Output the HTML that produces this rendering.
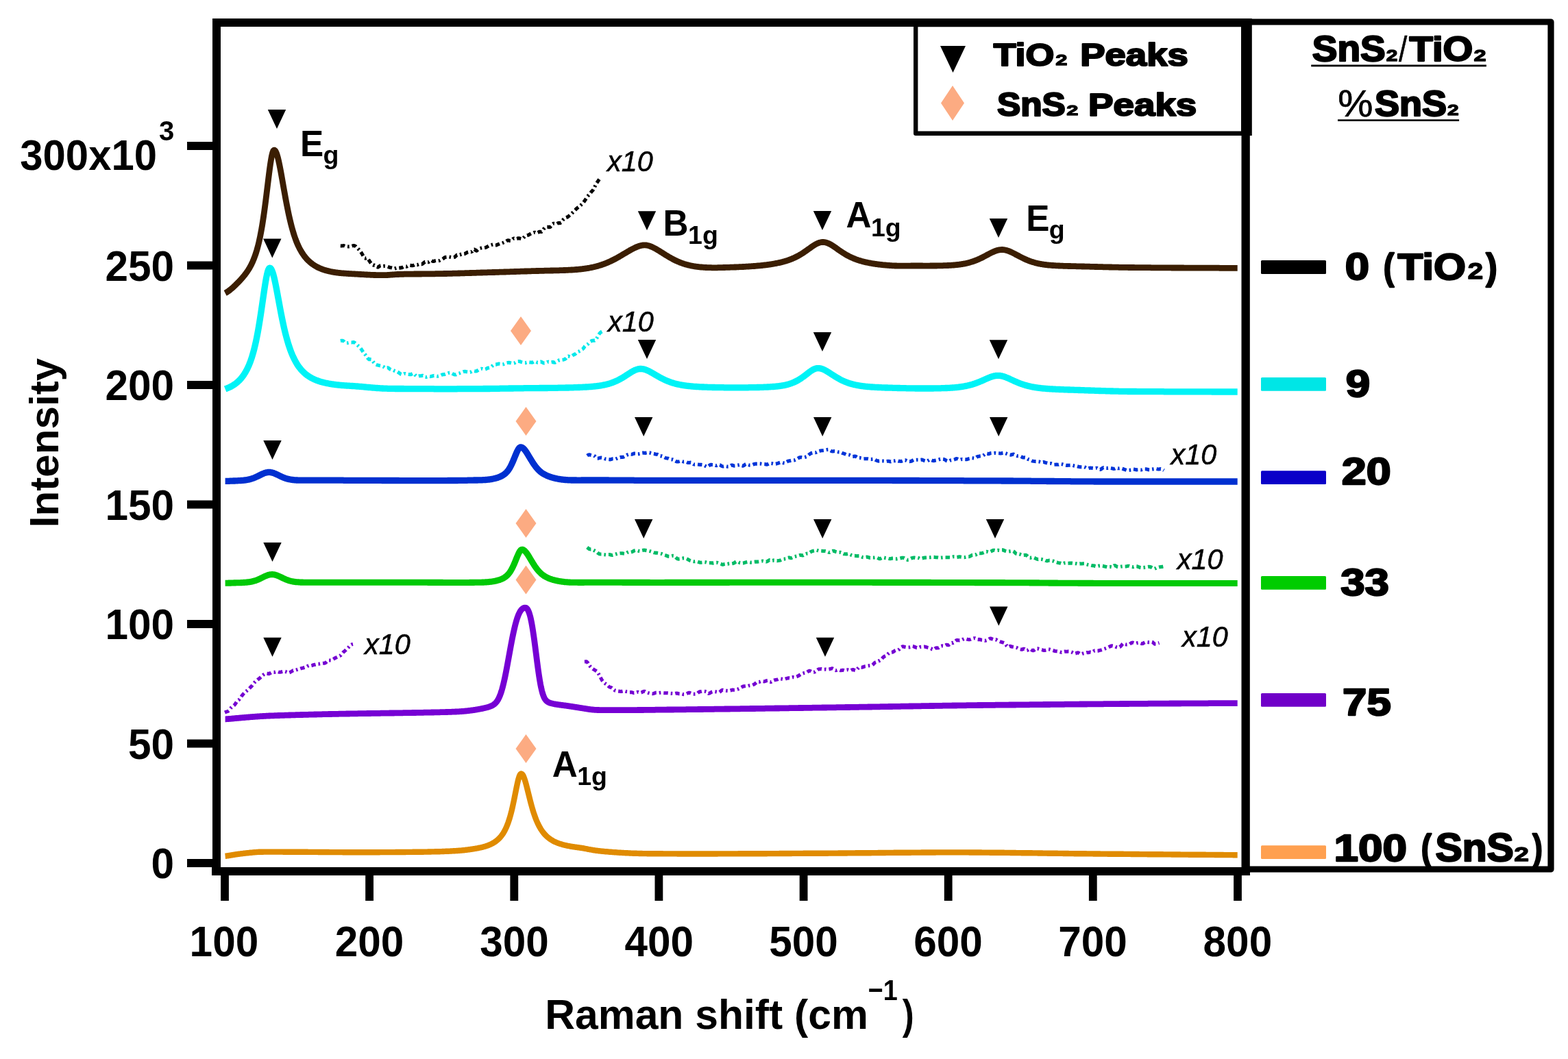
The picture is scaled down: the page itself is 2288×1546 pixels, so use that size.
<!DOCTYPE html>
<html lang="en"><head><meta charset="utf-8"><title>Raman spectra of SnS2/TiO2</title>
<style>
html,body{margin:0;padding:0;background:#fff;}
svg{display:block;}
.ab{font-family:"Liberation Sans",sans-serif;font-weight:700;fill:#000;}
.ar{font-family:"Liberation Sans",sans-serif;font-weight:400;fill:#000;stroke:#000;stroke-width:0.6px;}
.ai{font-family:"Liberation Sans",sans-serif;font-weight:400;font-style:italic;fill:#000;stroke:#000;stroke-width:0.5px;}
.blk{font-family:"Liberation Sans",sans-serif;font-weight:700;fill:#000;stroke:#000;stroke-width:2.4px;stroke-linejoin:round;paint-order:stroke fill;}
.s2{font-family:"Liberation Sans",sans-serif;font-weight:700;fill:#000;stroke:#000;stroke-width:1.4px;stroke-linejoin:round;paint-order:stroke fill;}
body{width:2288px;height:1546px;overflow:hidden;}
.c{fill:none;stroke-linejoin:round;stroke-linecap:butt;}
.d{fill:none;stroke-width:5.1;stroke-dasharray:6.5 4 2.6 4;stroke-linejoin:round;}
</style></head><body>
<svg xmlns="http://www.w3.org/2000/svg" width="2288" height="1546" viewBox="0 0 2288 1546">
<rect width="2288" height="1546" fill="#fff"/>
<g fill="#fcab82">
<path d="M760.0,462.0 l15.0,21.0 l-15.0,21.0 l-15.0,-21.0 z"/>
<path d="M767.5,594.0 l15.0,21.0 l-15.0,21.0 l-15.0,-21.0 z"/>
<path d="M767.5,743.0 l15.0,21.0 l-15.0,21.0 l-15.0,-21.0 z"/>
<path d="M767.5,825.6 l15.0,21.0 l-15.0,21.0 l-15.0,-21.0 z"/>
<path d="M767.5,1072.0 l15.0,21.0 l-15.0,21.0 l-15.0,-21.0 z"/>
</g>
<path class="d" stroke="#000000" d="M496.8,358.9 L498.4,359.0 L500.0,358.7 L501.6,358.6 L503.2,359.3 L504.8,359.7 L506.4,359.7 L508.0,359.9 L509.6,360.0 L511.2,359.7 L512.8,359.4 L514.4,358.9 L516.0,358.5 L517.6,358.7 L519.2,359.9 L520.8,361.6 L522.4,363.1 L524.0,364.5 L525.6,366.3 L527.2,368.8 L528.8,371.5 L530.4,374.4 L532.0,376.7 L533.6,377.2 L535.3,376.6 L536.9,377.6 L538.5,380.1 L540.1,382.6 L541.7,384.7 L543.3,386.5 L544.9,387.2 L546.5,387.1 L548.1,388.0 L549.7,389.6 L551.3,390.1 L552.9,389.3 L554.5,388.0 L556.1,387.6 L557.7,388.3 L559.3,388.6 L560.9,388.4 L562.5,388.5 L564.1,388.9 L565.7,389.3 L567.3,389.9 L568.9,390.5 L570.5,390.7 L572.1,391.1 L573.7,391.9 L575.3,392.2 L576.9,391.7 L578.5,391.2 L580.1,391.2 L581.7,391.3 L583.3,391.1 L584.9,390.9 L586.5,390.7 L588.1,389.9 L589.7,389.0 L591.3,388.9 L592.9,389.2 L594.5,388.7 L596.1,387.6 L597.7,387.2 L599.3,387.4 L600.9,387.7 L602.5,387.7 L604.1,387.1 L605.7,386.3 L607.3,386.6 L608.9,386.7 L610.5,386.0 L612.2,385.4 L613.8,385.6 L615.4,385.7 L617.0,385.0 L618.6,383.4 L620.2,382.3 L621.8,382.2 L623.4,382.7 L625.0,382.8 L626.6,381.7 L628.2,380.3 L629.8,380.4 L631.4,381.4 L633.0,381.5 L634.6,380.8 L636.2,380.5 L637.8,380.8 L639.4,380.9 L641.0,380.6 L642.6,379.7 L644.2,378.8 L645.8,378.1 L647.4,377.1 L649.0,375.8 L650.6,375.4 L652.2,375.2 L653.8,374.9 L655.4,375.0 L657.0,375.3 L658.6,375.6 L660.2,375.7 L661.8,375.8 L663.4,375.4 L665.0,373.9 L666.6,372.2 L668.2,371.9 L669.8,372.4 L671.4,372.0 L673.0,371.0 L674.6,370.7 L676.2,370.8 L677.8,370.6 L679.4,369.9 L681.0,368.9 L682.6,368.1 L684.2,367.7 L685.8,367.6 L687.5,367.8 L689.1,366.9 L690.7,364.7 L692.3,364.0 L693.9,365.5 L695.5,366.2 L697.1,364.6 L698.7,363.1 L700.3,362.6 L701.9,362.1 L703.5,361.7 L705.1,361.8 L706.7,361.8 L708.3,361.5 L709.9,360.8 L711.5,359.9 L713.1,358.9 L714.7,358.2 L716.3,357.8 L717.9,357.3 L719.5,356.9 L721.1,357.2 L722.7,358.0 L724.3,357.9 L725.9,357.2 L727.5,356.5 L729.1,355.8 L730.7,355.4 L732.3,355.2 L733.9,354.5 L735.5,353.7 L737.1,353.1 L738.7,352.1 L740.3,351.0 L741.9,350.8 L743.5,351.4 L745.1,351.5 L746.7,350.3 L748.3,348.8 L749.9,348.0 L751.5,348.5 L753.1,348.9 L754.7,348.4 L756.3,347.7 L757.9,347.9 L759.5,348.4 L761.1,348.8 L762.8,348.3 L764.4,346.6 L766.0,344.8 L767.6,343.9 L769.2,343.5 L770.8,343.2 L772.4,342.4 L774.0,341.4 L775.6,340.5 L777.2,340.1 L778.8,339.5 L780.4,339.2 L782.0,339.9 L783.6,340.3 L785.2,339.5 L786.8,338.3 L788.4,338.2 L790.0,338.5 L791.6,337.1 L793.2,334.5 L794.8,332.8 L796.4,331.9 L798.0,331.3 L799.6,331.3 L801.2,331.7 L802.8,331.5 L804.4,329.7 L806.0,327.3 L807.6,326.2 L809.2,326.4 L810.8,327.0 L812.4,326.8 L814.0,325.8 L815.6,325.4 L817.2,325.7 L818.8,324.8 L820.4,322.4 L822.0,320.4 L823.6,319.0 L825.2,317.9 L826.8,317.3 L828.4,316.8 L830.0,315.4 L831.6,314.0 L833.2,312.8 L834.8,311.2 L836.4,309.6 L838.0,308.0 L839.7,306.3 L841.3,304.5 L842.9,303.2 L844.5,302.0 L846.1,300.7 L847.7,299.3 L849.3,297.9 L850.9,296.3 L852.5,294.1 L854.1,291.6 L855.7,289.1 L857.3,286.8 L858.9,284.9 L860.5,283.1 L862.1,281.0 L863.7,279.1 L865.3,277.5 L866.9,274.9 L868.5,271.3 L870.1,268.1 L871.7,265.8 L873.3,263.4 L874.9,261.1 L876.5,260.1"/>
<path class="d" stroke="#00e8ea" d="M496.8,497.6 L498.4,497.3 L500.0,497.2 L501.6,498.1 L503.2,499.9 L504.8,500.8 L506.4,500.7 L508.0,500.5 L509.6,500.2 L511.3,500.0 L512.9,500.0 L514.5,499.7 L516.1,499.6 L517.7,500.3 L519.3,501.7 L520.9,503.2 L522.5,504.7 L524.1,506.1 L525.7,507.8 L527.3,509.9 L528.9,512.4 L530.5,514.8 L532.1,516.8 L533.7,518.7 L535.3,520.8 L536.9,523.3 L538.6,524.7 L540.2,524.5 L541.8,524.7 L543.4,526.3 L545.0,528.7 L546.6,530.7 L548.2,532.0 L549.8,532.7 L551.4,533.1 L553.0,533.4 L554.6,533.9 L556.2,534.2 L557.8,534.4 L559.4,535.2 L561.0,536.5 L562.6,537.3 L564.2,536.9 L565.9,536.7 L567.5,537.7 L569.1,539.0 L570.7,539.8 L572.3,540.1 L573.9,540.4 L575.5,541.3 L577.1,541.9 L578.7,542.0 L580.3,542.9 L581.9,544.1 L583.5,545.2 L585.1,546.3 L586.7,546.9 L588.3,546.3 L589.9,545.5 L591.5,545.5 L593.2,546.0 L594.8,546.3 L596.4,546.5 L598.0,546.8 L599.6,546.6 L601.2,545.8 L602.8,545.1 L604.4,545.9 L606.0,547.7 L607.6,549.1 L609.2,549.5 L610.8,549.1 L612.4,548.7 L614.0,548.7 L615.6,548.4 L617.2,548.2 L618.8,549.0 L620.5,550.2 L622.1,550.5 L623.7,550.0 L625.3,549.5 L626.9,549.4 L628.5,549.6 L630.1,549.3 L631.7,548.7 L633.3,548.4 L634.9,548.5 L636.5,549.0 L638.1,549.3 L639.7,549.1 L641.3,548.7 L642.9,548.1 L644.5,547.3 L646.1,546.8 L647.8,546.6 L649.4,546.4 L651.0,545.8 L652.6,545.2 L654.2,544.6 L655.8,544.1 L657.4,544.0 L659.0,544.7 L660.6,545.7 L662.2,546.5 L663.8,547.0 L665.4,546.9 L667.0,546.1 L668.6,545.3 L670.2,544.9 L671.8,544.4 L673.4,543.8 L675.1,543.1 L676.7,542.5 L678.3,542.3 L679.9,542.6 L681.5,542.8 L683.1,543.0 L684.7,543.6 L686.3,543.4 L687.9,542.5 L689.5,541.6 L691.1,541.5 L692.7,541.8 L694.3,542.0 L695.9,541.5 L697.5,540.5 L699.1,539.5 L700.7,538.8 L702.4,538.3 L704.0,538.5 L705.6,539.0 L707.2,539.4 L708.8,538.9 L710.4,537.9 L712.0,537.1 L713.6,537.0 L715.2,536.7 L716.8,535.7 L718.4,534.2 L720.0,532.8 L721.6,532.2 L723.2,532.1 L724.8,531.9 L726.4,531.4 L728.0,531.0 L729.7,531.2 L731.3,531.6 L732.9,532.0 L734.5,531.8 L736.1,531.1 L737.7,530.3 L739.3,529.8 L740.9,529.5 L742.5,529.4 L744.1,529.6 L745.7,529.9 L747.3,530.3 L748.9,530.5 L750.5,530.1 L752.1,529.0 L753.7,528.0 L755.3,527.6 L757.0,527.5 L758.6,527.7 L760.2,528.4 L761.8,528.9 L763.4,529.3 L765.0,529.8 L766.6,529.8 L768.2,529.1 L769.8,528.7 L771.4,528.7 L773.0,528.9 L774.6,529.0 L776.2,529.2 L777.8,528.7 L779.4,527.8 L781.0,527.8 L782.6,528.5 L784.3,529.3 L785.9,529.2 L787.5,528.3 L789.1,528.0 L790.7,528.6 L792.3,529.6 L793.9,530.2 L795.5,530.1 L797.1,529.3 L798.7,528.5 L800.3,528.1 L801.9,528.5 L803.5,529.0 L805.1,528.7 L806.7,528.5 L808.3,529.1 L809.9,529.3 L811.6,528.3 L813.2,527.2 L814.8,526.4 L816.4,525.7 L818.0,525.4 L819.6,525.4 L821.2,525.2 L822.8,524.9 L824.4,524.4 L826.0,522.9 L827.6,520.9 L829.2,520.0 L830.8,520.4 L832.4,520.8 L834.0,520.1 L835.6,518.9 L837.2,517.9 L838.9,517.1 L840.5,516.0 L842.1,514.5 L843.7,513.4 L845.3,512.8 L846.9,511.9 L848.5,510.7 L850.1,509.8 L851.7,508.1 L853.3,505.5 L854.9,503.8 L856.5,503.1 L858.1,502.1 L859.7,500.2 L861.3,498.7 L862.9,497.9 L864.5,497.2 L866.2,497.0 L867.8,497.1 L869.4,496.0 L871.0,493.4 L872.6,490.4 L874.2,487.8 L875.8,485.7 L877.4,484.5 L879.0,483.6"/>
<path class="d" stroke="#0034d8" d="M856.8,665.2 L858.4,664.0 L860.0,663.8 L861.6,664.3 L863.2,664.7 L864.8,664.8 L866.4,665.1 L868.0,666.1 L869.6,667.8 L871.2,669.2 L872.8,669.2 L874.4,668.6 L876.0,668.2 L877.6,668.1 L879.2,668.3 L880.8,668.9 L882.4,669.6 L884.0,670.1 L885.6,670.3 L887.2,670.4 L888.8,670.6 L890.4,670.9 L892.0,670.5 L893.6,669.8 L895.2,669.7 L896.8,670.1 L898.4,670.1 L900.0,669.4 L901.6,668.7 L903.2,668.1 L904.8,667.6 L906.4,667.4 L908.0,667.4 L909.6,667.2 L911.2,666.4 L912.8,665.2 L914.4,664.2 L916.0,663.8 L917.6,663.3 L919.2,663.0 L920.8,663.2 L922.4,663.2 L924.0,662.5 L925.6,662.0 L927.2,662.0 L928.8,662.5 L930.4,662.8 L932.0,662.7 L933.6,662.4 L935.2,661.9 L936.8,661.2 L938.4,661.0 L940.0,661.3 L941.6,661.4 L943.2,661.1 L944.8,660.8 L946.4,660.6 L948.0,660.8 L949.6,661.6 L951.2,662.1 L952.8,662.1 L954.4,662.4 L956.0,663.0 L957.6,663.2 L959.2,663.4 L960.8,664.2 L962.4,665.5 L964.0,665.9 L965.6,665.7 L967.2,666.2 L968.8,667.3 L970.4,668.2 L972.0,668.8 L973.6,669.0 L975.2,669.3 L976.8,670.0 L978.4,670.7 L980.0,670.9 L981.6,670.8 L983.2,671.3 L984.8,672.6 L986.4,673.5 L988.0,674.0 L989.6,674.0 L991.2,673.6 L992.8,673.1 L994.4,673.0 L996.0,673.6 L997.6,674.1 L999.2,674.0 L1000.8,674.2 L1002.4,674.9 L1004.0,675.5 L1005.6,675.5 L1007.2,675.1 L1008.8,675.3 L1010.4,676.5 L1012.0,677.7 L1013.6,678.1 L1015.2,678.0 L1016.8,677.8 L1018.4,678.0 L1020.0,678.2 L1021.6,678.4 L1023.2,678.3 L1024.8,678.5 L1026.4,678.9 L1028.0,679.6 L1029.6,680.5 L1031.2,681.3 L1032.8,681.2 L1034.4,680.0 L1036.0,678.7 L1037.6,678.3 L1039.2,678.5 L1040.8,678.6 L1042.4,678.8 L1044.0,679.5 L1045.6,679.6 L1047.2,678.8 L1048.8,678.4 L1050.4,678.7 L1052.0,679.7 L1053.6,680.6 L1055.2,681.0 L1056.8,680.7 L1058.4,680.6 L1060.0,680.8 L1061.6,681.2 L1063.2,681.1 L1064.8,680.4 L1066.4,679.4 L1068.0,679.0 L1069.6,679.5 L1071.2,680.1 L1072.8,680.0 L1074.4,679.5 L1076.0,679.1 L1077.6,678.9 L1079.2,678.6 L1080.8,678.9 L1082.4,679.8 L1084.0,680.2 L1085.6,679.4 L1087.2,678.2 L1088.8,677.5 L1090.4,677.7 L1092.0,678.6 L1093.6,679.1 L1095.2,679.0 L1096.8,678.7 L1098.4,678.4 L1100.0,677.7 L1101.6,677.2 L1103.2,677.1 L1104.8,677.2 L1106.4,677.1 L1108.0,676.8 L1109.6,676.9 L1111.2,677.2 L1112.8,677.5 L1114.4,677.5 L1116.0,677.6 L1117.6,677.9 L1119.2,678.1 L1120.8,677.5 L1122.4,676.7 L1124.0,676.4 L1125.6,676.5 L1127.2,676.8 L1128.8,677.2 L1130.4,677.4 L1132.0,677.2 L1133.6,676.8 L1135.2,676.4 L1136.8,675.7 L1138.4,675.2 L1140.0,675.2 L1141.6,675.4 L1143.2,675.9 L1144.8,676.1 L1146.4,675.4 L1148.0,674.2 L1149.6,673.3 L1151.2,672.9 L1152.8,672.7 L1154.4,672.3 L1156.0,672.1 L1157.6,672.1 L1159.2,671.9 L1160.8,671.3 L1162.4,670.5 L1164.0,669.4 L1165.6,668.4 L1167.2,667.7 L1168.8,667.5 L1170.4,667.8 L1172.0,667.9 L1173.6,667.6 L1175.2,667.2 L1176.8,666.7 L1178.4,665.6 L1180.0,664.2 L1181.6,662.8 L1183.2,661.8 L1184.8,661.3 L1186.4,660.9 L1188.0,660.8 L1189.6,660.8 L1191.2,660.4 L1192.8,659.6 L1194.4,658.7 L1196.0,658.3 L1197.6,658.0 L1199.2,657.8 L1200.8,657.7 L1202.4,657.5 L1204.0,657.2 L1205.6,656.8 L1207.2,656.4 L1208.8,656.3 L1210.4,656.8 L1212.0,657.8 L1213.6,658.8 L1215.2,659.0 L1216.8,658.6 L1218.4,658.7 L1220.0,659.1 L1221.6,659.5 L1223.2,659.9 L1224.8,660.0 L1226.4,660.1 L1228.0,660.8 L1229.6,661.6 L1231.2,662.1 L1232.8,662.7 L1234.4,663.5 L1236.0,663.8 L1237.6,663.7 L1239.2,664.0 L1240.8,664.7 L1242.4,665.7 L1244.0,666.5 L1245.6,666.4 L1247.2,666.0 L1248.8,666.3 L1250.4,667.4 L1252.0,668.4 L1253.6,668.4 L1255.2,668.4 L1256.8,668.7 L1258.4,669.3 L1260.0,669.8 L1261.6,669.7 L1263.2,669.7 L1264.8,669.8 L1266.4,669.8 L1268.0,670.1 L1269.6,670.5 L1271.2,670.6 L1272.8,670.2 L1274.4,670.0 L1276.0,670.5 L1277.6,671.5 L1279.2,672.4 L1280.8,672.9 L1282.4,673.1 L1284.0,673.0 L1285.6,672.9 L1287.2,673.0 L1288.8,673.0 L1290.4,673.1 L1292.0,673.4 L1293.6,673.6 L1295.2,673.3 L1296.8,673.3 L1298.4,673.7 L1300.0,673.9 L1301.6,673.4 L1303.2,672.9 L1304.8,672.8 L1306.4,672.7 L1308.0,672.4 L1309.6,672.7 L1311.2,673.2 L1312.8,673.3 L1314.4,673.5 L1316.0,673.2 L1317.6,672.6 L1319.2,672.0 L1320.8,671.8 L1322.4,672.3 L1324.0,673.1 L1325.6,673.4 L1327.2,673.6 L1328.8,673.5 L1330.4,673.0 L1332.0,672.0 L1333.6,671.2 L1335.2,671.2 L1336.8,671.4 L1338.4,671.2 L1340.0,671.2 L1341.6,671.4 L1343.2,671.2 L1344.8,671.0 L1346.4,671.5 L1348.0,672.2 L1349.6,672.8 L1351.2,673.3 L1352.8,673.2 L1354.4,672.3 L1356.0,671.3 L1357.6,671.1 L1359.2,671.8 L1360.8,672.5 L1362.4,672.6 L1364.0,672.4 L1365.6,672.0 L1367.2,671.7 L1368.8,671.3 L1370.4,670.8 L1372.0,670.2 L1373.6,670.0 L1375.2,670.1 L1376.8,670.3 L1378.4,670.9 L1380.0,671.8 L1381.6,672.9 L1383.2,673.5 L1384.8,673.0 L1386.4,672.2 L1388.0,671.8 L1389.6,671.6 L1391.2,671.4 L1392.8,670.9 L1394.4,670.0 L1396.0,669.5 L1397.6,670.2 L1399.2,671.0 L1400.8,671.2 L1402.4,670.7 L1404.0,670.4 L1405.6,670.5 L1407.2,670.5 L1408.8,670.6 L1410.4,670.7 L1412.0,670.3 L1413.6,669.7 L1415.2,669.4 L1416.8,669.0 L1418.4,668.7 L1420.0,668.8 L1421.6,669.0 L1423.2,668.7 L1424.8,667.5 L1426.4,666.5 L1428.0,666.2 L1429.6,665.9 L1431.2,665.7 L1432.8,665.6 L1434.4,665.1 L1436.0,664.0 L1437.6,662.7 L1439.2,661.9 L1440.8,662.2 L1442.4,662.7 L1444.0,662.3 L1445.6,661.5 L1447.2,661.3 L1448.8,661.5 L1450.4,661.5 L1452.0,661.3 L1453.6,661.5 L1455.2,661.7 L1456.8,661.7 L1458.4,661.8 L1460.0,662.0 L1461.6,661.8 L1463.2,661.3 L1464.8,661.1 L1466.4,661.4 L1468.0,662.0 L1469.6,662.6 L1471.2,663.2 L1472.8,663.8 L1474.4,664.1 L1476.0,663.9 L1477.6,663.3 L1479.2,663.1 L1480.8,664.0 L1482.4,665.1 L1484.0,665.6 L1485.6,665.8 L1487.2,665.8 L1488.8,666.0 L1490.4,666.8 L1492.0,667.7 L1493.6,668.0 L1495.2,667.8 L1496.8,668.0 L1498.4,669.2 L1500.0,670.3 L1501.6,670.8 L1503.2,671.2 L1504.8,672.2 L1506.4,673.0 L1508.0,673.3 L1509.6,673.5 L1511.2,673.6 L1512.8,673.6 L1514.4,673.6 L1516.0,673.8 L1517.6,674.4 L1519.2,674.9 L1520.8,674.7 L1522.4,674.4 L1524.0,674.8 L1525.6,675.4 L1527.2,675.7 L1528.8,676.1 L1530.4,676.5 L1532.0,676.5 L1533.6,676.5 L1535.2,677.0 L1536.8,677.8 L1538.4,678.3 L1540.0,678.2 L1541.6,678.1 L1543.2,678.3 L1544.8,678.2 L1546.4,677.7 L1548.0,677.4 L1549.6,677.7 L1551.2,678.0 L1552.8,678.5 L1554.4,679.1 L1556.0,679.4 L1557.6,679.4 L1559.2,679.3 L1560.8,679.2 L1562.4,679.1 L1564.0,679.1 L1565.6,679.4 L1567.2,680.0 L1568.8,680.3 L1570.4,680.3 L1572.0,680.7 L1573.6,681.2 L1575.2,681.6 L1576.8,681.8 L1578.4,681.9 L1580.0,681.6 L1581.6,681.5 L1583.2,682.1 L1584.8,683.1 L1586.4,683.7 L1588.0,683.7 L1589.6,683.2 L1591.2,683.1 L1592.8,683.2 L1594.4,683.4 L1596.0,683.6 L1597.6,683.5 L1599.2,683.2 L1600.8,683.3 L1602.4,684.2 L1604.0,685.3 L1605.6,685.5 L1607.2,684.5 L1608.8,683.2 L1610.4,682.6 L1612.0,682.9 L1613.6,683.3 L1615.2,683.4 L1616.8,683.4 L1618.4,683.2 L1620.0,683.3 L1621.6,683.6 L1623.2,683.9 L1624.8,684.4 L1626.4,684.3 L1628.0,683.5 L1629.6,683.3 L1631.2,683.8 L1632.8,683.8 L1634.4,683.6 L1636.0,683.7 L1637.6,684.2 L1639.2,684.7 L1640.8,685.3 L1642.4,685.9 L1644.0,686.5 L1645.6,686.6 L1647.2,686.4 L1648.8,686.3 L1650.4,686.1 L1652.0,685.4 L1653.6,684.9 L1655.2,685.1 L1656.8,685.6 L1658.4,685.9 L1660.0,685.8 L1661.6,685.7 L1663.2,685.9 L1664.8,686.0 L1666.4,685.6 L1668.0,685.1 L1669.6,684.8 L1671.2,684.8 L1672.8,684.9 L1674.4,685.3 L1676.0,685.8 L1677.6,685.9 L1679.2,685.5 L1680.8,685.1 L1682.4,684.9 L1684.0,684.7 L1685.6,684.3 L1687.2,684.3 L1688.8,684.7 L1690.4,685.0 L1692.0,684.9 L1693.6,684.5 L1695.2,684.8 L1696.8,685.7 L1698.4,686.7"/>
<path class="d" stroke="#00bb66" d="M856.8,799.1 L858.4,800.4 L860.0,801.6 L861.6,801.9 L863.2,801.9 L864.8,802.5 L866.4,803.4 L868.0,804.1 L869.6,804.9 L871.2,806.1 L872.8,807.6 L874.4,808.7 L876.0,809.0 L877.6,809.0 L879.2,809.2 L880.8,809.7 L882.4,809.8 L884.0,810.0 L885.6,809.8 L887.2,809.5 L888.8,809.5 L890.4,809.8 L892.0,810.3 L893.6,810.5 L895.2,810.1 L896.8,809.4 L898.4,808.9 L900.0,808.8 L901.6,808.4 L903.2,807.9 L904.8,807.7 L906.4,807.7 L908.0,807.7 L909.6,808.0 L911.2,808.2 L912.8,808.1 L914.4,807.3 L916.0,806.2 L917.6,805.6 L919.2,805.7 L920.8,806.0 L922.4,805.6 L924.0,804.7 L925.6,803.9 L927.2,803.5 L928.8,803.5 L930.4,803.8 L932.0,804.4 L933.6,804.6 L935.2,804.1 L936.8,803.6 L938.4,803.3 L940.0,803.1 L941.7,803.2 L943.3,803.7 L944.9,804.0 L946.5,804.2 L948.1,804.6 L949.7,805.0 L951.3,805.5 L952.9,806.2 L954.5,806.8 L956.1,807.1 L957.7,807.1 L959.3,807.2 L960.9,807.4 L962.5,807.8 L964.1,808.2 L965.7,808.5 L967.3,809.2 L968.9,810.2 L970.5,810.6 L972.1,811.0 L973.7,811.8 L975.3,812.3 L976.9,812.4 L978.5,812.1 L980.1,811.7 L981.7,811.3 L983.3,811.5 L984.9,812.6 L986.5,814.2 L988.1,815.6 L989.7,816.2 L991.3,815.9 L992.9,815.7 L994.5,815.4 L996.1,815.1 L997.7,814.8 L999.3,814.8 L1000.9,815.3 L1002.5,816.0 L1004.1,816.8 L1005.7,817.7 L1007.3,818.5 L1008.9,819.0 L1010.5,819.4 L1012.1,819.7 L1013.7,819.8 L1015.3,819.6 L1016.9,819.7 L1018.5,820.2 L1020.1,820.8 L1021.7,821.2 L1023.3,821.2 L1024.9,821.0 L1026.5,820.7 L1028.1,820.6 L1029.7,820.8 L1031.3,821.3 L1032.9,821.6 L1034.5,821.7 L1036.1,821.7 L1037.7,821.7 L1039.3,821.9 L1040.9,822.1 L1042.5,821.8 L1044.1,821.4 L1045.7,821.3 L1047.3,821.6 L1048.9,822.2 L1050.5,822.6 L1052.1,823.2 L1053.7,824.1 L1055.3,824.2 L1056.9,823.6 L1058.5,823.3 L1060.1,823.5 L1061.7,823.4 L1063.3,822.9 L1064.9,822.7 L1066.5,822.8 L1068.1,822.8 L1069.7,822.5 L1071.3,821.8 L1072.9,820.7 L1074.5,819.8 L1076.1,819.8 L1077.7,820.6 L1079.3,821.5 L1080.9,821.8 L1082.5,822.1 L1084.1,822.1 L1085.7,821.7 L1087.3,821.1 L1088.9,820.7 L1090.5,820.4 L1092.1,820.5 L1093.7,820.8 L1095.3,821.1 L1096.9,821.0 L1098.5,820.7 L1100.1,820.3 L1101.7,820.1 L1103.3,820.0 L1104.9,820.1 L1106.5,820.0 L1108.1,819.8 L1109.8,819.5 L1111.4,819.2 L1113.0,819.0 L1114.6,819.4 L1116.2,819.8 L1117.8,820.1 L1119.4,819.8 L1121.0,818.6 L1122.6,817.6 L1124.2,817.9 L1125.8,818.7 L1127.4,818.5 L1129.0,817.9 L1130.6,818.0 L1132.2,818.5 L1133.8,818.7 L1135.4,818.5 L1137.0,818.3 L1138.6,818.0 L1140.2,817.2 L1141.8,816.4 L1143.4,816.2 L1145.0,816.0 L1146.6,815.8 L1148.2,815.2 L1149.8,814.3 L1151.4,813.9 L1153.0,814.4 L1154.6,814.7 L1156.2,814.0 L1157.8,813.2 L1159.4,812.6 L1161.0,812.2 L1162.6,811.9 L1164.2,811.6 L1165.8,810.9 L1167.4,810.4 L1169.0,810.5 L1170.6,810.9 L1172.2,810.8 L1173.8,809.9 L1175.4,808.8 L1177.0,808.2 L1178.6,808.1 L1180.2,807.6 L1181.8,806.5 L1183.4,805.5 L1185.0,804.7 L1186.6,804.3 L1188.2,804.0 L1189.8,803.3 L1191.4,803.1 L1193.0,803.6 L1194.6,804.1 L1196.2,804.2 L1197.8,804.2 L1199.4,804.3 L1201.0,804.5 L1202.6,804.5 L1204.2,804.5 L1205.8,804.8 L1207.4,805.5 L1209.0,806.3 L1210.6,806.5 L1212.2,805.7 L1213.8,804.7 L1215.4,804.2 L1217.0,804.4 L1218.6,805.1 L1220.2,805.7 L1221.8,806.1 L1223.4,806.4 L1225.0,806.4 L1226.6,806.3 L1228.2,806.9 L1229.8,808.0 L1231.4,808.7 L1233.0,808.8 L1234.6,808.9 L1236.2,808.7 L1237.8,808.4 L1239.4,808.7 L1241.0,809.6 L1242.6,810.6 L1244.2,811.2 L1245.8,811.4 L1247.4,811.4 L1249.0,811.5 L1250.6,811.7 L1252.2,811.6 L1253.8,811.6 L1255.4,812.1 L1257.0,812.8 L1258.6,813.5 L1260.2,813.7 L1261.8,813.5 L1263.4,813.3 L1265.0,813.1 L1266.6,813.4 L1268.2,814.0 L1269.8,814.4 L1271.4,814.3 L1273.0,814.0 L1274.6,814.0 L1276.2,814.0 L1277.9,813.8 L1279.5,813.9 L1281.1,814.7 L1282.7,815.6 L1284.3,815.6 L1285.9,814.9 L1287.5,814.1 L1289.1,813.8 L1290.7,814.2 L1292.3,814.8 L1293.9,815.0 L1295.5,815.1 L1297.1,815.5 L1298.7,815.7 L1300.3,815.4 L1301.9,815.1 L1303.5,815.0 L1305.1,815.4 L1306.7,815.9 L1308.3,815.9 L1309.9,815.6 L1311.5,815.4 L1313.1,815.1 L1314.7,814.7 L1316.3,814.3 L1317.9,814.3 L1319.5,814.7 L1321.1,815.6 L1322.7,816.7 L1324.3,817.4 L1325.9,817.2 L1327.5,816.4 L1329.1,815.4 L1330.7,814.6 L1332.3,814.2 L1333.9,814.1 L1335.5,814.4 L1337.1,814.3 L1338.7,814.1 L1340.3,814.5 L1341.9,815.3 L1343.5,815.5 L1345.1,815.1 L1346.7,814.7 L1348.3,814.3 L1349.9,814.1 L1351.5,814.0 L1353.1,813.9 L1354.7,813.8 L1356.3,813.8 L1357.9,813.6 L1359.5,813.4 L1361.1,813.2 L1362.7,813.2 L1364.3,813.5 L1365.9,813.7 L1367.5,813.7 L1369.1,814.0 L1370.7,814.4 L1372.3,814.2 L1373.9,814.0 L1375.5,814.0 L1377.1,813.8 L1378.7,813.7 L1380.3,813.7 L1381.9,813.8 L1383.5,813.7 L1385.1,813.7 L1386.7,813.8 L1388.3,813.6 L1389.9,813.0 L1391.5,812.6 L1393.1,812.6 L1394.7,813.0 L1396.3,813.4 L1397.9,813.2 L1399.5,812.8 L1401.1,812.9 L1402.7,813.3 L1404.3,813.5 L1405.9,813.6 L1407.5,813.6 L1409.1,813.2 L1410.7,812.8 L1412.3,812.7 L1413.9,812.7 L1415.5,812.1 L1417.1,811.1 L1418.7,810.4 L1420.3,810.2 L1421.9,810.2 L1423.5,810.0 L1425.1,809.0 L1426.7,808.0 L1428.3,807.6 L1429.9,807.7 L1431.5,807.7 L1433.1,807.4 L1434.7,807.0 L1436.3,806.3 L1437.9,805.6 L1439.5,805.3 L1441.1,805.6 L1442.7,806.1 L1444.3,805.8 L1446.0,805.0 L1447.6,804.1 L1449.2,803.3 L1450.8,803.3 L1452.4,803.7 L1454.0,803.7 L1455.6,803.4 L1457.2,803.3 L1458.8,803.5 L1460.4,803.5 L1462.0,802.9 L1463.6,802.9 L1465.2,803.6 L1466.8,804.3 L1468.4,804.7 L1470.0,805.1 L1471.6,805.1 L1473.2,804.9 L1474.8,804.7 L1476.4,804.4 L1478.0,804.4 L1479.6,805.3 L1481.2,807.0 L1482.8,808.4 L1484.4,808.8 L1486.0,808.6 L1487.6,808.8 L1489.2,809.5 L1490.8,810.2 L1492.4,810.7 L1494.0,810.6 L1495.6,810.2 L1497.2,810.2 L1498.8,811.5 L1500.4,813.3 L1502.0,814.3 L1503.6,814.4 L1505.2,813.9 L1506.8,813.7 L1508.4,814.0 L1510.0,814.7 L1511.6,815.5 L1513.2,816.2 L1514.8,816.6 L1516.4,816.4 L1518.0,816.2 L1519.6,816.4 L1521.2,816.8 L1522.8,817.2 L1524.4,817.6 L1526.0,818.4 L1527.6,818.9 L1529.2,818.6 L1530.8,818.1 L1532.4,818.1 L1534.0,818.4 L1535.6,818.8 L1537.2,819.2 L1538.8,819.9 L1540.4,820.4 L1542.0,820.8 L1543.6,821.5 L1545.2,821.8 L1546.8,822.0 L1548.4,822.6 L1550.0,823.0 L1551.6,822.6 L1553.2,822.0 L1554.8,821.8 L1556.4,822.1 L1558.0,822.4 L1559.6,822.3 L1561.2,822.1 L1562.8,822.0 L1564.4,822.1 L1566.0,822.3 L1567.6,822.5 L1569.2,822.7 L1570.8,822.8 L1572.4,823.1 L1574.0,823.1 L1575.6,822.9 L1577.2,823.0 L1578.8,823.0 L1580.4,822.8 L1582.0,822.8 L1583.6,823.2 L1585.2,823.7 L1586.8,824.2 L1588.4,824.5 L1590.0,824.9 L1591.6,825.2 L1593.2,825.6 L1594.8,825.7 L1596.4,825.9 L1598.0,826.5 L1599.6,826.9 L1601.2,826.5 L1602.8,826.1 L1604.4,826.0 L1606.0,825.9 L1607.6,825.8 L1609.2,826.1 L1610.8,826.7 L1612.4,827.1 L1614.1,827.4 L1615.7,827.8 L1617.3,827.8 L1618.9,827.5 L1620.5,827.4 L1622.1,827.7 L1623.7,827.0 L1625.3,825.8 L1626.9,825.5 L1628.5,826.4 L1630.1,827.4 L1631.7,827.7 L1633.3,827.5 L1634.9,827.3 L1636.5,827.0 L1638.1,826.8 L1639.7,826.9 L1641.3,827.1 L1642.9,827.0 L1644.5,826.6 L1646.1,826.2 L1647.7,826.3 L1649.3,826.8 L1650.9,827.3 L1652.5,827.6 L1654.1,827.6 L1655.7,827.1 L1657.3,826.7 L1658.9,826.8 L1660.5,827.3 L1662.1,827.9 L1663.7,828.5 L1665.3,828.8 L1666.9,828.8 L1668.5,828.6 L1670.1,828.4 L1671.7,828.2 L1673.3,827.9 L1674.9,827.6 L1676.5,827.3 L1678.1,827.5 L1679.7,828.0 L1681.3,828.9 L1682.9,830.0 L1684.5,830.3 L1686.1,829.7 L1687.7,828.9 L1689.3,828.5 L1690.9,828.1 L1692.5,827.7 L1694.1,827.5 L1695.7,827.4 L1697.3,827.1"/>
<path class="d" stroke="#7400d2" d="M328.0,1040.1 L329.6,1039.4 L331.2,1038.9 L332.8,1038.3 L334.4,1037.0 L336.1,1034.8 L337.7,1032.6 L339.3,1031.1 L340.9,1030.3 L342.5,1028.9 L344.1,1026.5 L345.7,1023.9 L347.3,1022.4 L349.0,1021.3 L350.6,1019.2 L352.2,1016.7 L353.8,1014.6 L355.4,1012.8 L357.0,1011.2 L358.6,1009.7 L360.2,1008.4 L361.9,1007.0 L363.5,1005.4 L365.1,1003.7 L366.7,1002.2 L368.3,1000.4 L369.9,998.1 L371.5,996.2 L373.1,994.7 L374.8,993.3 L376.4,991.9 L378.0,990.8 L379.6,989.5 L381.2,987.9 L382.8,986.3 L384.4,985.0 L386.0,983.9 L387.6,983.3 L389.3,983.2 L390.9,983.4 L392.5,983.6 L394.1,982.9 L395.7,981.9 L397.3,981.5 L398.9,981.4 L400.5,981.4 L402.2,980.9 L403.8,980.5 L405.4,980.6 L407.0,981.2 L408.6,981.3 L410.2,981.0 L411.8,980.5 L413.4,980.1 L415.1,979.9 L416.7,980.4 L418.3,981.3 L419.9,982.0 L421.5,982.1 L423.1,981.5 L424.7,980.6 L426.3,979.6 L427.9,978.7 L429.6,978.5 L431.2,978.3 L432.8,977.8 L434.4,977.2 L436.0,976.8 L437.6,976.4 L439.2,975.8 L440.8,975.4 L442.5,975.0 L444.1,974.5 L445.7,974.0 L447.3,973.3 L448.9,972.3 L450.5,971.6 L452.1,971.7 L453.7,972.0 L455.4,971.6 L457.0,970.8 L458.6,970.4 L460.2,970.2 L461.8,969.8 L463.4,969.4 L465.0,969.3 L466.6,969.0 L468.2,968.7 L469.9,968.5 L471.5,968.3 L473.1,968.3 L474.7,967.8 L476.3,966.4 L477.9,964.8 L479.5,964.0 L481.1,964.0 L482.8,964.0 L484.4,963.5 L486.0,962.6 L487.6,961.5 L489.2,960.5 L490.8,959.8 L492.4,959.0 L494.0,958.2 L495.7,957.5 L497.3,956.5 L498.9,954.5 L500.5,952.6 L502.1,951.3 L503.7,949.7 L505.3,948.0 L506.9,946.6 L508.6,945.0 L510.2,943.2 L511.8,941.7 L513.4,940.8 L515.0,940.5"/>
<path class="d" stroke="#7400d2" d="M852.9,966.0 L854.5,965.9 L856.1,965.9 L857.7,967.6 L859.3,970.3 L860.9,972.6 L862.5,974.3 L864.1,975.7 L865.7,976.9 L867.3,977.9 L868.9,978.8 L870.5,979.9 L872.1,981.7 L873.7,984.2 L875.3,987.1 L876.9,990.2 L878.5,993.1 L880.1,995.2 L881.7,996.7 L883.3,998.0 L884.9,999.0 L886.5,1000.4 L888.1,1002.0 L889.7,1003.1 L891.3,1003.5 L892.9,1004.3 L894.5,1005.7 L896.1,1007.1 L897.7,1008.2 L899.3,1008.7 L900.9,1008.9 L902.5,1009.1 L904.1,1009.3 L905.7,1009.5 L907.3,1009.4 L908.9,1009.0 L910.5,1008.8 L912.1,1009.0 L913.7,1009.5 L915.3,1009.7 L916.9,1010.1 L918.5,1010.6 L920.1,1010.6 L921.7,1010.6 L923.3,1011.1 L924.9,1011.6 L926.5,1011.4 L928.1,1010.9 L929.7,1010.4 L931.3,1010.3 L932.9,1011.0 L934.5,1011.4 L936.1,1010.9 L937.7,1010.0 L939.3,1009.3 L940.9,1009.3 L942.5,1010.2 L944.1,1011.0 L945.7,1011.5 L947.3,1011.9 L948.9,1012.3 L950.5,1012.5 L952.1,1012.7 L953.7,1012.4 L955.3,1011.8 L956.9,1011.2 L958.5,1011.1 L960.1,1011.4 L961.7,1011.6 L963.3,1011.3 L964.9,1011.2 L966.5,1011.4 L968.1,1011.7 L969.7,1011.8 L971.3,1011.8 L972.9,1011.8 L974.5,1011.7 L976.1,1011.9 L977.7,1012.3 L979.3,1012.4 L980.9,1012.2 L982.5,1012.3 L984.1,1012.6 L985.7,1012.2 L987.3,1012.0 L988.9,1012.3 L990.5,1012.8 L992.1,1012.9 L993.7,1012.8 L995.3,1013.1 L996.9,1013.6 L998.5,1013.6 L1000.1,1013.2 L1001.7,1012.8 L1003.3,1012.0 L1004.9,1011.3 L1006.5,1011.4 L1008.1,1012.1 L1009.7,1012.7 L1011.3,1013.1 L1012.9,1013.2 L1014.5,1013.1 L1016.1,1012.9 L1017.7,1012.2 L1019.3,1010.7 L1020.9,1009.8 L1022.5,1009.6 L1024.1,1009.2 L1025.7,1008.9 L1027.3,1009.1 L1028.9,1009.3 L1030.5,1009.9 L1032.1,1011.3 L1033.7,1012.4 L1035.3,1012.1 L1036.9,1011.1 L1038.5,1010.2 L1040.1,1009.7 L1041.7,1009.6 L1043.3,1009.7 L1044.9,1009.9 L1046.5,1010.2 L1048.1,1010.6 L1049.7,1010.5 L1051.3,1009.4 L1052.9,1007.8 L1054.5,1007.2 L1056.1,1007.6 L1057.7,1008.1 L1059.3,1008.3 L1060.9,1008.4 L1062.5,1008.5 L1064.2,1008.5 L1065.8,1008.1 L1067.4,1007.4 L1069.0,1007.1 L1070.6,1007.3 L1072.2,1007.2 L1073.8,1006.9 L1075.4,1006.5 L1077.0,1006.0 L1078.6,1005.2 L1080.2,1004.3 L1081.8,1003.4 L1083.4,1002.5 L1085.0,1001.9 L1086.6,1001.7 L1088.2,1001.5 L1089.8,1001.6 L1091.4,1001.6 L1093.0,1001.0 L1094.6,1000.8 L1096.2,1000.8 L1097.8,1000.2 L1099.4,999.5 L1101.0,998.7 L1102.6,997.3 L1104.2,995.9 L1105.8,995.4 L1107.4,995.5 L1109.0,995.2 L1110.6,994.6 L1112.2,994.5 L1113.8,994.8 L1115.4,994.9 L1117.0,994.4 L1118.6,993.7 L1120.2,993.5 L1121.8,994.3 L1123.4,995.4 L1125.0,995.7 L1126.6,994.6 L1128.2,993.5 L1129.8,992.9 L1131.4,992.6 L1133.0,992.3 L1134.6,991.9 L1136.2,991.2 L1137.8,990.7 L1139.4,990.9 L1141.0,991.2 L1142.6,991.5 L1144.2,991.5 L1145.8,991.2 L1147.4,990.6 L1149.0,990.1 L1150.6,989.7 L1152.2,989.9 L1153.8,989.7 L1155.4,988.9 L1157.0,988.5 L1158.6,988.7 L1160.2,988.6 L1161.8,988.0 L1163.4,987.4 L1165.0,986.7 L1166.6,985.6 L1168.2,984.5 L1169.8,983.8 L1171.4,983.2 L1173.0,982.6 L1174.6,982.3 L1176.2,982.0 L1177.8,981.2 L1179.4,980.0 L1181.0,979.2 L1182.6,979.6 L1184.2,980.6 L1185.8,981.4 L1187.4,981.4 L1189.0,980.9 L1190.6,979.8 L1192.2,978.4 L1193.8,977.2 L1195.4,976.8 L1197.0,976.7 L1198.6,976.6 L1200.2,976.9 L1201.8,977.4 L1203.4,977.3 L1205.0,977.0 L1206.6,977.2 L1208.2,977.2 L1209.8,976.9 L1211.4,976.6 L1213.0,976.1 L1214.6,975.8 L1216.2,976.6 L1217.8,978.0 L1219.4,978.7 L1221.0,978.5 L1222.6,978.0 L1224.2,978.1 L1225.8,978.7 L1227.4,978.8 L1229.0,978.4 L1230.6,978.4 L1232.2,978.9 L1233.8,978.8 L1235.4,978.1 L1237.0,977.8 L1238.6,978.3 L1240.2,978.9 L1241.8,978.6 L1243.4,977.7 L1245.0,977.5 L1246.6,978.3 L1248.2,978.8 L1249.8,978.1 L1251.4,976.3 L1253.0,974.5 L1254.6,973.9 L1256.2,974.2 L1257.8,974.3 L1259.4,973.8 L1261.0,973.1 L1262.6,972.7 L1264.2,972.5 L1265.8,972.2 L1267.4,971.9 L1269.0,971.8 L1270.6,971.7 L1272.2,971.5 L1273.8,970.2 L1275.4,968.4 L1277.0,967.1 L1278.6,966.5 L1280.2,965.8 L1281.8,965.0 L1283.4,964.5 L1285.0,963.6 L1286.6,962.1 L1288.2,960.2 L1289.8,958.7 L1291.4,957.8 L1293.0,957.2 L1294.6,956.0 L1296.2,954.3 L1297.8,953.0 L1299.4,952.5 L1301.0,952.3 L1302.6,952.0 L1304.2,951.0 L1305.8,949.9 L1307.4,949.3 L1309.0,949.3 L1310.6,948.9 L1312.2,947.9 L1313.8,946.2 L1315.4,944.5 L1317.0,943.7 L1318.6,944.0 L1320.2,944.6 L1321.8,944.9 L1323.4,945.0 L1325.0,945.1 L1326.6,945.0 L1328.2,944.7 L1329.8,943.9 L1331.4,943.2 L1333.0,943.6 L1334.6,944.5 L1336.2,945.0 L1337.8,945.7 L1339.4,945.8 L1341.0,945.2 L1342.6,944.5 L1344.2,944.4 L1345.8,944.5 L1347.4,944.3 L1349.0,944.1 L1350.6,944.4 L1352.2,944.9 L1353.8,945.4 L1355.4,945.8 L1357.0,946.1 L1358.6,946.7 L1360.2,947.9 L1361.8,948.3 L1363.4,947.4 L1365.0,946.2 L1366.6,945.8 L1368.2,946.0 L1369.8,945.7 L1371.4,944.6 L1373.0,943.4 L1374.6,942.9 L1376.2,943.1 L1377.8,943.1 L1379.4,942.2 L1381.0,941.3 L1382.6,941.6 L1384.2,941.8 L1385.8,940.5 L1387.4,938.9 L1389.0,938.4 L1390.6,938.6 L1392.2,937.8 L1393.8,936.2 L1395.4,934.8 L1397.0,934.4 L1398.6,934.7 L1400.2,934.9 L1401.8,934.7 L1403.4,934.2 L1405.0,933.4 L1406.6,932.7 L1408.2,932.4 L1409.8,932.8 L1411.4,933.3 L1413.0,933.6 L1414.6,933.8 L1416.2,933.4 L1417.8,932.7 L1419.4,932.2 L1421.0,931.8 L1422.6,931.7 L1424.2,932.4 L1425.8,933.4 L1427.4,933.6 L1429.0,933.4 L1430.6,933.8 L1432.2,934.2 L1433.8,934.3 L1435.4,934.8 L1437.0,935.3 L1438.6,935.1 L1440.2,934.6 L1441.8,933.9 L1443.4,932.8 L1445.0,932.0 L1446.6,932.3 L1448.2,933.2 L1449.8,933.8 L1451.4,933.6 L1453.0,933.6 L1454.6,934.4 L1456.2,935.4 L1457.8,936.2 L1459.4,936.8 L1461.0,937.2 L1462.6,937.7 L1464.2,938.1 L1465.8,938.7 L1467.4,940.3 L1469.0,942.9 L1470.6,944.5 L1472.2,944.1 L1473.8,943.3 L1475.4,943.7 L1477.0,944.2 L1478.6,944.3 L1480.2,944.5 L1481.8,945.0 L1483.5,945.5 L1485.1,946.3 L1486.7,947.2 L1488.3,947.7 L1489.9,948.1 L1491.5,948.1 L1493.1,947.4 L1494.7,947.3 L1496.3,948.5 L1497.9,949.5 L1499.5,949.2 L1501.1,948.2 L1502.7,947.5 L1504.3,948.1 L1505.9,949.3 L1507.5,949.8 L1509.1,949.1 L1510.7,947.8 L1512.3,946.9 L1513.9,946.8 L1515.5,947.3 L1517.1,947.8 L1518.7,948.1 L1520.3,948.5 L1521.9,949.2 L1523.5,949.5 L1525.1,949.4 L1526.7,949.0 L1528.3,948.3 L1529.9,947.8 L1531.5,948.0 L1533.1,948.5 L1534.7,949.0 L1536.3,949.5 L1537.9,950.0 L1539.5,950.5 L1541.1,950.7 L1542.7,950.8 L1544.3,951.1 L1545.9,951.5 L1547.5,952.0 L1549.1,952.4 L1550.7,952.1 L1552.3,951.4 L1553.9,951.1 L1555.5,951.2 L1557.1,951.2 L1558.7,950.9 L1560.3,950.9 L1561.9,951.3 L1563.5,951.9 L1565.1,952.7 L1566.7,953.7 L1568.3,954.2 L1569.9,953.8 L1571.5,953.0 L1573.1,952.8 L1574.7,953.6 L1576.3,954.7 L1577.9,954.7 L1579.5,954.1 L1581.1,954.0 L1582.7,953.7 L1584.3,952.9 L1585.9,952.5 L1587.5,952.7 L1589.1,952.4 L1590.7,952.0 L1592.3,952.2 L1593.9,952.0 L1595.5,950.9 L1597.1,949.9 L1598.7,949.8 L1600.3,950.3 L1601.9,950.2 L1603.5,949.7 L1605.1,949.3 L1606.7,949.0 L1608.3,948.5 L1609.9,948.0 L1611.5,947.3 L1613.1,946.7 L1614.7,946.1 L1616.3,945.3 L1617.9,944.5 L1619.5,943.9 L1621.1,943.1 L1622.7,942.8 L1624.3,943.1 L1625.9,943.5 L1627.5,944.0 L1629.1,944.8 L1630.7,945.2 L1632.3,945.1 L1633.9,944.6 L1635.5,943.3 L1637.1,941.2 L1638.7,939.7 L1640.3,939.7 L1641.9,940.6 L1643.5,941.0 L1645.1,940.8 L1646.7,940.8 L1648.3,940.4 L1649.9,939.2 L1651.5,938.2 L1653.1,938.1 L1654.7,938.7 L1656.3,939.2 L1657.9,939.1 L1659.5,938.6 L1661.1,938.4 L1662.7,938.6 L1664.3,939.1 L1665.9,939.7 L1667.5,939.5 L1669.1,938.5 L1670.7,937.7 L1672.3,937.4 L1673.9,937.4 L1675.5,937.6 L1677.1,937.6 L1678.7,937.3 L1680.3,937.0 L1681.9,937.5 L1683.5,939.0 L1685.1,940.2 L1686.7,940.2 L1688.3,939.6 L1689.9,939.0 L1691.5,938.5"/>
<path class="c" stroke="#3b1e02" stroke-width="8.8" d="M328.6,427.9 L329.6,427.4 L330.6,426.8 L331.6,426.1 L332.6,425.5 L333.6,424.8 L334.6,424.0 L335.6,423.2 L336.6,422.4 L337.6,421.6 L338.6,420.8 L339.6,419.9 L340.6,419.0 L341.6,418.1 L342.6,417.1 L343.6,416.2 L344.6,415.2 L345.6,414.2 L346.6,413.2 L347.6,412.2 L348.6,411.1 L349.6,410.1 L350.6,409.0 L351.6,407.9 L352.6,406.7 L353.6,405.6 L354.6,404.4 L355.6,403.2 L356.6,402.0 L357.6,400.7 L358.6,399.4 L359.6,398.0 L360.6,396.6 L361.6,395.1 L362.6,393.6 L363.6,391.9 L364.6,390.2 L365.6,388.4 L366.6,386.5 L367.6,384.4 L368.6,382.3 L369.6,379.9 L370.6,377.5 L371.6,374.8 L372.6,372.0 L373.6,369.0 L374.6,365.8 L375.6,362.3 L376.6,358.5 L377.6,354.5 L378.6,350.1 L379.6,345.3 L380.6,340.2 L381.6,334.8 L382.6,328.9 L383.6,322.6 L384.6,316.0 L385.6,309.0 L386.6,301.6 L387.6,294.0 L388.6,286.0 L389.6,277.9 L390.6,269.7 L391.6,261.6 L392.6,253.6 L393.6,245.9 L394.6,238.9 L395.6,232.6 L396.6,227.3 L397.6,223.2 L398.6,220.4 L399.6,219.2 L400.6,219.2 L401.6,220.1 L402.6,221.8 L403.6,224.1 L404.6,227.2 L405.6,230.8 L406.6,235.0 L407.6,239.6 L408.6,244.6 L409.6,249.9 L410.6,255.4 L411.6,261.0 L412.6,266.7 L413.6,272.4 L414.6,278.0 L415.6,283.6 L416.6,289.1 L417.6,294.5 L418.6,299.7 L419.6,304.7 L420.6,309.6 L421.6,314.3 L422.6,318.8 L423.6,323.0 L424.6,327.1 L425.6,331.0 L426.6,334.7 L427.6,338.1 L428.6,341.4 L429.6,344.5 L430.6,347.4 L431.6,350.2 L432.6,352.8 L433.6,355.2 L434.6,357.5 L435.6,359.6 L436.6,361.7 L437.6,363.6 L438.6,365.4 L439.6,367.2 L440.6,368.8 L441.6,370.3 L442.6,371.8 L443.6,373.2 L444.6,374.5 L445.6,375.8 L446.6,376.9 L447.6,378.1 L448.6,379.1 L449.6,380.2 L450.6,381.1 L451.6,382.0 L452.6,382.9 L453.6,383.7 L454.6,384.5 L455.6,385.3 L456.6,386.0 L457.6,386.7 L458.6,387.3 L459.6,388.0 L460.6,388.6 L461.6,389.1 L462.6,389.7 L463.6,390.2 L464.6,390.7 L465.6,391.1 L466.6,391.6 L467.6,392.0 L468.6,392.4 L469.6,392.8 L470.6,393.2 L471.6,393.5 L472.6,393.9 L473.6,394.2 L474.6,394.5 L475.6,394.8 L476.6,395.1 L477.6,395.3 L478.6,395.6 L479.6,395.8 L480.6,396.1 L481.6,396.3 L482.6,396.5 L483.6,396.7 L484.6,396.9 L485.6,397.1 L486.6,397.3 L487.6,397.4 L488.6,397.6 L489.6,397.7 L490.6,397.9 L491.6,398.0 L492.6,398.1 L493.6,398.3 L494.6,398.4 L495.6,398.5 L496.6,398.6 L497.6,398.7 L498.6,398.8 L499.6,398.9 L500.6,398.9 L501.6,399.0 L502.6,399.1 L503.6,399.2 L504.6,399.2 L505.6,399.3 L506.6,399.4 L507.6,399.4 L508.6,399.5 L509.6,399.6 L510.6,399.6 L511.6,399.7 L512.6,399.7 L513.6,399.8 L514.6,399.8 L515.6,399.9 L516.6,399.9 L517.6,400.0 L518.6,400.1 L519.6,400.1 L520.6,400.2 L521.6,400.2 L522.6,400.3 L523.6,400.3 L524.6,400.4 L525.6,400.5 L526.6,400.5 L527.6,400.6 L528.6,400.6 L529.6,400.7 L530.6,400.7 L531.6,400.8 L532.6,400.8 L533.6,400.9 L534.6,401.0 L535.6,401.0 L536.6,401.1 L537.6,401.1 L538.6,401.2 L539.6,401.2 L540.6,401.3 L541.6,401.3 L542.6,401.3 L543.6,401.4 L544.6,401.4 L545.6,401.5 L546.6,401.5 L547.6,401.5 L548.6,401.6 L549.6,401.6 L550.6,401.6 L551.6,401.7 L552.6,401.7 L553.6,401.7 L554.6,401.7 L555.6,401.7 L556.6,401.7 L557.6,401.7 L558.6,401.7 L559.6,401.7 L560.6,401.7 L561.6,401.7 L562.6,401.6 L563.6,401.6 L564.6,401.6 L565.6,401.5 L566.6,401.4 L567.6,401.4 L568.6,401.3 L569.6,401.2 L570.6,401.1 L571.6,401.1 L572.6,401.0 L573.6,400.9 L574.6,400.8 L575.6,400.8 L576.6,400.7 L577.6,400.6 L578.6,400.6 L579.6,400.5 L580.6,400.5 L581.6,400.5 L582.6,400.4 L583.6,400.4 L584.6,400.4 L585.6,400.3 L586.6,400.3 L587.6,400.3 L588.6,400.3 L589.6,400.2 L590.6,400.2 L591.6,400.2 L592.6,400.2 L593.6,400.2 L594.6,400.2 L595.6,400.2 L596.6,400.1 L597.6,400.1 L598.6,400.1 L599.6,400.1 L600.6,400.1 L601.6,400.1 L602.6,400.1 L603.6,400.1 L604.6,400.0 L605.6,400.0 L606.6,400.0 L607.6,400.0 L608.6,400.0 L609.6,400.0 L610.6,400.0 L611.6,400.0 L612.6,400.0 L613.6,400.0 L614.6,400.0 L615.6,399.9 L616.6,399.9 L617.6,399.9 L618.6,399.9 L619.6,399.9 L620.6,399.9 L621.6,399.9 L622.6,399.9 L623.6,399.9 L624.6,399.9 L625.6,399.9 L626.6,399.8 L627.6,399.8 L628.6,399.8 L629.6,399.8 L630.6,399.8 L631.6,399.8 L632.6,399.8 L633.6,399.8 L634.6,399.8 L635.6,399.7 L636.6,399.7 L637.6,399.7 L638.6,399.7 L639.6,399.7 L640.6,399.7 L641.6,399.7 L642.6,399.6 L643.6,399.6 L644.6,399.6 L645.6,399.6 L646.6,399.6 L647.6,399.5 L648.6,399.5 L649.6,399.5 L650.6,399.5 L651.6,399.5 L652.6,399.4 L653.6,399.4 L654.6,399.4 L655.6,399.4 L656.6,399.3 L657.6,399.3 L658.6,399.3 L659.6,399.3 L660.6,399.2 L661.6,399.2 L662.6,399.2 L663.6,399.2 L664.6,399.1 L665.6,399.1 L666.6,399.1 L667.6,399.1 L668.6,399.0 L669.6,399.0 L670.6,399.0 L671.6,398.9 L672.6,398.9 L673.6,398.9 L674.6,398.9 L675.6,398.8 L676.6,398.8 L677.6,398.8 L678.6,398.7 L679.6,398.7 L680.6,398.7 L681.6,398.6 L682.6,398.6 L683.6,398.6 L684.6,398.6 L685.6,398.5 L686.6,398.5 L687.6,398.5 L688.6,398.4 L689.6,398.4 L690.6,398.4 L691.6,398.3 L692.6,398.3 L693.6,398.3 L694.6,398.3 L695.6,398.2 L696.6,398.2 L697.6,398.2 L698.6,398.1 L699.6,398.1 L700.6,398.1 L701.6,398.0 L702.6,398.0 L703.6,398.0 L704.6,397.9 L705.6,397.9 L706.6,397.9 L707.6,397.9 L708.6,397.8 L709.6,397.8 L710.6,397.8 L711.6,397.7 L712.6,397.7 L713.6,397.7 L714.6,397.7 L715.6,397.6 L716.6,397.6 L717.6,397.6 L718.6,397.5 L719.6,397.5 L720.6,397.5 L721.6,397.5 L722.6,397.4 L723.6,397.4 L724.6,397.4 L725.6,397.3 L726.6,397.3 L727.6,397.3 L728.6,397.2 L729.6,397.2 L730.6,397.2 L731.6,397.2 L732.6,397.1 L733.6,397.1 L734.6,397.1 L735.6,397.0 L736.6,397.0 L737.6,397.0 L738.6,396.9 L739.6,396.9 L740.6,396.9 L741.6,396.8 L742.6,396.8 L743.6,396.8 L744.6,396.7 L745.6,396.7 L746.6,396.7 L747.6,396.6 L748.6,396.6 L749.6,396.6 L750.6,396.5 L751.6,396.5 L752.6,396.5 L753.6,396.4 L754.6,396.4 L755.6,396.4 L756.6,396.3 L757.6,396.3 L758.6,396.3 L759.6,396.2 L760.6,396.2 L761.6,396.2 L762.6,396.1 L763.6,396.1 L764.6,396.1 L765.6,396.0 L766.6,396.0 L767.6,396.0 L768.6,396.0 L769.6,395.9 L770.6,395.9 L771.6,395.9 L772.6,395.8 L773.6,395.8 L774.6,395.8 L775.6,395.7 L776.6,395.7 L777.6,395.7 L778.6,395.7 L779.6,395.6 L780.6,395.6 L781.6,395.6 L782.6,395.5 L783.6,395.5 L784.6,395.5 L785.6,395.5 L786.6,395.4 L787.6,395.4 L788.6,395.4 L789.6,395.4 L790.6,395.3 L791.6,395.3 L792.6,395.3 L793.6,395.3 L794.6,395.2 L795.6,395.2 L796.6,395.2 L797.6,395.2 L798.6,395.1 L799.6,395.1 L800.6,395.1 L801.6,395.1 L802.6,395.1 L803.6,395.0 L804.6,395.0 L805.6,395.0 L806.6,395.0 L807.6,394.9 L808.6,394.9 L809.6,394.9 L810.6,394.9 L811.6,394.9 L812.6,394.8 L813.6,394.8 L814.6,394.8 L815.6,394.8 L816.6,394.7 L817.6,394.7 L818.6,394.7 L819.6,394.6 L820.6,394.6 L821.6,394.6 L822.6,394.5 L823.6,394.5 L824.6,394.5 L825.6,394.4 L826.6,394.4 L827.6,394.3 L828.6,394.3 L829.6,394.2 L830.6,394.2 L831.6,394.1 L832.6,394.1 L833.6,394.0 L834.6,394.0 L835.6,393.9 L836.6,393.8 L837.6,393.8 L838.6,393.7 L839.6,393.6 L840.6,393.5 L841.6,393.5 L842.6,393.4 L843.6,393.3 L844.6,393.2 L845.6,393.1 L846.6,393.0 L847.6,392.9 L848.6,392.8 L849.6,392.7 L850.6,392.5 L851.6,392.4 L852.6,392.3 L853.6,392.1 L854.6,392.0 L855.6,391.8 L856.6,391.7 L857.6,391.5 L858.6,391.4 L859.6,391.2 L860.6,391.0 L861.6,390.8 L862.6,390.6 L863.6,390.4 L864.6,390.2 L865.6,390.0 L866.6,389.8 L867.6,389.5 L868.6,389.3 L869.6,389.0 L870.6,388.8 L871.6,388.5 L872.6,388.2 L873.6,387.9 L874.6,387.6 L875.6,387.3 L876.6,387.0 L877.6,386.7 L878.6,386.3 L879.6,386.0 L880.6,385.6 L881.6,385.3 L882.6,384.9 L883.6,384.5 L884.6,384.1 L885.6,383.7 L886.6,383.3 L887.6,382.8 L888.6,382.4 L889.6,381.9 L890.6,381.5 L891.6,381.0 L892.6,380.5 L893.6,380.0 L894.6,379.5 L895.6,379.0 L896.6,378.5 L897.6,378.0 L898.6,377.5 L899.6,376.9 L900.6,376.4 L901.6,375.8 L902.6,375.2 L903.6,374.7 L904.6,374.1 L905.6,373.5 L906.6,372.9 L907.6,372.3 L908.6,371.7 L909.6,371.1 L910.6,370.5 L911.6,369.9 L912.6,369.4 L913.6,368.8 L914.6,368.2 L915.6,367.6 L916.6,367.0 L917.6,366.4 L918.6,365.8 L919.6,365.3 L920.6,364.7 L921.6,364.1 L922.6,363.6 L923.6,363.1 L924.6,362.6 L925.6,362.1 L926.6,361.6 L927.6,361.2 L928.6,360.7 L929.6,360.3 L930.6,359.9 L931.6,359.6 L932.6,359.2 L933.6,358.9 L934.6,358.7 L935.6,358.4 L936.6,358.2 L937.6,358.1 L938.6,357.9 L939.6,357.9 L940.6,357.8 L941.6,357.9 L942.6,357.9 L943.6,358.1 L944.6,358.3 L945.6,358.5 L946.6,358.7 L947.6,359.0 L948.6,359.4 L949.6,359.8 L950.6,360.2 L951.6,360.6 L952.6,361.1 L953.6,361.6 L954.6,362.1 L955.6,362.6 L956.6,363.1 L957.6,363.7 L958.6,364.3 L959.6,364.9 L960.6,365.5 L961.6,366.1 L962.6,366.7 L963.6,367.4 L964.6,368.0 L965.6,368.6 L966.6,369.2 L967.6,369.9 L968.6,370.5 L969.6,371.1 L970.6,371.8 L971.6,372.4 L972.6,373.0 L973.6,373.6 L974.6,374.2 L975.6,374.8 L976.6,375.4 L977.6,376.0 L978.6,376.5 L979.6,377.1 L980.6,377.6 L981.6,378.2 L982.6,378.7 L983.6,379.2 L984.6,379.7 L985.6,380.2 L986.6,380.7 L987.6,381.1 L988.6,381.6 L989.6,382.0 L990.6,382.4 L991.6,382.9 L992.6,383.3 L993.6,383.6 L994.6,384.0 L995.6,384.4 L996.6,384.7 L997.6,385.1 L998.6,385.4 L999.6,385.7 L1000.6,386.0 L1001.6,386.3 L1002.6,386.5 L1003.6,386.8 L1004.6,387.1 L1005.6,387.3 L1006.6,387.5 L1007.6,387.7 L1008.6,388.0 L1009.6,388.2 L1010.6,388.3 L1011.6,388.5 L1012.6,388.7 L1013.6,388.9 L1014.6,389.0 L1015.6,389.2 L1016.6,389.3 L1017.6,389.4 L1018.6,389.5 L1019.6,389.7 L1020.6,389.8 L1021.6,389.9 L1022.6,390.0 L1023.6,390.0 L1024.6,390.1 L1025.6,390.2 L1026.6,390.3 L1027.6,390.3 L1028.6,390.4 L1029.6,390.5 L1030.6,390.5 L1031.6,390.6 L1032.6,390.6 L1033.6,390.6 L1034.6,390.7 L1035.6,390.7 L1036.6,390.7 L1037.6,390.7 L1038.6,390.8 L1039.6,390.8 L1040.6,390.8 L1041.6,390.8 L1042.6,390.8 L1043.6,390.8 L1044.6,390.8 L1045.6,390.8 L1046.6,390.8 L1047.6,390.7 L1048.6,390.7 L1049.6,390.7 L1050.6,390.7 L1051.6,390.7 L1052.6,390.6 L1053.6,390.6 L1054.6,390.6 L1055.6,390.5 L1056.6,390.5 L1057.6,390.5 L1058.6,390.4 L1059.6,390.4 L1060.6,390.4 L1061.6,390.3 L1062.6,390.3 L1063.6,390.3 L1064.6,390.3 L1065.6,390.2 L1066.6,390.2 L1067.7,390.2 L1068.7,390.1 L1069.7,390.1 L1070.7,390.1 L1071.7,390.0 L1072.7,390.0 L1073.7,390.0 L1074.7,389.9 L1075.7,389.9 L1076.7,389.8 L1077.7,389.8 L1078.7,389.7 L1079.7,389.7 L1080.7,389.7 L1081.7,389.6 L1082.7,389.6 L1083.7,389.5 L1084.7,389.5 L1085.7,389.4 L1086.7,389.4 L1087.7,389.3 L1088.7,389.2 L1089.7,389.2 L1090.7,389.1 L1091.7,389.1 L1092.7,389.0 L1093.7,388.9 L1094.7,388.9 L1095.7,388.8 L1096.7,388.7 L1097.7,388.7 L1098.7,388.6 L1099.7,388.5 L1100.7,388.5 L1101.7,388.4 L1102.7,388.3 L1103.7,388.2 L1104.7,388.1 L1105.7,388.0 L1106.7,387.9 L1107.7,387.9 L1108.7,387.8 L1109.7,387.7 L1110.7,387.6 L1111.7,387.5 L1112.7,387.4 L1113.7,387.2 L1114.7,387.1 L1115.7,387.0 L1116.7,386.9 L1117.7,386.8 L1118.7,386.7 L1119.7,386.5 L1120.7,386.4 L1121.7,386.3 L1122.7,386.1 L1123.7,386.0 L1124.7,385.8 L1125.7,385.7 L1126.7,385.5 L1127.7,385.3 L1128.7,385.2 L1129.7,385.0 L1130.7,384.8 L1131.7,384.6 L1132.7,384.4 L1133.7,384.2 L1134.7,384.0 L1135.7,383.8 L1136.7,383.6 L1137.7,383.4 L1138.7,383.2 L1139.7,382.9 L1140.7,382.7 L1141.7,382.4 L1142.7,382.1 L1143.7,381.9 L1144.7,381.6 L1145.7,381.3 L1146.7,381.0 L1147.7,380.7 L1148.7,380.4 L1149.7,380.0 L1150.7,379.7 L1151.7,379.3 L1152.7,379.0 L1153.7,378.6 L1154.7,378.2 L1155.7,377.8 L1156.7,377.3 L1157.7,376.9 L1158.7,376.5 L1159.7,376.0 L1160.7,375.5 L1161.7,375.0 L1162.7,374.5 L1163.7,374.0 L1164.7,373.5 L1165.7,372.9 L1166.7,372.3 L1167.7,371.8 L1168.7,371.2 L1169.7,370.5 L1170.7,369.9 L1171.7,369.3 L1172.7,368.6 L1173.7,367.9 L1174.7,367.2 L1175.7,366.6 L1176.7,365.9 L1177.7,365.1 L1178.7,364.4 L1179.7,363.7 L1180.7,363.0 L1181.7,362.3 L1182.7,361.6 L1183.7,360.8 L1184.7,360.1 L1185.7,359.5 L1186.7,358.8 L1187.7,358.2 L1188.7,357.5 L1189.7,356.9 L1190.7,356.4 L1191.7,355.9 L1192.7,355.4 L1193.7,355.0 L1194.7,354.6 L1195.7,354.2 L1196.7,354.0 L1197.7,353.8 L1198.7,353.6 L1199.7,353.5 L1200.7,353.5 L1201.7,353.5 L1202.7,353.6 L1203.7,353.7 L1204.7,353.9 L1205.7,354.2 L1206.7,354.5 L1207.7,354.9 L1208.7,355.3 L1209.7,355.7 L1210.7,356.2 L1211.7,356.8 L1212.7,357.3 L1213.7,357.9 L1214.7,358.6 L1215.7,359.2 L1216.7,359.9 L1217.7,360.6 L1218.7,361.2 L1219.7,361.9 L1220.7,362.6 L1221.7,363.4 L1222.7,364.1 L1223.7,364.8 L1224.7,365.5 L1225.7,366.2 L1226.7,366.8 L1227.7,367.5 L1228.7,368.2 L1229.7,368.8 L1230.7,369.5 L1231.7,370.1 L1232.7,370.7 L1233.7,371.3 L1234.7,371.9 L1235.7,372.5 L1236.7,373.0 L1237.7,373.5 L1238.7,374.1 L1239.7,374.6 L1240.7,375.1 L1241.7,375.5 L1242.7,376.0 L1243.7,376.4 L1244.7,376.9 L1245.7,377.3 L1246.7,377.7 L1247.7,378.1 L1248.7,378.5 L1249.7,378.9 L1250.7,379.2 L1251.7,379.6 L1252.7,379.9 L1253.7,380.2 L1254.7,380.5 L1255.7,380.8 L1256.7,381.1 L1257.7,381.4 L1258.7,381.7 L1259.7,381.9 L1260.7,382.2 L1261.7,382.4 L1262.7,382.7 L1263.7,382.9 L1264.7,383.1 L1265.7,383.3 L1266.7,383.5 L1267.7,383.7 L1268.7,383.9 L1269.7,384.1 L1270.7,384.3 L1271.7,384.5 L1272.7,384.7 L1273.7,384.8 L1274.7,385.0 L1275.7,385.1 L1276.7,385.3 L1277.7,385.4 L1278.7,385.6 L1279.7,385.7 L1280.7,385.8 L1281.7,386.0 L1282.7,386.1 L1283.7,386.2 L1284.7,386.3 L1285.7,386.4 L1286.7,386.5 L1287.7,386.7 L1288.7,386.8 L1289.7,386.9 L1290.7,386.9 L1291.7,387.0 L1292.7,387.1 L1293.7,387.2 L1294.7,387.3 L1295.7,387.4 L1296.7,387.4 L1297.7,387.5 L1298.7,387.6 L1299.7,387.7 L1300.7,387.7 L1301.7,387.8 L1302.7,387.8 L1303.7,387.9 L1304.7,387.9 L1305.7,388.0 L1306.7,388.0 L1307.7,388.0 L1308.7,388.1 L1309.7,388.1 L1310.7,388.1 L1311.7,388.1 L1312.7,388.1 L1313.7,388.1 L1314.7,388.1 L1315.7,388.1 L1316.7,388.1 L1317.7,388.1 L1318.7,388.1 L1319.7,388.1 L1320.7,388.1 L1321.7,388.1 L1322.7,388.1 L1323.7,388.1 L1324.7,388.1 L1325.7,388.1 L1326.7,388.1 L1327.7,388.1 L1328.7,388.1 L1329.7,388.0 L1330.7,388.0 L1331.7,388.0 L1332.7,388.0 L1333.7,388.0 L1334.7,388.0 L1335.7,388.0 L1336.7,388.0 L1337.7,388.0 L1338.7,388.0 L1339.7,388.0 L1340.7,388.0 L1341.7,388.0 L1342.7,388.0 L1343.7,388.0 L1344.7,388.0 L1345.7,388.0 L1346.7,388.1 L1347.7,388.1 L1348.7,388.1 L1349.7,388.1 L1350.7,388.1 L1351.7,388.1 L1352.7,388.1 L1353.7,388.1 L1354.7,388.1 L1355.7,388.1 L1356.7,388.1 L1357.7,388.0 L1358.7,388.0 L1359.7,388.0 L1360.7,388.0 L1361.7,388.0 L1362.7,388.0 L1363.7,388.0 L1364.7,388.0 L1365.7,388.0 L1366.7,388.0 L1367.7,387.9 L1368.7,387.9 L1369.7,387.9 L1370.7,387.9 L1371.7,387.9 L1372.7,387.8 L1373.7,387.8 L1374.7,387.8 L1375.7,387.8 L1376.7,387.7 L1377.7,387.7 L1378.7,387.7 L1379.7,387.6 L1380.7,387.6 L1381.7,387.6 L1382.7,387.5 L1383.7,387.5 L1384.7,387.4 L1385.7,387.4 L1386.7,387.3 L1387.7,387.3 L1388.7,387.2 L1389.7,387.1 L1390.7,387.1 L1391.7,387.0 L1392.7,386.9 L1393.7,386.8 L1394.7,386.7 L1395.7,386.6 L1396.7,386.5 L1397.7,386.4 L1398.7,386.3 L1399.7,386.2 L1400.7,386.0 L1401.7,385.9 L1402.7,385.7 L1403.7,385.6 L1404.7,385.4 L1405.7,385.2 L1406.7,385.1 L1407.7,384.9 L1408.7,384.7 L1409.7,384.5 L1410.7,384.2 L1411.7,384.0 L1412.7,383.7 L1413.7,383.5 L1414.7,383.2 L1415.7,382.9 L1416.7,382.6 L1417.7,382.3 L1418.7,382.0 L1419.7,381.7 L1420.7,381.3 L1421.7,381.0 L1422.7,380.6 L1423.7,380.2 L1424.7,379.8 L1425.7,379.4 L1426.7,379.0 L1427.7,378.5 L1428.7,378.1 L1429.7,377.6 L1430.7,377.1 L1431.7,376.7 L1432.7,376.2 L1433.7,375.7 L1434.7,375.2 L1435.7,374.6 L1436.7,374.1 L1437.7,373.6 L1438.7,373.1 L1439.7,372.5 L1440.7,372.0 L1441.7,371.5 L1442.7,370.9 L1443.7,370.4 L1444.7,369.9 L1445.7,369.4 L1446.7,368.9 L1447.7,368.4 L1448.7,368.0 L1449.7,367.5 L1450.7,367.1 L1451.7,366.7 L1452.7,366.3 L1453.7,366.0 L1454.7,365.6 L1455.7,365.4 L1456.7,365.1 L1457.7,364.9 L1458.7,364.8 L1459.7,364.6 L1460.7,364.6 L1461.7,364.5 L1462.7,364.5 L1463.7,364.6 L1464.7,364.7 L1465.7,364.8 L1466.7,365.0 L1467.7,365.2 L1468.7,365.5 L1469.7,365.8 L1470.7,366.1 L1471.7,366.5 L1472.7,366.8 L1473.7,367.3 L1474.7,367.7 L1475.7,368.1 L1476.7,368.6 L1477.7,369.1 L1478.7,369.6 L1479.7,370.1 L1480.7,370.6 L1481.7,371.2 L1482.7,371.7 L1483.7,372.2 L1484.7,372.8 L1485.7,373.3 L1486.7,373.8 L1487.7,374.4 L1488.7,374.9 L1489.7,375.4 L1490.7,375.9 L1491.7,376.4 L1492.7,376.9 L1493.7,377.4 L1494.7,377.8 L1495.7,378.3 L1496.7,378.7 L1497.7,379.2 L1498.7,379.6 L1499.7,380.0 L1500.7,380.4 L1501.7,380.8 L1502.7,381.2 L1503.7,381.5 L1504.7,381.9 L1505.7,382.2 L1506.7,382.5 L1507.7,382.8 L1508.7,383.1 L1509.7,383.4 L1510.7,383.7 L1511.7,384.0 L1512.7,384.2 L1513.7,384.4 L1514.7,384.7 L1515.7,384.9 L1516.7,385.1 L1517.7,385.3 L1518.7,385.5 L1519.7,385.6 L1520.7,385.8 L1521.7,386.0 L1522.7,386.1 L1523.7,386.3 L1524.7,386.4 L1525.7,386.5 L1526.7,386.6 L1527.7,386.8 L1528.7,386.9 L1529.7,387.0 L1530.7,387.1 L1531.7,387.2 L1532.7,387.2 L1533.7,387.3 L1534.7,387.4 L1535.7,387.5 L1536.7,387.5 L1537.7,387.6 L1538.7,387.7 L1539.7,387.7 L1540.7,387.8 L1541.7,387.8 L1542.7,387.9 L1543.7,387.9 L1544.7,388.0 L1545.7,388.0 L1546.7,388.1 L1547.7,388.1 L1548.7,388.2 L1549.7,388.2 L1550.7,388.2 L1551.7,388.3 L1552.7,388.3 L1553.7,388.3 L1554.7,388.4 L1555.7,388.4 L1556.7,388.4 L1557.7,388.4 L1558.7,388.5 L1559.7,388.5 L1560.7,388.5 L1561.7,388.5 L1562.7,388.6 L1563.7,388.6 L1564.7,388.6 L1565.7,388.6 L1566.7,388.7 L1567.7,388.7 L1568.7,388.7 L1569.7,388.7 L1570.7,388.8 L1571.7,388.8 L1572.7,388.8 L1573.7,388.8 L1574.7,388.9 L1575.7,388.9 L1576.7,388.9 L1577.7,388.9 L1578.7,389.0 L1579.7,389.0 L1580.7,389.0 L1581.7,389.0 L1582.7,389.1 L1583.7,389.1 L1584.7,389.1 L1585.7,389.1 L1586.7,389.2 L1587.7,389.2 L1588.7,389.2 L1589.7,389.2 L1590.7,389.3 L1591.7,389.3 L1592.7,389.3 L1593.7,389.4 L1594.7,389.4 L1595.7,389.4 L1596.7,389.4 L1597.7,389.5 L1598.7,389.5 L1599.7,389.5 L1600.7,389.5 L1601.7,389.6 L1602.7,389.6 L1603.7,389.6 L1604.7,389.6 L1605.7,389.7 L1606.7,389.7 L1607.7,389.7 L1608.7,389.7 L1609.7,389.8 L1610.7,389.8 L1611.7,389.8 L1612.7,389.8 L1613.7,389.8 L1614.7,389.9 L1615.7,389.9 L1616.7,389.9 L1617.7,389.9 L1618.7,390.0 L1619.7,390.0 L1620.7,390.0 L1621.7,390.0 L1622.7,390.1 L1623.7,390.1 L1624.7,390.1 L1625.7,390.1 L1626.7,390.1 L1627.7,390.2 L1628.7,390.2 L1629.7,390.2 L1630.7,390.2 L1631.7,390.2 L1632.7,390.3 L1633.7,390.3 L1634.7,390.3 L1635.7,390.3 L1636.7,390.3 L1637.7,390.3 L1638.7,390.4 L1639.7,390.4 L1640.7,390.4 L1641.7,390.4 L1642.7,390.4 L1643.7,390.4 L1644.7,390.4 L1645.7,390.4 L1646.7,390.5 L1647.7,390.5 L1648.7,390.5 L1649.7,390.5 L1650.7,390.5 L1651.7,390.5 L1652.7,390.5 L1653.7,390.5 L1654.7,390.5 L1655.7,390.6 L1656.7,390.6 L1657.7,390.6 L1658.7,390.6 L1659.7,390.6 L1660.7,390.6 L1661.7,390.6 L1662.7,390.6 L1663.7,390.6 L1664.7,390.6 L1665.7,390.6 L1666.7,390.6 L1667.7,390.7 L1668.7,390.7 L1669.7,390.7 L1670.7,390.7 L1671.7,390.7 L1672.7,390.7 L1673.7,390.7 L1674.7,390.7 L1675.7,390.7 L1676.7,390.7 L1677.7,390.7 L1678.7,390.7 L1679.7,390.8 L1680.7,390.8 L1681.7,390.8 L1682.7,390.8 L1683.7,390.8 L1684.7,390.8 L1685.7,390.8 L1686.7,390.8 L1687.7,390.8 L1688.7,390.8 L1689.7,390.8 L1690.7,390.8 L1691.7,390.8 L1692.7,390.8 L1693.7,390.9 L1694.7,390.9 L1695.7,390.9 L1696.7,390.9 L1697.7,390.9 L1698.7,390.9 L1699.7,390.9 L1700.7,390.9 L1701.7,390.9 L1702.7,390.9 L1703.7,390.9 L1704.7,390.9 L1705.7,390.9 L1706.7,390.9 L1707.7,390.9 L1708.7,390.9 L1709.7,391.0 L1710.7,391.0 L1711.7,391.0 L1712.7,391.0 L1713.7,391.0 L1714.7,391.0 L1715.7,391.0 L1716.7,391.0 L1717.7,391.0 L1718.7,391.0 L1719.7,391.0 L1720.7,391.0 L1721.7,391.0 L1722.7,391.0 L1723.7,391.0 L1724.7,391.0 L1725.7,391.0 L1726.7,391.0 L1727.7,391.1 L1728.7,391.1 L1729.7,391.1 L1730.7,391.1 L1731.7,391.1 L1732.7,391.1 L1733.7,391.1 L1734.7,391.1 L1735.7,391.1 L1736.7,391.1 L1737.7,391.1 L1738.7,391.1 L1739.7,391.1 L1740.7,391.1 L1741.7,391.1 L1742.7,391.1 L1743.7,391.1 L1744.7,391.1 L1745.7,391.1 L1746.7,391.1 L1747.7,391.1 L1748.7,391.1 L1749.7,391.2 L1750.7,391.2 L1751.7,391.2 L1752.7,391.2 L1753.7,391.2 L1754.7,391.2 L1755.7,391.2 L1756.7,391.2 L1757.7,391.2 L1758.7,391.2 L1759.7,391.2 L1760.7,391.2 L1761.7,391.2 L1762.7,391.2 L1763.7,391.2 L1764.7,391.2 L1765.7,391.2 L1766.7,391.2 L1767.7,391.2 L1768.7,391.2 L1769.7,391.2 L1770.7,391.2 L1771.7,391.2 L1772.7,391.2 L1773.7,391.2 L1774.7,391.2 L1775.7,391.2 L1776.7,391.2 L1777.7,391.2 L1778.7,391.2 L1779.7,391.3 L1780.7,391.3 L1781.7,391.3 L1782.7,391.3 L1783.7,391.3 L1784.7,391.3 L1785.7,391.3 L1786.7,391.3 L1787.7,391.3 L1788.7,391.3 L1789.7,391.3 L1790.7,391.3 L1791.7,391.3 L1792.7,391.3 L1793.7,391.3 L1794.7,391.3 L1795.7,391.3 L1796.7,391.3 L1797.7,391.3 L1798.7,391.3 L1799.7,391.3 L1800.7,391.3 L1801.7,391.3 L1802.7,391.3 L1803.7,391.3 L1804.7,391.3 L1805.7,391.3"/>
<path class="c" stroke="#00f3f6" stroke-width="9.3" d="M328.6,567.9 L329.6,567.5 L330.6,567.2 L331.6,566.8 L332.6,566.4 L333.6,565.9 L334.6,565.5 L335.6,565.0 L336.6,564.5 L337.6,564.0 L338.6,563.4 L339.6,562.8 L340.6,562.2 L341.6,561.6 L342.6,560.9 L343.6,560.2 L344.6,559.4 L345.6,558.6 L346.6,557.7 L347.6,556.8 L348.6,555.9 L349.6,554.9 L350.6,553.8 L351.6,552.7 L352.6,551.5 L353.6,550.2 L354.6,548.9 L355.6,547.5 L356.6,545.9 L357.6,544.3 L358.6,542.6 L359.6,540.8 L360.6,538.9 L361.6,536.8 L362.6,534.6 L363.6,532.3 L364.6,529.8 L365.6,527.1 L366.6,524.2 L367.6,521.2 L368.6,517.9 L369.6,514.4 L370.6,510.7 L371.6,506.7 L372.6,502.4 L373.6,497.9 L374.6,493.1 L375.6,488.0 L376.6,482.6 L377.6,476.9 L378.6,470.8 L379.6,464.6 L380.6,458.0 L381.6,451.3 L382.6,444.4 L383.6,437.4 L384.6,430.5 L385.6,423.7 L386.6,417.1 L387.6,411.0 L388.6,405.4 L389.6,400.6 L390.6,396.6 L391.6,393.7 L392.6,391.8 L393.6,391.2 L394.6,391.5 L395.6,392.6 L396.6,394.4 L397.6,396.9 L398.6,400.0 L399.6,403.7 L400.6,407.9 L401.6,412.5 L402.6,417.4 L403.6,422.5 L404.6,427.9 L405.6,433.3 L406.6,438.7 L407.6,444.2 L408.6,449.5 L409.6,454.8 L410.6,460.0 L411.6,465.0 L412.6,469.8 L413.6,474.4 L414.6,478.9 L415.6,483.2 L416.6,487.3 L417.6,491.1 L418.6,494.8 L419.6,498.3 L420.6,501.7 L421.6,504.8 L422.6,507.8 L423.6,510.6 L424.6,513.3 L425.6,515.9 L426.6,518.3 L427.6,520.5 L428.6,522.7 L429.6,524.7 L430.6,526.6 L431.6,528.4 L432.6,530.1 L433.6,531.8 L434.6,533.3 L435.6,534.8 L436.6,536.1 L437.6,537.4 L438.6,538.7 L439.6,539.9 L440.6,541.0 L441.6,542.0 L442.6,543.0 L443.6,544.0 L444.6,544.9 L445.6,545.8 L446.6,546.6 L447.6,547.4 L448.6,548.1 L449.6,548.8 L450.6,549.5 L451.6,550.1 L452.6,550.7 L453.6,551.3 L454.6,551.9 L455.6,552.4 L456.6,552.9 L457.6,553.4 L458.6,553.8 L459.6,554.3 L460.6,554.7 L461.6,555.1 L462.6,555.5 L463.6,555.8 L464.6,556.2 L465.6,556.5 L466.6,556.9 L467.6,557.2 L468.6,557.5 L469.6,557.7 L470.6,558.0 L471.6,558.3 L472.6,558.5 L473.6,558.8 L474.6,559.0 L475.6,559.2 L476.6,559.4 L477.6,559.6 L478.6,559.8 L479.6,560.0 L480.6,560.2 L481.6,560.4 L482.6,560.5 L483.6,560.7 L484.6,560.9 L485.6,561.0 L486.6,561.1 L487.6,561.3 L488.6,561.4 L489.6,561.6 L490.6,561.7 L491.6,561.8 L492.6,561.9 L493.6,562.0 L494.6,562.1 L495.6,562.2 L496.6,562.3 L497.6,562.4 L498.6,562.5 L499.6,562.6 L500.6,562.6 L501.6,562.7 L502.6,562.8 L503.6,562.9 L504.6,562.9 L505.6,563.0 L506.6,563.1 L507.6,563.1 L508.6,563.2 L509.6,563.2 L510.6,563.3 L511.6,563.4 L512.6,563.4 L513.6,563.5 L514.6,563.5 L515.6,563.6 L516.6,563.7 L517.6,563.7 L518.6,563.8 L519.6,563.9 L520.6,564.0 L521.6,564.0 L522.6,564.1 L523.6,564.2 L524.6,564.3 L525.6,564.4 L526.6,564.4 L527.6,564.5 L528.6,564.6 L529.6,564.7 L530.6,564.8 L531.6,564.9 L532.6,565.0 L533.6,565.1 L534.6,565.2 L535.6,565.3 L536.6,565.4 L537.6,565.5 L538.6,565.5 L539.6,565.6 L540.6,565.7 L541.6,565.8 L542.6,565.9 L543.6,566.0 L544.6,566.1 L545.6,566.2 L546.6,566.2 L547.6,566.3 L548.6,566.4 L549.6,566.5 L550.6,566.5 L551.6,566.6 L552.6,566.7 L553.6,566.7 L554.6,566.8 L555.6,566.9 L556.6,566.9 L557.6,567.0 L558.6,567.0 L559.6,567.1 L560.6,567.1 L561.6,567.1 L562.6,567.2 L563.6,567.2 L564.6,567.2 L565.6,567.3 L566.6,567.3 L567.6,567.3 L568.6,567.3 L569.6,567.4 L570.6,567.4 L571.6,567.4 L572.6,567.4 L573.6,567.4 L574.6,567.4 L575.6,567.4 L576.6,567.5 L577.6,567.5 L578.6,567.5 L579.6,567.5 L580.6,567.5 L581.6,567.5 L582.6,567.5 L583.6,567.5 L584.6,567.5 L585.6,567.5 L586.6,567.5 L587.6,567.5 L588.6,567.5 L589.6,567.6 L590.6,567.6 L591.6,567.6 L592.6,567.6 L593.6,567.6 L594.6,567.6 L595.6,567.6 L596.6,567.6 L597.6,567.6 L598.6,567.6 L599.6,567.6 L600.6,567.6 L601.6,567.6 L602.6,567.6 L603.6,567.6 L604.6,567.6 L605.6,567.6 L606.6,567.6 L607.6,567.7 L608.6,567.7 L609.6,567.7 L610.6,567.7 L611.6,567.7 L612.6,567.7 L613.6,567.7 L614.6,567.7 L615.6,567.7 L616.6,567.7 L617.6,567.7 L618.6,567.7 L619.6,567.7 L620.6,567.7 L621.6,567.7 L622.6,567.7 L623.6,567.7 L624.6,567.7 L625.6,567.7 L626.6,567.7 L627.6,567.7 L628.6,567.7 L629.6,567.7 L630.6,567.7 L631.6,567.7 L632.6,567.7 L633.6,567.8 L634.6,567.8 L635.6,567.8 L636.6,567.8 L637.6,567.8 L638.6,567.8 L639.6,567.8 L640.6,567.8 L641.6,567.8 L642.6,567.8 L643.6,567.8 L644.6,567.8 L645.6,567.8 L646.6,567.8 L647.6,567.8 L648.6,567.8 L649.6,567.8 L650.6,567.8 L651.6,567.8 L652.6,567.8 L653.6,567.8 L654.6,567.8 L655.6,567.8 L656.6,567.8 L657.6,567.8 L658.6,567.8 L659.6,567.8 L660.6,567.8 L661.6,567.8 L662.6,567.8 L663.6,567.8 L664.6,567.8 L665.6,567.8 L666.6,567.8 L667.6,567.7 L668.6,567.7 L669.6,567.7 L670.6,567.7 L671.6,567.7 L672.6,567.7 L673.6,567.7 L674.6,567.7 L675.6,567.7 L676.6,567.7 L677.6,567.7 L678.6,567.7 L679.6,567.7 L680.6,567.7 L681.6,567.7 L682.6,567.7 L683.6,567.7 L684.6,567.7 L685.6,567.7 L686.6,567.7 L687.6,567.7 L688.6,567.7 L689.6,567.7 L690.6,567.7 L691.6,567.7 L692.6,567.6 L693.6,567.6 L694.6,567.6 L695.6,567.6 L696.6,567.6 L697.6,567.6 L698.6,567.6 L699.6,567.6 L700.6,567.6 L701.6,567.6 L702.6,567.6 L703.6,567.6 L704.6,567.6 L705.6,567.5 L706.6,567.5 L707.6,567.5 L708.6,567.5 L709.6,567.5 L710.6,567.5 L711.6,567.5 L712.6,567.5 L713.6,567.5 L714.6,567.5 L715.6,567.4 L716.6,567.4 L717.6,567.4 L718.6,567.4 L719.6,567.4 L720.6,567.4 L721.6,567.4 L722.6,567.3 L723.6,567.3 L724.6,567.3 L725.6,567.3 L726.6,567.3 L727.6,567.3 L728.6,567.3 L729.6,567.2 L730.6,567.2 L731.6,567.2 L732.6,567.2 L733.6,567.2 L734.6,567.2 L735.6,567.2 L736.6,567.1 L737.6,567.1 L738.6,567.1 L739.6,567.1 L740.6,567.1 L741.6,567.1 L742.6,567.0 L743.6,567.0 L744.6,567.0 L745.6,567.0 L746.6,567.0 L747.6,567.0 L748.6,567.0 L749.6,566.9 L750.6,566.9 L751.6,566.9 L752.6,566.9 L753.6,566.9 L754.6,566.9 L755.6,566.9 L756.6,566.8 L757.6,566.8 L758.6,566.8 L759.6,566.8 L760.6,566.8 L761.6,566.8 L762.6,566.8 L763.6,566.8 L764.6,566.7 L765.6,566.7 L766.6,566.7 L767.6,566.7 L768.6,566.7 L769.6,566.7 L770.6,566.7 L771.6,566.7 L772.6,566.7 L773.6,566.7 L774.6,566.6 L775.6,566.6 L776.6,566.6 L777.6,566.6 L778.6,566.6 L779.6,566.6 L780.6,566.6 L781.6,566.6 L782.6,566.6 L783.6,566.6 L784.6,566.6 L785.6,566.6 L786.6,566.6 L787.6,566.5 L788.6,566.5 L789.6,566.5 L790.6,566.5 L791.6,566.5 L792.6,566.5 L793.6,566.5 L794.6,566.5 L795.6,566.5 L796.6,566.5 L797.6,566.5 L798.6,566.5 L799.6,566.4 L800.6,566.4 L801.6,566.4 L802.6,566.4 L803.6,566.4 L804.6,566.4 L805.6,566.4 L806.6,566.4 L807.6,566.3 L808.6,566.3 L809.6,566.3 L810.6,566.3 L811.6,566.3 L812.6,566.3 L813.6,566.3 L814.6,566.2 L815.6,566.2 L816.6,566.2 L817.6,566.2 L818.6,566.2 L819.6,566.2 L820.6,566.1 L821.6,566.1 L822.6,566.1 L823.6,566.1 L824.6,566.1 L825.6,566.0 L826.6,566.0 L827.6,566.0 L828.6,566.0 L829.6,566.0 L830.6,565.9 L831.6,565.9 L832.6,565.9 L833.6,565.9 L834.6,565.8 L835.6,565.8 L836.6,565.8 L837.6,565.7 L838.6,565.7 L839.6,565.7 L840.6,565.6 L841.6,565.6 L842.6,565.6 L843.6,565.5 L844.6,565.5 L845.6,565.5 L846.6,565.4 L847.6,565.4 L848.6,565.3 L849.6,565.3 L850.6,565.2 L851.6,565.2 L852.6,565.1 L853.6,565.1 L854.6,565.0 L855.6,565.0 L856.6,564.9 L857.6,564.8 L858.6,564.8 L859.6,564.7 L860.6,564.6 L861.6,564.6 L862.6,564.5 L863.6,564.4 L864.6,564.3 L865.6,564.2 L866.6,564.1 L867.6,564.0 L868.6,563.9 L869.6,563.8 L870.6,563.7 L871.6,563.6 L872.6,563.4 L873.6,563.3 L874.6,563.2 L875.6,563.0 L876.6,562.9 L877.6,562.7 L878.6,562.5 L879.6,562.3 L880.6,562.1 L881.6,561.9 L882.6,561.7 L883.6,561.5 L884.6,561.2 L885.6,561.0 L886.6,560.7 L887.6,560.5 L888.6,560.2 L889.6,559.9 L890.6,559.6 L891.6,559.2 L892.6,558.9 L893.6,558.5 L894.6,558.2 L895.6,557.8 L896.6,557.4 L897.6,556.9 L898.6,556.5 L899.6,556.1 L900.6,555.6 L901.6,555.1 L902.6,554.6 L903.6,554.1 L904.6,553.5 L905.6,553.0 L906.6,552.4 L907.6,551.9 L908.6,551.3 L909.6,550.7 L910.6,550.0 L911.6,549.4 L912.6,548.8 L913.6,548.1 L914.6,547.5 L915.6,546.8 L916.6,546.2 L917.6,545.5 L918.6,544.9 L919.6,544.3 L920.6,543.6 L921.6,543.0 L922.6,542.4 L923.6,541.9 L924.6,541.3 L925.6,540.8 L926.6,540.4 L927.6,539.9 L928.6,539.6 L929.6,539.2 L930.6,539.0 L931.6,538.7 L932.6,538.6 L933.6,538.5 L934.6,538.5 L935.6,538.5 L936.6,538.6 L937.6,538.7 L938.6,538.8 L939.6,539.1 L940.6,539.3 L941.6,539.6 L942.6,540.0 L943.6,540.4 L944.6,540.8 L945.6,541.3 L946.6,541.7 L947.6,542.2 L948.6,542.8 L949.6,543.3 L950.6,543.9 L951.6,544.4 L952.6,545.0 L953.6,545.6 L954.6,546.2 L955.6,546.8 L956.6,547.4 L957.6,547.9 L958.6,548.5 L959.6,549.1 L960.6,549.7 L961.6,550.2 L962.6,550.8 L963.6,551.3 L964.6,551.9 L965.6,552.4 L966.6,552.9 L967.6,553.4 L968.6,553.9 L969.6,554.4 L970.6,554.8 L971.6,555.3 L972.6,555.7 L973.6,556.1 L974.6,556.5 L975.6,556.9 L976.6,557.3 L977.6,557.7 L978.6,558.0 L979.6,558.4 L980.6,558.7 L981.6,559.0 L982.6,559.3 L983.6,559.6 L984.6,559.9 L985.6,560.2 L986.6,560.4 L987.6,560.7 L988.6,560.9 L989.6,561.1 L990.6,561.3 L991.6,561.5 L992.6,561.7 L993.6,561.9 L994.6,562.1 L995.6,562.3 L996.6,562.4 L997.6,562.6 L998.6,562.8 L999.6,562.9 L1000.6,563.0 L1001.6,563.2 L1002.6,563.3 L1003.6,563.4 L1004.6,563.5 L1005.6,563.6 L1006.6,563.7 L1007.6,563.8 L1008.6,563.9 L1009.6,564.0 L1010.6,564.1 L1011.6,564.2 L1012.6,564.3 L1013.6,564.3 L1014.6,564.4 L1015.6,564.5 L1016.6,564.5 L1017.6,564.6 L1018.6,564.7 L1019.6,564.7 L1020.6,564.8 L1021.6,564.8 L1022.6,564.9 L1023.6,564.9 L1024.6,565.0 L1025.6,565.0 L1026.6,565.0 L1027.6,565.1 L1028.6,565.1 L1029.6,565.2 L1030.6,565.2 L1031.6,565.2 L1032.6,565.3 L1033.6,565.3 L1034.6,565.3 L1035.6,565.4 L1036.6,565.4 L1037.6,565.4 L1038.6,565.4 L1039.6,565.5 L1040.6,565.5 L1041.6,565.5 L1042.6,565.5 L1043.6,565.6 L1044.6,565.6 L1045.6,565.6 L1046.6,565.6 L1047.6,565.6 L1048.6,565.6 L1049.6,565.7 L1050.6,565.7 L1051.6,565.7 L1052.6,565.7 L1053.6,565.7 L1054.6,565.7 L1055.6,565.7 L1056.6,565.8 L1057.6,565.8 L1058.6,565.8 L1059.6,565.8 L1060.6,565.8 L1061.6,565.8 L1062.6,565.8 L1063.6,565.8 L1064.6,565.8 L1065.6,565.8 L1066.6,565.8 L1067.7,565.8 L1068.7,565.8 L1069.7,565.8 L1070.7,565.8 L1071.7,565.8 L1072.7,565.8 L1073.7,565.9 L1074.7,565.9 L1075.7,565.9 L1076.7,565.8 L1077.7,565.8 L1078.7,565.8 L1079.7,565.8 L1080.7,565.8 L1081.7,565.8 L1082.7,565.8 L1083.7,565.8 L1084.7,565.8 L1085.7,565.8 L1086.7,565.8 L1087.7,565.8 L1088.7,565.8 L1089.7,565.8 L1090.7,565.8 L1091.7,565.8 L1092.7,565.7 L1093.7,565.7 L1094.7,565.7 L1095.7,565.7 L1096.7,565.7 L1097.7,565.7 L1098.7,565.7 L1099.7,565.6 L1100.7,565.6 L1101.7,565.6 L1102.7,565.6 L1103.7,565.6 L1104.7,565.5 L1105.7,565.5 L1106.7,565.5 L1107.7,565.5 L1108.7,565.4 L1109.7,565.4 L1110.7,565.4 L1111.7,565.3 L1112.7,565.3 L1113.7,565.3 L1114.7,565.2 L1115.7,565.2 L1116.7,565.1 L1117.7,565.1 L1118.7,565.1 L1119.7,565.0 L1120.7,565.0 L1121.7,564.9 L1122.7,564.9 L1123.7,564.8 L1124.7,564.7 L1125.7,564.7 L1126.7,564.6 L1127.7,564.5 L1128.7,564.5 L1129.7,564.4 L1130.7,564.3 L1131.7,564.2 L1132.7,564.1 L1133.7,564.0 L1134.7,563.9 L1135.7,563.8 L1136.7,563.7 L1137.7,563.5 L1138.7,563.4 L1139.7,563.2 L1140.7,563.1 L1141.7,562.9 L1142.7,562.7 L1143.7,562.6 L1144.7,562.4 L1145.7,562.2 L1146.7,561.9 L1147.7,561.7 L1148.7,561.4 L1149.7,561.2 L1150.7,560.9 L1151.7,560.6 L1152.7,560.3 L1153.7,559.9 L1154.7,559.6 L1155.7,559.2 L1156.7,558.8 L1157.7,558.4 L1158.7,558.0 L1159.7,557.5 L1160.7,557.0 L1161.7,556.5 L1162.7,556.0 L1163.7,555.5 L1164.7,554.9 L1165.7,554.3 L1166.7,553.7 L1167.7,553.1 L1168.7,552.4 L1169.7,551.7 L1170.7,551.0 L1171.7,550.3 L1172.7,549.6 L1173.7,548.9 L1174.7,548.1 L1175.7,547.3 L1176.7,546.6 L1177.7,545.8 L1178.7,545.0 L1179.7,544.2 L1180.7,543.5 L1181.7,542.7 L1182.7,542.0 L1183.7,541.3 L1184.7,540.7 L1185.7,540.1 L1186.7,539.5 L1187.7,539.0 L1188.7,538.6 L1189.7,538.2 L1190.7,537.9 L1191.7,537.7 L1192.7,537.6 L1193.7,537.6 L1194.7,537.6 L1195.7,537.7 L1196.7,537.8 L1197.7,538.1 L1198.7,538.3 L1199.7,538.6 L1200.7,539.0 L1201.7,539.4 L1202.7,539.9 L1203.7,540.4 L1204.7,540.9 L1205.7,541.5 L1206.7,542.1 L1207.7,542.7 L1208.7,543.3 L1209.7,543.9 L1210.7,544.5 L1211.7,545.2 L1212.7,545.9 L1213.7,546.5 L1214.7,547.2 L1215.7,547.8 L1216.7,548.5 L1217.7,549.1 L1218.7,549.7 L1219.7,550.3 L1220.7,550.9 L1221.7,551.5 L1222.7,552.1 L1223.7,552.7 L1224.7,553.2 L1225.7,553.8 L1226.7,554.3 L1227.7,554.8 L1228.7,555.3 L1229.7,555.8 L1230.7,556.2 L1231.7,556.7 L1232.7,557.1 L1233.7,557.5 L1234.7,557.9 L1235.7,558.3 L1236.7,558.7 L1237.7,559.0 L1238.7,559.4 L1239.7,559.7 L1240.7,560.0 L1241.7,560.3 L1242.7,560.6 L1243.7,560.8 L1244.7,561.1 L1245.7,561.4 L1246.7,561.6 L1247.7,561.8 L1248.7,562.0 L1249.7,562.2 L1250.7,562.4 L1251.7,562.6 L1252.7,562.8 L1253.7,563.0 L1254.7,563.1 L1255.7,563.3 L1256.7,563.4 L1257.7,563.6 L1258.7,563.7 L1259.7,563.8 L1260.7,563.9 L1261.7,564.1 L1262.7,564.2 L1263.7,564.3 L1264.7,564.4 L1265.7,564.5 L1266.7,564.6 L1267.7,564.6 L1268.7,564.7 L1269.7,564.8 L1270.7,564.9 L1271.7,565.0 L1272.7,565.0 L1273.7,565.1 L1274.7,565.2 L1275.7,565.2 L1276.7,565.3 L1277.7,565.3 L1278.7,565.4 L1279.7,565.4 L1280.7,565.5 L1281.7,565.5 L1282.7,565.6 L1283.7,565.6 L1284.7,565.7 L1285.7,565.7 L1286.7,565.8 L1287.7,565.8 L1288.7,565.8 L1289.7,565.9 L1290.7,565.9 L1291.7,566.0 L1292.7,566.0 L1293.7,566.0 L1294.7,566.0 L1295.7,566.1 L1296.7,566.1 L1297.7,566.1 L1298.7,566.2 L1299.7,566.2 L1300.7,566.2 L1301.7,566.2 L1302.7,566.3 L1303.7,566.3 L1304.7,566.3 L1305.7,566.4 L1306.7,566.4 L1307.7,566.4 L1308.7,566.4 L1309.7,566.5 L1310.7,566.5 L1311.7,566.5 L1312.7,566.5 L1313.7,566.6 L1314.7,566.6 L1315.7,566.6 L1316.7,566.6 L1317.7,566.6 L1318.7,566.7 L1319.7,566.7 L1320.7,566.7 L1321.7,566.7 L1322.7,566.8 L1323.7,566.8 L1324.7,566.8 L1325.7,566.8 L1326.7,566.8 L1327.7,566.8 L1328.7,566.9 L1329.7,566.9 L1330.7,566.9 L1331.7,566.9 L1332.7,566.9 L1333.7,566.9 L1334.7,566.9 L1335.7,567.0 L1336.7,567.0 L1337.7,567.0 L1338.7,567.0 L1339.7,567.0 L1340.7,567.0 L1341.7,567.0 L1342.7,567.0 L1343.7,567.0 L1344.7,567.0 L1345.7,567.0 L1346.7,567.0 L1347.7,567.0 L1348.7,567.0 L1349.7,567.0 L1350.7,567.0 L1351.7,567.0 L1352.7,567.0 L1353.7,567.0 L1354.7,567.0 L1355.7,567.0 L1356.7,567.0 L1357.7,567.0 L1358.7,567.0 L1359.7,567.0 L1360.7,567.0 L1361.7,567.0 L1362.7,566.9 L1363.7,566.9 L1364.7,566.9 L1365.7,566.9 L1366.7,566.9 L1367.7,566.9 L1368.7,566.9 L1369.7,566.8 L1370.7,566.8 L1371.7,566.8 L1372.7,566.8 L1373.7,566.7 L1374.7,566.7 L1375.7,566.7 L1376.7,566.6 L1377.7,566.6 L1378.7,566.6 L1379.7,566.5 L1380.7,566.5 L1381.7,566.5 L1382.7,566.4 L1383.7,566.4 L1384.7,566.3 L1385.7,566.3 L1386.7,566.2 L1387.7,566.1 L1388.7,566.1 L1389.7,566.0 L1390.7,565.9 L1391.7,565.8 L1392.7,565.8 L1393.7,565.7 L1394.7,565.6 L1395.7,565.5 L1396.7,565.4 L1397.7,565.3 L1398.7,565.2 L1399.7,565.0 L1400.7,564.9 L1401.7,564.8 L1402.7,564.6 L1403.7,564.5 L1404.7,564.3 L1405.7,564.2 L1406.7,564.0 L1407.7,563.8 L1408.7,563.6 L1409.7,563.4 L1410.7,563.2 L1411.7,563.0 L1412.7,562.8 L1413.7,562.5 L1414.7,562.3 L1415.7,562.0 L1416.7,561.7 L1417.7,561.5 L1418.7,561.2 L1419.7,560.9 L1420.7,560.5 L1421.7,560.2 L1422.7,559.9 L1423.7,559.5 L1424.7,559.2 L1425.7,558.8 L1426.7,558.4 L1427.7,558.0 L1428.7,557.6 L1429.7,557.2 L1430.7,556.8 L1431.7,556.4 L1432.7,556.0 L1433.7,555.5 L1434.7,555.1 L1435.7,554.6 L1436.7,554.2 L1437.7,553.7 L1438.7,553.3 L1439.7,552.8 L1440.7,552.4 L1441.7,552.0 L1442.7,551.6 L1443.7,551.1 L1444.7,550.8 L1445.7,550.4 L1446.7,550.0 L1447.7,549.7 L1448.7,549.4 L1449.7,549.1 L1450.7,548.9 L1451.7,548.7 L1452.7,548.5 L1453.7,548.4 L1454.7,548.3 L1455.7,548.3 L1456.7,548.3 L1457.7,548.3 L1458.7,548.4 L1459.7,548.5 L1460.7,548.7 L1461.7,548.9 L1462.7,549.1 L1463.7,549.4 L1464.7,549.7 L1465.7,550.0 L1466.7,550.4 L1467.7,550.8 L1468.7,551.2 L1469.7,551.6 L1470.7,552.0 L1471.7,552.4 L1472.7,552.9 L1473.7,553.3 L1474.7,553.8 L1475.7,554.3 L1476.7,554.7 L1477.7,555.2 L1478.7,555.7 L1479.7,556.1 L1480.7,556.6 L1481.7,557.0 L1482.7,557.4 L1483.7,557.9 L1484.7,558.3 L1485.7,558.7 L1486.7,559.1 L1487.7,559.5 L1488.7,559.9 L1489.7,560.2 L1490.7,560.6 L1491.7,560.9 L1492.7,561.3 L1493.7,561.6 L1494.7,561.9 L1495.7,562.2 L1496.7,562.5 L1497.7,562.8 L1498.7,563.1 L1499.7,563.3 L1500.7,563.6 L1501.7,563.8 L1502.7,564.0 L1503.7,564.3 L1504.7,564.5 L1505.7,564.7 L1506.7,564.9 L1507.7,565.1 L1508.7,565.2 L1509.7,565.4 L1510.7,565.6 L1511.7,565.7 L1512.7,565.9 L1513.7,566.0 L1514.7,566.2 L1515.7,566.3 L1516.7,566.4 L1517.7,566.5 L1518.7,566.7 L1519.7,566.8 L1520.7,566.9 L1521.7,567.0 L1522.7,567.1 L1523.7,567.1 L1524.7,567.2 L1525.7,567.3 L1526.7,567.4 L1527.7,567.5 L1528.7,567.6 L1529.7,567.6 L1530.7,567.7 L1531.7,567.8 L1532.7,567.8 L1533.7,567.9 L1534.7,567.9 L1535.7,568.0 L1536.7,568.1 L1537.7,568.1 L1538.7,568.2 L1539.7,568.2 L1540.7,568.3 L1541.7,568.3 L1542.7,568.4 L1543.7,568.4 L1544.7,568.4 L1545.7,568.5 L1546.7,568.5 L1547.7,568.6 L1548.7,568.6 L1549.7,568.6 L1550.7,568.7 L1551.7,568.7 L1552.7,568.8 L1553.7,568.8 L1554.7,568.8 L1555.7,568.9 L1556.7,568.9 L1557.7,568.9 L1558.7,569.0 L1559.7,569.0 L1560.7,569.0 L1561.7,569.1 L1562.7,569.1 L1563.7,569.1 L1564.7,569.2 L1565.7,569.2 L1566.7,569.2 L1567.7,569.3 L1568.7,569.3 L1569.7,569.3 L1570.7,569.4 L1571.7,569.4 L1572.7,569.4 L1573.7,569.5 L1574.7,569.5 L1575.7,569.5 L1576.7,569.6 L1577.7,569.6 L1578.7,569.6 L1579.7,569.7 L1580.7,569.7 L1581.7,569.7 L1582.7,569.8 L1583.7,569.8 L1584.7,569.8 L1585.7,569.9 L1586.7,569.9 L1587.7,569.9 L1588.7,570.0 L1589.7,570.0 L1590.7,570.0 L1591.7,570.1 L1592.7,570.1 L1593.7,570.1 L1594.7,570.2 L1595.7,570.2 L1596.7,570.2 L1597.7,570.3 L1598.7,570.3 L1599.7,570.3 L1600.7,570.4 L1601.7,570.4 L1602.7,570.4 L1603.7,570.5 L1604.7,570.5 L1605.7,570.5 L1606.7,570.6 L1607.7,570.6 L1608.7,570.6 L1609.7,570.7 L1610.7,570.7 L1611.7,570.7 L1612.7,570.7 L1613.7,570.8 L1614.7,570.8 L1615.7,570.8 L1616.7,570.9 L1617.7,570.9 L1618.7,570.9 L1619.7,570.9 L1620.7,571.0 L1621.7,571.0 L1622.7,571.0 L1623.7,571.0 L1624.7,571.1 L1625.7,571.1 L1626.7,571.1 L1627.7,571.1 L1628.7,571.2 L1629.7,571.2 L1630.7,571.2 L1631.7,571.2 L1632.7,571.3 L1633.7,571.3 L1634.7,571.3 L1635.7,571.3 L1636.7,571.3 L1637.7,571.3 L1638.7,571.4 L1639.7,571.4 L1640.7,571.4 L1641.7,571.4 L1642.7,571.4 L1643.7,571.4 L1644.7,571.4 L1645.7,571.5 L1646.7,571.5 L1647.7,571.5 L1648.7,571.5 L1649.7,571.5 L1650.7,571.5 L1651.7,571.5 L1652.7,571.5 L1653.7,571.5 L1654.7,571.5 L1655.7,571.5 L1656.7,571.5 L1657.7,571.5 L1658.7,571.6 L1659.7,571.6 L1660.7,571.6 L1661.7,571.6 L1662.7,571.6 L1663.7,571.6 L1664.7,571.6 L1665.7,571.6 L1666.7,571.6 L1667.7,571.6 L1668.7,571.6 L1669.7,571.6 L1670.7,571.6 L1671.7,571.6 L1672.7,571.6 L1673.7,571.6 L1674.7,571.6 L1675.7,571.6 L1676.7,571.7 L1677.7,571.7 L1678.7,571.7 L1679.7,571.7 L1680.7,571.7 L1681.7,571.7 L1682.7,571.7 L1683.7,571.7 L1684.7,571.7 L1685.7,571.7 L1686.7,571.7 L1687.7,571.7 L1688.7,571.7 L1689.7,571.7 L1690.7,571.7 L1691.7,571.7 L1692.7,571.7 L1693.7,571.7 L1694.7,571.7 L1695.7,571.7 L1696.7,571.7 L1697.7,571.7 L1698.7,571.8 L1699.7,571.8 L1700.7,571.8 L1701.7,571.8 L1702.7,571.8 L1703.7,571.8 L1704.7,571.8 L1705.7,571.8 L1706.7,571.8 L1707.7,571.8 L1708.7,571.8 L1709.7,571.8 L1710.7,571.8 L1711.7,571.8 L1712.7,571.8 L1713.7,571.8 L1714.7,571.8 L1715.7,571.8 L1716.7,571.8 L1717.7,571.8 L1718.7,571.8 L1719.7,571.8 L1720.7,571.8 L1721.7,571.8 L1722.7,571.8 L1723.7,571.8 L1724.7,571.8 L1725.7,571.8 L1726.7,571.9 L1727.7,571.9 L1728.7,571.9 L1729.7,571.9 L1730.7,571.9 L1731.7,571.9 L1732.7,571.9 L1733.7,571.9 L1734.7,571.9 L1735.7,571.9 L1736.7,571.9 L1737.7,571.9 L1738.7,571.9 L1739.7,571.9 L1740.7,571.9 L1741.7,571.9 L1742.7,571.9 L1743.7,571.9 L1744.7,571.9 L1745.7,571.9 L1746.7,571.9 L1747.7,571.9 L1748.7,571.9 L1749.7,571.9 L1750.7,571.9 L1751.7,571.9 L1752.7,571.9 L1753.7,571.9 L1754.7,571.9 L1755.7,571.9 L1756.7,571.9 L1757.7,571.9 L1758.7,571.9 L1759.7,571.9 L1760.7,571.9 L1761.7,571.9 L1762.7,571.9 L1763.7,571.9 L1764.7,571.9 L1765.7,571.9 L1766.7,571.9 L1767.7,571.9 L1768.7,572.0 L1769.7,572.0 L1770.7,572.0 L1771.7,572.0 L1772.7,572.0 L1773.7,572.0 L1774.7,572.0 L1775.7,572.0 L1776.7,572.0 L1777.7,572.0 L1778.7,572.0 L1779.7,572.0 L1780.7,572.0 L1781.7,572.0 L1782.7,572.0 L1783.7,572.0 L1784.7,572.0 L1785.7,572.0 L1786.7,572.0 L1787.7,572.0 L1788.7,572.0 L1789.7,572.0 L1790.7,572.0 L1791.7,572.0 L1792.7,572.0 L1793.7,572.0 L1794.7,572.0 L1795.7,572.0 L1796.7,572.0 L1797.7,572.0 L1798.7,572.0 L1799.7,572.0 L1800.7,572.0 L1801.7,572.0 L1802.7,572.0 L1803.7,572.0 L1804.7,572.0 L1805.7,572.0"/>
<path class="c" stroke="#0030d0" stroke-width="9.3" d="M328.6,702.4 L329.6,702.4 L330.6,702.4 L331.6,702.4 L332.6,702.3 L333.6,702.3 L334.6,702.3 L335.6,702.2 L336.6,702.2 L337.6,702.1 L338.6,702.1 L339.6,702.1 L340.6,702.0 L341.6,702.0 L342.6,702.0 L343.6,701.9 L344.6,701.9 L345.6,701.8 L346.6,701.8 L347.6,701.7 L348.6,701.7 L349.6,701.6 L350.6,701.6 L351.6,701.5 L352.6,701.4 L353.6,701.4 L354.6,701.3 L355.6,701.2 L356.6,701.1 L357.6,700.9 L358.6,700.8 L359.6,700.7 L360.6,700.5 L361.6,700.3 L362.6,700.1 L363.6,699.9 L364.6,699.6 L365.6,699.4 L366.6,699.1 L367.6,698.8 L368.6,698.4 L369.6,698.1 L370.6,697.7 L371.6,697.3 L372.6,696.9 L373.6,696.4 L374.6,695.9 L375.6,695.5 L376.6,695.0 L377.6,694.5 L378.6,694.0 L379.6,693.5 L380.6,693.0 L381.6,692.5 L382.6,692.0 L383.6,691.6 L384.6,691.2 L385.6,690.8 L386.6,690.4 L387.6,690.1 L388.6,689.9 L389.6,689.7 L390.6,689.5 L391.6,689.4 L392.6,689.4 L393.6,689.4 L394.6,689.5 L395.6,689.7 L396.6,689.9 L397.6,690.1 L398.6,690.4 L399.6,690.8 L400.6,691.1 L401.6,691.6 L402.6,692.0 L403.6,692.5 L404.6,692.9 L405.6,693.4 L406.6,693.9 L407.6,694.4 L408.6,694.9 L409.6,695.4 L410.6,695.8 L411.6,696.3 L412.6,696.7 L413.6,697.1 L414.6,697.5 L415.6,697.9 L416.6,698.2 L417.6,698.6 L418.6,698.9 L419.6,699.1 L420.6,699.4 L421.6,699.6 L422.6,699.8 L423.6,700.0 L424.6,700.2 L425.6,700.3 L426.6,700.4 L427.6,700.6 L428.6,700.7 L429.6,700.8 L430.6,700.8 L431.6,700.9 L432.6,701.0 L433.6,701.0 L434.6,701.1 L435.6,701.1 L436.6,701.1 L437.6,701.1 L438.6,701.2 L439.6,701.2 L440.6,701.2 L441.6,701.2 L442.6,701.2 L443.6,701.2 L444.6,701.2 L445.6,701.2 L446.6,701.2 L447.6,701.2 L448.6,701.2 L449.6,701.2 L450.6,701.2 L451.6,701.2 L452.6,701.2 L453.6,701.2 L454.6,701.2 L455.6,701.2 L456.6,701.2 L457.6,701.2 L458.6,701.2 L459.6,701.2 L460.6,701.2 L461.6,701.2 L462.6,701.2 L463.6,701.2 L464.6,701.2 L465.6,701.2 L466.6,701.2 L467.6,701.2 L468.6,701.2 L469.6,701.2 L470.6,701.2 L471.6,701.2 L472.6,701.2 L473.6,701.2 L474.6,701.2 L475.6,701.2 L476.6,701.2 L477.6,701.2 L478.6,701.2 L479.6,701.2 L480.6,701.2 L481.6,701.2 L482.6,701.2 L483.6,701.2 L484.6,701.2 L485.6,701.2 L486.6,701.2 L487.6,701.2 L488.6,701.2 L489.6,701.2 L490.6,701.2 L491.6,701.2 L492.6,701.2 L493.6,701.2 L494.6,701.2 L495.6,701.2 L496.6,701.2 L497.6,701.2 L498.6,701.2 L499.6,701.2 L500.6,701.2 L501.6,701.3 L502.6,701.3 L503.6,701.3 L504.6,701.3 L505.6,701.3 L506.6,701.3 L507.6,701.3 L508.6,701.3 L509.6,701.3 L510.6,701.3 L511.6,701.3 L512.6,701.3 L513.6,701.3 L514.6,701.3 L515.6,701.3 L516.6,701.3 L517.6,701.3 L518.6,701.3 L519.6,701.3 L520.6,701.3 L521.6,701.3 L522.6,701.3 L523.6,701.3 L524.6,701.3 L525.6,701.3 L526.6,701.3 L527.6,701.3 L528.6,701.3 L529.6,701.3 L530.6,701.3 L531.6,701.3 L532.6,701.4 L533.6,701.4 L534.6,701.4 L535.6,701.4 L536.6,701.4 L537.6,701.4 L538.6,701.4 L539.6,701.4 L540.6,701.4 L541.6,701.4 L542.6,701.4 L543.6,701.4 L544.6,701.4 L545.6,701.4 L546.6,701.4 L547.6,701.4 L548.6,701.4 L549.6,701.4 L550.6,701.4 L551.6,701.4 L552.6,701.4 L553.6,701.4 L554.6,701.4 L555.6,701.4 L556.6,701.4 L557.6,701.5 L558.6,701.5 L559.6,701.5 L560.6,701.5 L561.6,701.5 L562.6,701.5 L563.6,701.5 L564.6,701.5 L565.6,701.5 L566.6,701.5 L567.6,701.5 L568.6,701.5 L569.6,701.5 L570.6,701.5 L571.6,701.5 L572.6,701.5 L573.6,701.5 L574.6,701.5 L575.6,701.5 L576.6,701.5 L577.6,701.5 L578.6,701.5 L579.6,701.5 L580.6,701.5 L581.6,701.5 L582.6,701.6 L583.6,701.6 L584.6,701.6 L585.6,701.6 L586.6,701.6 L587.6,701.6 L588.6,701.6 L589.6,701.6 L590.6,701.6 L591.6,701.6 L592.6,701.6 L593.6,701.6 L594.6,701.6 L595.6,701.6 L596.6,701.6 L597.6,701.6 L598.6,701.6 L599.6,701.6 L600.6,701.6 L601.6,701.6 L602.6,701.6 L603.6,701.6 L604.6,701.6 L605.6,701.6 L606.6,701.6 L607.6,701.6 L608.6,701.6 L609.6,701.6 L610.6,701.6 L611.6,701.6 L612.6,701.6 L613.6,701.6 L614.6,701.6 L615.6,701.6 L616.6,701.6 L617.6,701.6 L618.6,701.6 L619.6,701.6 L620.6,701.6 L621.6,701.6 L622.6,701.6 L623.6,701.6 L624.6,701.6 L625.6,701.6 L626.6,701.6 L627.6,701.6 L628.6,701.6 L629.6,701.6 L630.6,701.6 L631.6,701.6 L632.6,701.6 L633.6,701.6 L634.6,701.6 L635.6,701.6 L636.6,701.6 L637.6,701.6 L638.6,701.6 L639.6,701.6 L640.6,701.6 L641.6,701.6 L642.6,701.6 L643.6,701.6 L644.6,701.6 L645.6,701.6 L646.6,701.6 L647.6,701.6 L648.6,701.6 L649.6,701.6 L650.6,701.6 L651.6,701.6 L652.6,701.6 L653.6,701.5 L654.6,701.5 L655.6,701.5 L656.6,701.5 L657.6,701.5 L658.6,701.5 L659.6,701.5 L660.6,701.5 L661.6,701.5 L662.6,701.5 L663.6,701.5 L664.6,701.5 L665.6,701.5 L666.6,701.5 L667.6,701.5 L668.6,701.4 L669.6,701.4 L670.6,701.4 L671.6,701.4 L672.6,701.4 L673.6,701.4 L674.6,701.4 L675.6,701.4 L676.6,701.3 L677.6,701.3 L678.6,701.3 L679.6,701.3 L680.6,701.3 L681.6,701.3 L682.6,701.2 L683.6,701.2 L684.6,701.2 L685.6,701.2 L686.6,701.2 L687.6,701.1 L688.6,701.1 L689.6,701.1 L690.6,701.1 L691.6,701.0 L692.6,701.0 L693.6,701.0 L694.6,701.0 L695.6,701.0 L696.6,701.0 L697.6,700.9 L698.6,700.9 L699.6,700.9 L700.6,700.9 L701.6,700.8 L702.6,700.8 L703.6,700.8 L704.6,700.7 L705.6,700.7 L706.6,700.6 L707.6,700.6 L708.6,700.5 L709.6,700.4 L710.6,700.3 L711.6,700.2 L712.6,700.1 L713.6,700.0 L714.6,699.9 L715.6,699.7 L716.6,699.6 L717.6,699.4 L718.6,699.2 L719.6,699.0 L720.6,698.8 L721.6,698.6 L722.6,698.3 L723.6,698.1 L724.6,697.8 L725.6,697.5 L726.6,697.2 L727.6,696.8 L728.6,696.4 L729.6,696.0 L730.6,695.5 L731.6,695.0 L732.6,694.5 L733.6,693.9 L734.6,693.3 L735.6,692.6 L736.6,691.8 L737.6,691.0 L738.6,690.0 L739.6,689.0 L740.6,687.8 L741.6,686.5 L742.6,685.1 L743.6,683.5 L744.6,681.7 L745.6,679.8 L746.6,677.7 L747.6,675.6 L748.6,673.3 L749.6,670.9 L750.6,668.5 L751.6,666.0 L752.6,663.6 L753.6,661.2 L754.6,659.0 L755.6,657.0 L756.6,655.3 L757.6,654.0 L758.6,653.1 L759.6,652.8 L760.6,652.9 L761.6,653.2 L762.6,653.8 L763.6,654.5 L764.6,655.5 L765.6,656.7 L766.6,658.0 L767.6,659.4 L768.6,660.9 L769.6,662.5 L770.6,664.1 L771.6,665.8 L772.6,667.5 L773.6,669.1 L774.6,670.8 L775.6,672.4 L776.6,674.0 L777.6,675.6 L778.6,677.1 L779.6,678.5 L780.6,679.9 L781.6,681.3 L782.6,682.5 L783.6,683.7 L784.6,684.8 L785.6,685.9 L786.6,686.9 L787.6,687.8 L788.6,688.7 L789.6,689.5 L790.6,690.2 L791.6,690.9 L792.6,691.5 L793.6,692.1 L794.6,692.7 L795.6,693.2 L796.6,693.7 L797.6,694.2 L798.6,694.6 L799.6,695.0 L800.6,695.4 L801.6,695.8 L802.6,696.1 L803.6,696.5 L804.6,696.8 L805.6,697.1 L806.6,697.4 L807.6,697.6 L808.6,697.9 L809.6,698.1 L810.6,698.4 L811.6,698.6 L812.6,698.8 L813.6,699.0 L814.6,699.2 L815.6,699.4 L816.6,699.5 L817.6,699.7 L818.6,699.8 L819.6,700.0 L820.6,700.1 L821.6,700.2 L822.6,700.3 L823.6,700.4 L824.6,700.5 L825.6,700.6 L826.6,700.7 L827.6,700.7 L828.6,700.8 L829.6,700.8 L830.6,700.9 L831.6,700.9 L832.6,700.9 L833.6,701.0 L834.6,701.0 L835.6,701.0 L836.6,701.0 L837.6,701.0 L838.6,701.0 L839.6,701.0 L840.6,701.0 L841.6,701.1 L842.6,701.1 L843.6,701.1 L844.6,701.1 L845.6,701.1 L846.6,701.1 L847.6,701.1 L848.6,701.0 L849.6,701.0 L850.6,701.0 L851.6,701.0 L852.6,701.0 L853.6,701.0 L854.6,701.0 L855.6,701.0 L856.6,701.0 L857.6,701.0 L858.6,701.0 L859.6,701.0 L860.6,701.0 L861.6,701.0 L862.6,701.0 L863.6,701.0 L864.6,701.0 L865.6,701.0 L866.6,701.0 L867.6,701.0 L868.6,701.0 L869.6,701.0 L870.6,701.0 L871.6,701.0 L872.6,701.0 L873.6,701.0 L874.6,701.0 L875.6,701.0 L876.6,701.0 L877.6,701.0 L878.6,701.0 L879.6,701.0 L880.6,701.0 L881.6,701.0 L882.6,701.0 L883.6,701.0 L884.6,701.0 L885.6,701.0 L886.6,701.0 L887.6,701.0 L888.6,701.1 L889.6,701.1 L890.6,701.1 L891.6,701.1 L892.6,701.1 L893.6,701.1 L894.6,701.1 L895.6,701.1 L896.6,701.1 L897.6,701.1 L898.6,701.1 L899.6,701.1 L900.6,701.1 L901.6,701.1 L902.6,701.1 L903.6,701.1 L904.6,701.1 L905.6,701.1 L906.6,701.2 L907.6,701.2 L908.6,701.2 L909.6,701.2 L910.6,701.2 L911.6,701.2 L912.6,701.2 L913.6,701.2 L914.6,701.2 L915.6,701.2 L916.6,701.2 L917.6,701.2 L918.6,701.2 L919.6,701.2 L920.6,701.2 L921.6,701.2 L922.6,701.2 L923.6,701.2 L924.6,701.2 L925.6,701.3 L926.6,701.3 L927.6,701.3 L928.6,701.3 L929.6,701.3 L930.6,701.3 L931.6,701.3 L932.6,701.3 L933.6,701.3 L934.6,701.3 L935.6,701.3 L936.6,701.3 L937.6,701.3 L938.6,701.3 L939.6,701.3 L940.6,701.3 L941.6,701.3 L942.6,701.3 L943.6,701.3 L944.6,701.3 L945.6,701.3 L946.6,701.3 L947.6,701.3 L948.6,701.3 L949.6,701.3 L950.6,701.3 L951.6,701.3 L952.6,701.3 L953.6,701.3 L954.6,701.3 L955.6,701.3 L956.6,701.3 L957.6,701.3 L958.6,701.3 L959.6,701.3 L960.6,701.3 L961.6,701.3 L962.6,701.3 L963.6,701.3 L964.6,701.3 L965.6,701.3 L966.6,701.3 L967.6,701.3 L968.6,701.3 L969.6,701.3 L970.6,701.3 L971.6,701.3 L972.6,701.3 L973.6,701.3 L974.6,701.3 L975.6,701.3 L976.6,701.3 L977.6,701.3 L978.6,701.3 L979.6,701.3 L980.6,701.3 L981.6,701.3 L982.6,701.3 L983.6,701.3 L984.6,701.3 L985.6,701.3 L986.6,701.3 L987.6,701.3 L988.6,701.3 L989.6,701.3 L990.6,701.3 L991.6,701.3 L992.6,701.3 L993.6,701.3 L994.6,701.3 L995.6,701.3 L996.6,701.3 L997.6,701.3 L998.6,701.3 L999.6,701.3 L1000.6,701.3 L1001.6,701.3 L1002.6,701.3 L1003.6,701.3 L1004.6,701.3 L1005.6,701.3 L1006.6,701.3 L1007.6,701.3 L1008.6,701.3 L1009.6,701.3 L1010.6,701.3 L1011.6,701.3 L1012.6,701.3 L1013.6,701.3 L1014.6,701.3 L1015.6,701.3 L1016.6,701.3 L1017.6,701.3 L1018.6,701.3 L1019.6,701.3 L1020.6,701.3 L1021.6,701.3 L1022.6,701.3 L1023.6,701.3 L1024.6,701.3 L1025.6,701.3 L1026.6,701.3 L1027.6,701.3 L1028.6,701.3 L1029.6,701.3 L1030.6,701.3 L1031.6,701.3 L1032.6,701.3 L1033.6,701.3 L1034.6,701.3 L1035.6,701.3 L1036.6,701.3 L1037.6,701.3 L1038.6,701.3 L1039.6,701.3 L1040.6,701.3 L1041.6,701.3 L1042.6,701.3 L1043.6,701.3 L1044.6,701.3 L1045.6,701.3 L1046.6,701.3 L1047.6,701.3 L1048.6,701.3 L1049.6,701.3 L1050.6,701.3 L1051.6,701.3 L1052.6,701.3 L1053.6,701.3 L1054.6,701.3 L1055.6,701.3 L1056.6,701.3 L1057.6,701.3 L1058.6,701.3 L1059.6,701.3 L1060.6,701.3 L1061.6,701.3 L1062.6,701.3 L1063.6,701.3 L1064.6,701.3 L1065.6,701.3 L1066.6,701.3 L1067.7,701.3 L1068.7,701.3 L1069.7,701.3 L1070.7,701.3 L1071.7,701.3 L1072.7,701.3 L1073.7,701.3 L1074.7,701.3 L1075.7,701.3 L1076.7,701.3 L1077.7,701.3 L1078.7,701.3 L1079.7,701.3 L1080.7,701.3 L1081.7,701.3 L1082.7,701.3 L1083.7,701.3 L1084.7,701.3 L1085.7,701.3 L1086.7,701.3 L1087.7,701.3 L1088.7,701.3 L1089.7,701.3 L1090.7,701.3 L1091.7,701.3 L1092.7,701.3 L1093.7,701.3 L1094.7,701.3 L1095.7,701.3 L1096.7,701.3 L1097.7,701.3 L1098.7,701.3 L1099.7,701.3 L1100.7,701.3 L1101.7,701.3 L1102.7,701.3 L1103.7,701.3 L1104.7,701.3 L1105.7,701.3 L1106.7,701.3 L1107.7,701.3 L1108.7,701.3 L1109.7,701.3 L1110.7,701.3 L1111.7,701.3 L1112.7,701.3 L1113.7,701.3 L1114.7,701.3 L1115.7,701.3 L1116.7,701.3 L1117.7,701.3 L1118.7,701.3 L1119.7,701.3 L1120.7,701.3 L1121.7,701.3 L1122.7,701.3 L1123.7,701.3 L1124.7,701.3 L1125.7,701.3 L1126.7,701.3 L1127.7,701.3 L1128.7,701.3 L1129.7,701.3 L1130.7,701.3 L1131.7,701.3 L1132.7,701.3 L1133.7,701.3 L1134.7,701.3 L1135.7,701.3 L1136.7,701.3 L1137.7,701.3 L1138.7,701.3 L1139.7,701.3 L1140.7,701.3 L1141.7,701.3 L1142.7,701.3 L1143.7,701.3 L1144.7,701.3 L1145.7,701.3 L1146.7,701.3 L1147.7,701.3 L1148.7,701.3 L1149.7,701.3 L1150.7,701.3 L1151.7,701.3 L1152.7,701.3 L1153.7,701.3 L1154.7,701.3 L1155.7,701.3 L1156.7,701.3 L1157.7,701.3 L1158.7,701.3 L1159.7,701.3 L1160.7,701.3 L1161.7,701.3 L1162.7,701.3 L1163.7,701.3 L1164.7,701.3 L1165.7,701.3 L1166.7,701.3 L1167.7,701.3 L1168.7,701.3 L1169.7,701.3 L1170.7,701.3 L1171.7,701.3 L1172.7,701.3 L1173.7,701.3 L1174.7,701.3 L1175.7,701.3 L1176.7,701.3 L1177.7,701.3 L1178.7,701.3 L1179.7,701.3 L1180.7,701.3 L1181.7,701.3 L1182.7,701.3 L1183.7,701.3 L1184.7,701.3 L1185.7,701.3 L1186.7,701.3 L1187.7,701.3 L1188.7,701.3 L1189.7,701.3 L1190.7,701.3 L1191.7,701.3 L1192.7,701.3 L1193.7,701.3 L1194.7,701.3 L1195.7,701.3 L1196.7,701.3 L1197.7,701.3 L1198.7,701.3 L1199.7,701.3 L1200.7,701.3 L1201.7,701.3 L1202.7,701.3 L1203.7,701.3 L1204.7,701.3 L1205.7,701.3 L1206.7,701.3 L1207.7,701.3 L1208.7,701.3 L1209.7,701.3 L1210.7,701.3 L1211.7,701.3 L1212.7,701.3 L1213.7,701.3 L1214.7,701.3 L1215.7,701.3 L1216.7,701.3 L1217.7,701.3 L1218.7,701.3 L1219.7,701.3 L1220.7,701.3 L1221.7,701.3 L1222.7,701.3 L1223.7,701.3 L1224.7,701.3 L1225.7,701.3 L1226.7,701.3 L1227.7,701.3 L1228.7,701.3 L1229.7,701.3 L1230.7,701.3 L1231.7,701.3 L1232.7,701.3 L1233.7,701.3 L1234.7,701.3 L1235.7,701.3 L1236.7,701.3 L1237.7,701.3 L1238.7,701.3 L1239.7,701.3 L1240.7,701.3 L1241.7,701.3 L1242.7,701.3 L1243.7,701.3 L1244.7,701.3 L1245.7,701.3 L1246.7,701.3 L1247.7,701.3 L1248.7,701.3 L1249.7,701.3 L1250.7,701.4 L1251.7,701.4 L1252.7,701.4 L1253.7,701.4 L1254.7,701.4 L1255.7,701.4 L1256.7,701.4 L1257.7,701.4 L1258.7,701.4 L1259.7,701.4 L1260.7,701.4 L1261.7,701.4 L1262.7,701.4 L1263.7,701.4 L1264.7,701.4 L1265.7,701.4 L1266.7,701.4 L1267.7,701.4 L1268.7,701.4 L1269.7,701.4 L1270.7,701.4 L1271.7,701.4 L1272.7,701.4 L1273.7,701.4 L1274.7,701.4 L1275.7,701.4 L1276.7,701.4 L1277.7,701.4 L1278.7,701.4 L1279.7,701.4 L1280.7,701.4 L1281.7,701.4 L1282.7,701.4 L1283.7,701.4 L1284.7,701.4 L1285.7,701.4 L1286.7,701.4 L1287.7,701.4 L1288.7,701.4 L1289.7,701.4 L1290.7,701.4 L1291.7,701.4 L1292.7,701.4 L1293.7,701.4 L1294.7,701.4 L1295.7,701.4 L1296.7,701.4 L1297.7,701.4 L1298.7,701.4 L1299.7,701.4 L1300.7,701.4 L1301.7,701.4 L1302.7,701.5 L1303.7,701.5 L1304.7,701.5 L1305.7,701.5 L1306.7,701.5 L1307.7,701.5 L1308.7,701.5 L1309.7,701.5 L1310.7,701.5 L1311.7,701.5 L1312.7,701.5 L1313.7,701.5 L1314.7,701.5 L1315.7,701.5 L1316.7,701.5 L1317.7,701.5 L1318.7,701.5 L1319.7,701.5 L1320.7,701.5 L1321.7,701.5 L1322.7,701.5 L1323.7,701.5 L1324.7,701.5 L1325.7,701.5 L1326.7,701.5 L1327.7,701.5 L1328.7,701.5 L1329.7,701.5 L1330.7,701.5 L1331.7,701.5 L1332.7,701.5 L1333.7,701.5 L1334.7,701.5 L1335.7,701.5 L1336.7,701.5 L1337.7,701.5 L1338.7,701.5 L1339.7,701.5 L1340.7,701.5 L1341.7,701.6 L1342.7,701.6 L1343.7,701.6 L1344.7,701.6 L1345.7,701.6 L1346.7,701.6 L1347.7,701.6 L1348.7,701.6 L1349.7,701.6 L1350.7,701.6 L1351.7,701.6 L1352.7,701.6 L1353.7,701.6 L1354.7,701.6 L1355.7,701.6 L1356.7,701.6 L1357.7,701.6 L1358.7,701.6 L1359.7,701.6 L1360.7,701.6 L1361.7,701.6 L1362.7,701.6 L1363.7,701.6 L1364.7,701.6 L1365.7,701.6 L1366.7,701.6 L1367.7,701.6 L1368.7,701.6 L1369.7,701.6 L1370.7,701.6 L1371.7,701.6 L1372.7,701.6 L1373.7,701.6 L1374.7,701.6 L1375.7,701.7 L1376.7,701.7 L1377.7,701.7 L1378.7,701.7 L1379.7,701.7 L1380.7,701.7 L1381.7,701.7 L1382.7,701.7 L1383.7,701.7 L1384.7,701.7 L1385.7,701.7 L1386.7,701.7 L1387.7,701.7 L1388.7,701.7 L1389.7,701.7 L1390.7,701.7 L1391.7,701.7 L1392.7,701.7 L1393.7,701.7 L1394.7,701.7 L1395.7,701.7 L1396.7,701.7 L1397.7,701.7 L1398.7,701.7 L1399.7,701.7 L1400.7,701.7 L1401.7,701.7 L1402.7,701.7 L1403.7,701.7 L1404.7,701.7 L1405.7,701.7 L1406.7,701.8 L1407.7,701.8 L1408.7,701.8 L1409.7,701.8 L1410.7,701.8 L1411.7,701.8 L1412.7,701.8 L1413.7,701.8 L1414.7,701.8 L1415.7,701.8 L1416.7,701.8 L1417.7,701.8 L1418.7,701.8 L1419.7,701.8 L1420.7,701.8 L1421.7,701.8 L1422.7,701.8 L1423.7,701.8 L1424.7,701.8 L1425.7,701.8 L1426.7,701.8 L1427.7,701.8 L1428.7,701.8 L1429.7,701.8 L1430.7,701.8 L1431.7,701.8 L1432.7,701.8 L1433.7,701.8 L1434.7,701.8 L1435.7,701.9 L1436.7,701.9 L1437.7,701.9 L1438.7,701.9 L1439.7,701.9 L1440.7,701.9 L1441.7,701.9 L1442.7,701.9 L1443.7,701.9 L1444.7,701.9 L1445.7,701.9 L1446.7,701.9 L1447.7,701.9 L1448.7,701.9 L1449.7,701.9 L1450.7,701.9 L1451.7,701.9 L1452.7,701.9 L1453.7,701.9 L1454.7,701.9 L1455.7,701.9 L1456.7,701.9 L1457.7,701.9 L1458.7,701.9 L1459.7,701.9 L1460.7,701.9 L1461.7,702.0 L1462.7,702.0 L1463.7,702.0 L1464.7,702.0 L1465.7,702.0 L1466.7,702.0 L1467.7,702.0 L1468.7,702.0 L1469.7,702.0 L1470.7,702.0 L1471.7,702.0 L1472.7,702.0 L1473.7,702.0 L1474.7,702.0 L1475.7,702.0 L1476.7,702.0 L1477.7,702.0 L1478.7,702.1 L1479.7,702.1 L1480.7,702.1 L1481.7,702.1 L1482.7,702.1 L1483.7,702.1 L1484.7,702.1 L1485.7,702.1 L1486.7,702.1 L1487.7,702.1 L1488.7,702.1 L1489.7,702.1 L1490.7,702.1 L1491.7,702.1 L1492.7,702.2 L1493.7,702.2 L1494.7,702.2 L1495.7,702.2 L1496.7,702.2 L1497.7,702.2 L1498.7,702.2 L1499.7,702.2 L1500.7,702.2 L1501.7,702.2 L1502.7,702.2 L1503.7,702.2 L1504.7,702.3 L1505.7,702.3 L1506.7,702.3 L1507.7,702.3 L1508.7,702.3 L1509.7,702.3 L1510.7,702.3 L1511.7,702.3 L1512.7,702.3 L1513.7,702.3 L1514.7,702.3 L1515.7,702.4 L1516.7,702.4 L1517.7,702.4 L1518.7,702.4 L1519.7,702.4 L1520.7,702.4 L1521.7,702.4 L1522.7,702.4 L1523.7,702.4 L1524.7,702.4 L1525.7,702.4 L1526.7,702.4 L1527.7,702.5 L1528.7,702.5 L1529.7,702.5 L1530.7,702.5 L1531.7,702.5 L1532.7,702.5 L1533.7,702.5 L1534.7,702.5 L1535.7,702.5 L1536.7,702.5 L1537.7,702.5 L1538.7,702.6 L1539.7,702.6 L1540.7,702.6 L1541.7,702.6 L1542.7,702.6 L1543.7,702.6 L1544.7,702.6 L1545.7,702.6 L1546.7,702.6 L1547.7,702.6 L1548.7,702.6 L1549.7,702.6 L1550.7,702.7 L1551.7,702.7 L1552.7,702.7 L1553.7,702.7 L1554.7,702.7 L1555.7,702.7 L1556.7,702.7 L1557.7,702.7 L1558.7,702.7 L1559.7,702.7 L1560.7,702.7 L1561.7,702.7 L1562.7,702.8 L1563.7,702.8 L1564.7,702.8 L1565.7,702.8 L1566.7,702.8 L1567.7,702.8 L1568.7,702.8 L1569.7,702.8 L1570.7,702.8 L1571.7,702.8 L1572.7,702.8 L1573.7,702.8 L1574.7,702.8 L1575.7,702.8 L1576.7,702.8 L1577.7,702.9 L1578.7,702.9 L1579.7,702.9 L1580.7,702.9 L1581.7,702.9 L1582.7,702.9 L1583.7,702.9 L1584.7,702.9 L1585.7,702.9 L1586.7,702.9 L1587.7,702.9 L1588.7,702.9 L1589.7,702.9 L1590.7,702.9 L1591.7,702.9 L1592.7,702.9 L1593.7,702.9 L1594.7,702.9 L1595.7,702.9 L1596.7,703.0 L1597.7,703.0 L1598.7,703.0 L1599.7,703.0 L1600.7,703.0 L1601.7,703.0 L1602.7,703.0 L1603.7,703.0 L1604.7,703.0 L1605.7,703.0 L1606.7,703.0 L1607.7,703.0 L1608.7,703.0 L1609.7,703.0 L1610.7,703.0 L1611.7,703.0 L1612.7,703.0 L1613.7,703.0 L1614.7,703.0 L1615.7,703.0 L1616.7,703.0 L1617.7,703.0 L1618.7,703.0 L1619.7,703.0 L1620.7,703.0 L1621.7,703.0 L1622.7,703.0 L1623.7,703.0 L1624.7,703.0 L1625.7,703.0 L1626.7,703.0 L1627.7,703.0 L1628.7,703.0 L1629.7,703.0 L1630.7,703.0 L1631.7,703.0 L1632.7,703.0 L1633.7,703.0 L1634.7,703.0 L1635.7,703.0 L1636.7,703.0 L1637.7,703.0 L1638.7,703.0 L1639.7,703.0 L1640.7,703.0 L1641.7,703.0 L1642.7,703.0 L1643.7,703.0 L1644.7,703.0 L1645.7,703.0 L1646.7,703.0 L1647.7,703.0 L1648.7,703.0 L1649.7,703.0 L1650.7,703.0 L1651.7,703.0 L1652.7,703.0 L1653.7,703.0 L1654.7,703.0 L1655.7,703.0 L1656.7,703.0 L1657.7,703.0 L1658.7,703.0 L1659.7,703.0 L1660.7,703.0 L1661.7,703.0 L1662.7,703.0 L1663.7,703.0 L1664.7,703.0 L1665.7,703.0 L1666.7,703.0 L1667.7,703.0 L1668.7,703.0 L1669.7,703.0 L1670.7,703.0 L1671.7,703.0 L1672.7,703.0 L1673.7,703.0 L1674.7,703.0 L1675.7,703.0 L1676.7,703.0 L1677.7,703.0 L1678.7,703.0 L1679.7,703.0 L1680.7,703.0 L1681.7,703.0 L1682.7,703.0 L1683.7,703.0 L1684.7,703.0 L1685.7,703.0 L1686.7,703.0 L1687.7,703.0 L1688.7,703.0 L1689.7,703.0 L1690.7,703.0 L1691.7,703.0 L1692.7,703.0 L1693.7,703.0 L1694.7,703.0 L1695.7,703.0 L1696.7,703.0 L1697.7,703.0 L1698.7,703.0 L1699.7,703.0 L1700.7,703.0 L1701.7,703.0 L1702.7,703.0 L1703.7,703.0 L1704.7,703.0 L1705.7,703.0 L1706.7,703.0 L1707.7,703.0 L1708.7,703.0 L1709.7,703.0 L1710.7,703.0 L1711.7,703.0 L1712.7,703.0 L1713.7,703.0 L1714.7,703.0 L1715.7,703.0 L1716.7,703.0 L1717.7,703.0 L1718.7,703.0 L1719.7,703.0 L1720.7,703.0 L1721.7,703.0 L1722.7,703.0 L1723.7,703.0 L1724.7,703.0 L1725.7,703.0 L1726.7,703.0 L1727.7,703.0 L1728.7,703.0 L1729.7,703.0 L1730.7,703.0 L1731.7,703.0 L1732.7,703.0 L1733.7,703.0 L1734.7,703.0 L1735.7,703.0 L1736.7,703.0 L1737.7,703.0 L1738.7,703.0 L1739.7,703.0 L1740.7,703.0 L1741.7,703.0 L1742.7,703.0 L1743.7,703.0 L1744.7,703.0 L1745.7,703.0 L1746.7,703.0 L1747.7,703.0 L1748.7,703.0 L1749.7,703.0 L1750.7,703.0 L1751.7,703.0 L1752.7,703.0 L1753.7,703.0 L1754.7,703.0 L1755.7,703.0 L1756.7,703.0 L1757.7,703.0 L1758.7,703.0 L1759.7,703.0 L1760.7,703.0 L1761.7,703.0 L1762.7,703.0 L1763.7,703.0 L1764.7,703.0 L1765.7,703.0 L1766.7,703.0 L1767.7,703.0 L1768.7,703.0 L1769.7,703.0 L1770.7,703.0 L1771.7,703.0 L1772.7,703.0 L1773.7,703.0 L1774.7,703.0 L1775.7,703.0 L1776.7,703.0 L1777.7,703.0 L1778.7,703.0 L1779.7,703.0 L1780.7,703.0 L1781.7,703.0 L1782.7,703.0 L1783.7,703.0 L1784.7,703.0 L1785.7,703.0 L1786.7,703.0 L1787.7,703.0 L1788.7,703.0 L1789.7,703.0 L1790.7,703.0 L1791.7,703.0 L1792.7,703.0 L1793.7,703.0 L1794.7,703.0 L1795.7,703.0 L1796.7,703.0 L1797.7,703.0 L1798.7,703.0 L1799.7,703.0 L1800.7,703.0 L1801.7,703.0 L1802.7,703.0 L1803.7,703.0 L1804.7,703.0 L1805.7,703.0"/>
<path class="c" stroke="#00c906" stroke-width="9.1" d="M328.6,851.2 L329.6,851.2 L330.6,851.2 L331.6,851.2 L332.6,851.2 L333.6,851.1 L334.6,851.1 L335.6,851.1 L336.6,851.1 L337.6,851.0 L338.6,851.0 L339.6,851.0 L340.6,851.0 L341.6,850.9 L342.6,850.9 L343.6,850.9 L344.6,850.8 L345.6,850.8 L346.6,850.8 L347.6,850.8 L348.6,850.7 L349.6,850.7 L350.6,850.7 L351.6,850.6 L352.6,850.6 L353.6,850.5 L354.6,850.5 L355.6,850.4 L356.6,850.4 L357.6,850.3 L358.6,850.2 L359.6,850.1 L360.6,850.1 L361.6,849.9 L362.6,849.8 L363.6,849.7 L364.6,849.5 L365.6,849.4 L366.6,849.2 L367.6,849.0 L368.6,848.7 L369.6,848.5 L370.6,848.2 L371.6,847.9 L372.6,847.6 L373.6,847.3 L374.6,846.9 L375.6,846.5 L376.6,846.1 L377.6,845.6 L378.6,845.2 L379.6,844.7 L380.6,844.3 L381.6,843.8 L382.6,843.3 L383.6,842.8 L384.6,842.3 L385.6,841.8 L386.6,841.3 L387.6,840.9 L388.6,840.5 L389.6,840.1 L390.6,839.7 L391.6,839.4 L392.6,839.1 L393.6,838.9 L394.6,838.8 L395.6,838.7 L396.6,838.6 L397.6,838.6 L398.6,838.7 L399.6,838.8 L400.6,839.0 L401.6,839.2 L402.6,839.5 L403.6,839.8 L404.6,840.2 L405.6,840.6 L406.6,841.0 L407.6,841.5 L408.6,842.0 L409.6,842.4 L410.6,842.9 L411.6,843.4 L412.6,843.9 L413.6,844.4 L414.6,844.8 L415.6,845.3 L416.6,845.7 L417.6,846.1 L418.6,846.5 L419.6,846.9 L420.6,847.2 L421.6,847.6 L422.6,847.9 L423.6,848.1 L424.6,848.4 L425.6,848.6 L426.6,848.8 L427.6,849.0 L428.6,849.2 L429.6,849.3 L430.6,849.5 L431.6,849.6 L432.6,849.7 L433.6,849.8 L434.6,849.8 L435.6,849.9 L436.6,850.0 L437.6,850.0 L438.6,850.1 L439.6,850.1 L440.6,850.1 L441.6,850.1 L442.6,850.2 L443.6,850.2 L444.6,850.2 L445.6,850.2 L446.6,850.2 L447.6,850.2 L448.6,850.2 L449.6,850.2 L450.6,850.2 L451.6,850.2 L452.6,850.2 L453.6,850.2 L454.6,850.2 L455.6,850.2 L456.6,850.2 L457.6,850.2 L458.6,850.2 L459.6,850.2 L460.6,850.2 L461.6,850.2 L462.6,850.2 L463.6,850.2 L464.6,850.2 L465.6,850.2 L466.6,850.2 L467.6,850.2 L468.6,850.2 L469.6,850.2 L470.6,850.2 L471.6,850.2 L472.6,850.2 L473.6,850.2 L474.6,850.2 L475.6,850.2 L476.6,850.2 L477.6,850.2 L478.6,850.2 L479.6,850.2 L480.6,850.2 L481.6,850.2 L482.6,850.2 L483.6,850.2 L484.6,850.2 L485.6,850.2 L486.6,850.2 L487.6,850.2 L488.6,850.2 L489.6,850.2 L490.6,850.2 L491.6,850.2 L492.6,850.2 L493.6,850.2 L494.6,850.2 L495.6,850.2 L496.6,850.2 L497.6,850.2 L498.6,850.2 L499.6,850.2 L500.6,850.2 L501.6,850.2 L502.6,850.2 L503.6,850.2 L504.6,850.2 L505.6,850.2 L506.6,850.2 L507.6,850.2 L508.6,850.2 L509.6,850.2 L510.6,850.2 L511.6,850.2 L512.6,850.2 L513.6,850.2 L514.6,850.2 L515.6,850.2 L516.6,850.2 L517.6,850.2 L518.6,850.2 L519.6,850.2 L520.6,850.2 L521.6,850.2 L522.6,850.2 L523.6,850.2 L524.6,850.2 L525.6,850.2 L526.6,850.2 L527.6,850.2 L528.6,850.2 L529.6,850.2 L530.6,850.2 L531.6,850.2 L532.6,850.2 L533.6,850.3 L534.6,850.3 L535.6,850.3 L536.6,850.3 L537.6,850.3 L538.6,850.3 L539.6,850.3 L540.6,850.3 L541.6,850.3 L542.6,850.3 L543.6,850.3 L544.6,850.3 L545.6,850.3 L546.6,850.3 L547.6,850.3 L548.6,850.3 L549.6,850.3 L550.6,850.3 L551.6,850.3 L552.6,850.3 L553.6,850.3 L554.6,850.3 L555.6,850.3 L556.6,850.3 L557.6,850.3 L558.6,850.3 L559.6,850.3 L560.6,850.3 L561.6,850.3 L562.6,850.3 L563.6,850.3 L564.6,850.3 L565.6,850.3 L566.6,850.3 L567.6,850.3 L568.6,850.3 L569.6,850.3 L570.6,850.3 L571.6,850.3 L572.6,850.3 L573.6,850.3 L574.6,850.3 L575.6,850.3 L576.6,850.3 L577.6,850.3 L578.6,850.3 L579.6,850.3 L580.6,850.3 L581.6,850.3 L582.6,850.3 L583.6,850.3 L584.6,850.3 L585.6,850.3 L586.6,850.3 L587.6,850.3 L588.6,850.3 L589.6,850.3 L590.6,850.3 L591.6,850.3 L592.6,850.3 L593.6,850.3 L594.6,850.3 L595.6,850.3 L596.6,850.3 L597.6,850.3 L598.6,850.3 L599.6,850.3 L600.6,850.3 L601.6,850.3 L602.6,850.3 L603.6,850.3 L604.6,850.3 L605.6,850.3 L606.6,850.3 L607.6,850.3 L608.6,850.3 L609.6,850.3 L610.6,850.3 L611.6,850.3 L612.6,850.3 L613.6,850.3 L614.6,850.3 L615.6,850.3 L616.6,850.3 L617.6,850.3 L618.6,850.3 L619.6,850.3 L620.6,850.3 L621.6,850.3 L622.6,850.3 L623.6,850.3 L624.6,850.4 L625.6,850.4 L626.6,850.4 L627.6,850.4 L628.6,850.4 L629.6,850.4 L630.6,850.4 L631.6,850.4 L632.6,850.4 L633.6,850.4 L634.6,850.4 L635.6,850.4 L636.6,850.4 L637.6,850.4 L638.6,850.4 L639.6,850.4 L640.6,850.4 L641.6,850.4 L642.6,850.4 L643.6,850.4 L644.6,850.4 L645.6,850.4 L646.6,850.5 L647.6,850.5 L648.6,850.5 L649.6,850.5 L650.6,850.5 L651.6,850.5 L652.6,850.5 L653.6,850.5 L654.6,850.5 L655.6,850.5 L656.6,850.5 L657.6,850.5 L658.6,850.5 L659.6,850.5 L660.6,850.5 L661.6,850.5 L662.6,850.5 L663.6,850.5 L664.6,850.5 L665.6,850.5 L666.6,850.5 L667.6,850.5 L668.6,850.5 L669.6,850.5 L670.6,850.5 L671.6,850.5 L672.6,850.5 L673.6,850.5 L674.6,850.5 L675.6,850.5 L676.6,850.5 L677.6,850.5 L678.6,850.5 L679.6,850.5 L680.6,850.5 L681.6,850.5 L682.6,850.5 L683.6,850.5 L684.6,850.5 L685.6,850.4 L686.6,850.4 L687.6,850.4 L688.6,850.4 L689.6,850.4 L690.6,850.4 L691.6,850.4 L692.6,850.3 L693.6,850.3 L694.6,850.3 L695.6,850.3 L696.6,850.3 L697.6,850.3 L698.6,850.3 L699.6,850.2 L700.6,850.2 L701.6,850.2 L702.6,850.2 L703.6,850.1 L704.6,850.1 L705.6,850.1 L706.6,850.0 L707.6,850.0 L708.6,849.9 L709.6,849.9 L710.6,849.8 L711.6,849.7 L712.6,849.6 L713.6,849.5 L714.6,849.4 L715.6,849.3 L716.6,849.2 L717.6,849.1 L718.6,848.9 L719.6,848.7 L720.6,848.6 L721.6,848.4 L722.6,848.2 L723.6,848.0 L724.6,847.7 L725.6,847.5 L726.6,847.2 L727.6,846.9 L728.6,846.6 L729.6,846.3 L730.6,845.9 L731.6,845.5 L732.6,845.0 L733.6,844.6 L734.6,844.0 L735.6,843.5 L736.6,842.8 L737.6,842.1 L738.6,841.3 L739.6,840.4 L740.6,839.5 L741.6,838.4 L742.6,837.2 L743.6,835.8 L744.6,834.4 L745.6,832.7 L746.6,831.0 L747.6,829.1 L748.6,827.0 L749.6,824.9 L750.6,822.6 L751.6,820.2 L752.6,817.8 L753.6,815.3 L754.6,812.8 L755.6,810.5 L756.6,808.3 L757.6,806.3 L758.6,804.6 L759.6,803.4 L760.6,802.6 L761.6,802.3 L762.6,802.4 L763.6,802.7 L764.6,803.3 L765.6,804.1 L766.6,805.1 L767.6,806.3 L768.6,807.6 L769.6,809.0 L770.6,810.5 L771.6,812.1 L772.6,813.8 L773.6,815.5 L774.6,817.2 L775.6,818.8 L776.6,820.5 L777.6,822.1 L778.6,823.7 L779.6,825.3 L780.6,826.8 L781.6,828.2 L782.6,829.6 L783.6,830.9 L784.6,832.1 L785.6,833.3 L786.6,834.4 L787.6,835.4 L788.6,836.4 L789.6,837.4 L790.6,838.2 L791.6,839.0 L792.6,839.8 L793.6,840.5 L794.6,841.1 L795.6,841.7 L796.6,842.3 L797.6,842.8 L798.6,843.3 L799.6,843.8 L800.6,844.2 L801.6,844.6 L802.6,845.0 L803.6,845.3 L804.6,845.7 L805.6,846.0 L806.6,846.3 L807.6,846.6 L808.6,846.8 L809.6,847.1 L810.6,847.3 L811.6,847.6 L812.6,847.8 L813.6,848.0 L814.6,848.2 L815.6,848.4 L816.6,848.6 L817.6,848.7 L818.6,848.9 L819.6,849.0 L820.6,849.2 L821.6,849.3 L822.6,849.4 L823.6,849.6 L824.6,849.7 L825.6,849.8 L826.6,849.8 L827.6,849.9 L828.6,850.0 L829.6,850.0 L830.6,850.1 L831.6,850.1 L832.6,850.2 L833.6,850.2 L834.6,850.2 L835.6,850.3 L836.6,850.3 L837.6,850.3 L838.6,850.3 L839.6,850.3 L840.6,850.3 L841.6,850.3 L842.6,850.3 L843.6,850.4 L844.6,850.4 L845.6,850.4 L846.6,850.4 L847.6,850.4 L848.6,850.4 L849.6,850.4 L850.6,850.4 L851.6,850.4 L852.6,850.3 L853.6,850.3 L854.6,850.3 L855.6,850.3 L856.6,850.3 L857.6,850.3 L858.6,850.3 L859.6,850.3 L860.6,850.3 L861.6,850.3 L862.6,850.3 L863.6,850.3 L864.6,850.3 L865.6,850.3 L866.6,850.3 L867.6,850.3 L868.6,850.3 L869.6,850.3 L870.6,850.3 L871.6,850.3 L872.6,850.3 L873.6,850.3 L874.6,850.3 L875.6,850.3 L876.6,850.3 L877.6,850.3 L878.6,850.3 L879.6,850.3 L880.6,850.3 L881.6,850.3 L882.6,850.3 L883.6,850.3 L884.6,850.3 L885.6,850.3 L886.6,850.3 L887.6,850.3 L888.6,850.3 L889.6,850.3 L890.6,850.3 L891.6,850.3 L892.6,850.3 L893.6,850.3 L894.6,850.3 L895.6,850.3 L896.6,850.3 L897.6,850.3 L898.6,850.3 L899.6,850.3 L900.6,850.3 L901.6,850.3 L902.6,850.3 L903.6,850.3 L904.6,850.3 L905.6,850.3 L906.6,850.3 L907.6,850.3 L908.6,850.4 L909.6,850.4 L910.6,850.4 L911.6,850.4 L912.6,850.4 L913.6,850.4 L914.6,850.4 L915.6,850.4 L916.6,850.4 L917.6,850.4 L918.6,850.4 L919.6,850.4 L920.6,850.4 L921.6,850.4 L922.6,850.4 L923.6,850.4 L924.6,850.4 L925.6,850.4 L926.6,850.4 L927.6,850.4 L928.6,850.4 L929.6,850.4 L930.6,850.4 L931.6,850.4 L932.6,850.4 L933.6,850.4 L934.6,850.4 L935.6,850.4 L936.6,850.4 L937.6,850.4 L938.6,850.4 L939.6,850.4 L940.6,850.4 L941.6,850.4 L942.6,850.4 L943.6,850.4 L944.6,850.4 L945.6,850.4 L946.6,850.4 L947.6,850.4 L948.6,850.5 L949.6,850.5 L950.6,850.5 L951.6,850.5 L952.6,850.5 L953.6,850.5 L954.6,850.5 L955.6,850.5 L956.6,850.5 L957.6,850.5 L958.6,850.5 L959.6,850.5 L960.6,850.5 L961.6,850.5 L962.6,850.5 L963.6,850.5 L964.6,850.5 L965.6,850.5 L966.6,850.5 L967.6,850.5 L968.6,850.5 L969.6,850.5 L970.6,850.4 L971.6,850.4 L972.6,850.4 L973.6,850.4 L974.6,850.4 L975.6,850.4 L976.6,850.4 L977.6,850.4 L978.6,850.4 L979.6,850.4 L980.6,850.4 L981.6,850.4 L982.6,850.4 L983.6,850.4 L984.6,850.4 L985.6,850.4 L986.6,850.4 L987.6,850.4 L988.6,850.4 L989.6,850.4 L990.6,850.4 L991.6,850.4 L992.6,850.4 L993.6,850.4 L994.6,850.4 L995.6,850.4 L996.6,850.4 L997.6,850.4 L998.6,850.4 L999.6,850.4 L1000.6,850.4 L1001.6,850.4 L1002.6,850.4 L1003.6,850.4 L1004.6,850.4 L1005.6,850.4 L1006.6,850.4 L1007.6,850.4 L1008.6,850.4 L1009.6,850.4 L1010.6,850.4 L1011.6,850.4 L1012.6,850.4 L1013.6,850.4 L1014.6,850.4 L1015.6,850.4 L1016.6,850.4 L1017.6,850.4 L1018.6,850.4 L1019.6,850.4 L1020.6,850.4 L1021.6,850.4 L1022.6,850.4 L1023.6,850.4 L1024.6,850.4 L1025.6,850.4 L1026.6,850.4 L1027.6,850.4 L1028.6,850.4 L1029.6,850.4 L1030.6,850.4 L1031.6,850.4 L1032.6,850.4 L1033.6,850.4 L1034.6,850.4 L1035.6,850.4 L1036.6,850.4 L1037.6,850.4 L1038.6,850.4 L1039.6,850.4 L1040.6,850.4 L1041.6,850.4 L1042.6,850.4 L1043.6,850.4 L1044.6,850.4 L1045.6,850.4 L1046.6,850.4 L1047.6,850.4 L1048.6,850.4 L1049.6,850.4 L1050.6,850.4 L1051.6,850.4 L1052.6,850.4 L1053.6,850.4 L1054.6,850.4 L1055.6,850.4 L1056.6,850.4 L1057.6,850.4 L1058.6,850.4 L1059.6,850.4 L1060.6,850.4 L1061.6,850.4 L1062.6,850.4 L1063.6,850.4 L1064.6,850.3 L1065.6,850.3 L1066.6,850.3 L1067.7,850.3 L1068.7,850.3 L1069.7,850.3 L1070.7,850.3 L1071.7,850.3 L1072.7,850.3 L1073.7,850.3 L1074.7,850.3 L1075.7,850.3 L1076.7,850.3 L1077.7,850.3 L1078.7,850.3 L1079.7,850.3 L1080.7,850.3 L1081.7,850.3 L1082.7,850.3 L1083.7,850.3 L1084.7,850.3 L1085.7,850.3 L1086.7,850.3 L1087.7,850.3 L1088.7,850.3 L1089.7,850.3 L1090.7,850.3 L1091.7,850.3 L1092.7,850.3 L1093.7,850.3 L1094.7,850.3 L1095.7,850.3 L1096.7,850.3 L1097.7,850.3 L1098.7,850.3 L1099.7,850.3 L1100.7,850.3 L1101.7,850.3 L1102.7,850.3 L1103.7,850.3 L1104.7,850.3 L1105.7,850.3 L1106.7,850.3 L1107.7,850.3 L1108.7,850.3 L1109.7,850.3 L1110.7,850.3 L1111.7,850.3 L1112.7,850.3 L1113.7,850.3 L1114.7,850.3 L1115.7,850.3 L1116.7,850.3 L1117.7,850.3 L1118.7,850.3 L1119.7,850.3 L1120.7,850.3 L1121.7,850.3 L1122.7,850.3 L1123.7,850.3 L1124.7,850.3 L1125.7,850.3 L1126.7,850.3 L1127.7,850.3 L1128.7,850.3 L1129.7,850.3 L1130.7,850.3 L1131.7,850.3 L1132.7,850.3 L1133.7,850.3 L1134.7,850.3 L1135.7,850.3 L1136.7,850.3 L1137.7,850.3 L1138.7,850.3 L1139.7,850.3 L1140.7,850.3 L1141.7,850.3 L1142.7,850.3 L1143.7,850.3 L1144.7,850.3 L1145.7,850.3 L1146.7,850.3 L1147.7,850.3 L1148.7,850.3 L1149.7,850.3 L1150.7,850.3 L1151.7,850.3 L1152.7,850.3 L1153.7,850.3 L1154.7,850.3 L1155.7,850.3 L1156.7,850.3 L1157.7,850.3 L1158.7,850.3 L1159.7,850.3 L1160.7,850.3 L1161.7,850.3 L1162.7,850.3 L1163.7,850.3 L1164.7,850.3 L1165.7,850.3 L1166.7,850.3 L1167.7,850.3 L1168.7,850.3 L1169.7,850.3 L1170.7,850.3 L1171.7,850.3 L1172.7,850.3 L1173.7,850.3 L1174.7,850.3 L1175.7,850.3 L1176.7,850.3 L1177.7,850.3 L1178.7,850.3 L1179.7,850.3 L1180.7,850.3 L1181.7,850.3 L1182.7,850.3 L1183.7,850.3 L1184.7,850.3 L1185.7,850.3 L1186.7,850.3 L1187.7,850.3 L1188.7,850.3 L1189.7,850.3 L1190.7,850.3 L1191.7,850.3 L1192.7,850.3 L1193.7,850.3 L1194.7,850.3 L1195.7,850.3 L1196.7,850.3 L1197.7,850.3 L1198.7,850.3 L1199.7,850.3 L1200.7,850.3 L1201.7,850.3 L1202.7,850.3 L1203.7,850.3 L1204.7,850.3 L1205.7,850.3 L1206.7,850.3 L1207.7,850.3 L1208.7,850.3 L1209.7,850.3 L1210.7,850.3 L1211.7,850.3 L1212.7,850.3 L1213.7,850.3 L1214.7,850.3 L1215.7,850.3 L1216.7,850.3 L1217.7,850.3 L1218.7,850.3 L1219.7,850.3 L1220.7,850.3 L1221.7,850.3 L1222.7,850.3 L1223.7,850.3 L1224.7,850.3 L1225.7,850.3 L1226.7,850.3 L1227.7,850.3 L1228.7,850.3 L1229.7,850.3 L1230.7,850.3 L1231.7,850.3 L1232.7,850.3 L1233.7,850.3 L1234.7,850.3 L1235.7,850.3 L1236.7,850.3 L1237.7,850.3 L1238.7,850.3 L1239.7,850.3 L1240.7,850.3 L1241.7,850.3 L1242.7,850.3 L1243.7,850.3 L1244.7,850.3 L1245.7,850.3 L1246.7,850.3 L1247.7,850.3 L1248.7,850.3 L1249.7,850.3 L1250.7,850.3 L1251.7,850.3 L1252.7,850.3 L1253.7,850.3 L1254.7,850.3 L1255.7,850.3 L1256.7,850.3 L1257.7,850.3 L1258.7,850.3 L1259.7,850.3 L1260.7,850.3 L1261.7,850.3 L1262.7,850.3 L1263.7,850.3 L1264.7,850.3 L1265.7,850.3 L1266.7,850.3 L1267.7,850.3 L1268.7,850.3 L1269.7,850.3 L1270.7,850.3 L1271.7,850.3 L1272.7,850.3 L1273.7,850.4 L1274.7,850.4 L1275.7,850.4 L1276.7,850.4 L1277.7,850.4 L1278.7,850.4 L1279.7,850.4 L1280.7,850.4 L1281.7,850.4 L1282.7,850.4 L1283.7,850.4 L1284.7,850.4 L1285.7,850.4 L1286.7,850.4 L1287.7,850.4 L1288.7,850.4 L1289.7,850.4 L1290.7,850.4 L1291.7,850.4 L1292.7,850.4 L1293.7,850.4 L1294.7,850.4 L1295.7,850.4 L1296.7,850.4 L1297.7,850.4 L1298.7,850.4 L1299.7,850.4 L1300.7,850.4 L1301.7,850.4 L1302.7,850.4 L1303.7,850.4 L1304.7,850.4 L1305.7,850.4 L1306.7,850.4 L1307.7,850.4 L1308.7,850.4 L1309.7,850.4 L1310.7,850.4 L1311.7,850.4 L1312.7,850.4 L1313.7,850.4 L1314.7,850.4 L1315.7,850.4 L1316.7,850.4 L1317.7,850.4 L1318.7,850.4 L1319.7,850.4 L1320.7,850.4 L1321.7,850.4 L1322.7,850.4 L1323.7,850.4 L1324.7,850.4 L1325.7,850.4 L1326.7,850.4 L1327.7,850.4 L1328.7,850.4 L1329.7,850.4 L1330.7,850.4 L1331.7,850.4 L1332.7,850.4 L1333.7,850.4 L1334.7,850.4 L1335.7,850.4 L1336.7,850.4 L1337.7,850.4 L1338.7,850.4 L1339.7,850.4 L1340.7,850.4 L1341.7,850.4 L1342.7,850.4 L1343.7,850.4 L1344.7,850.4 L1345.7,850.4 L1346.7,850.4 L1347.7,850.4 L1348.7,850.4 L1349.7,850.4 L1350.7,850.4 L1351.7,850.4 L1352.7,850.4 L1353.7,850.4 L1354.7,850.4 L1355.7,850.4 L1356.7,850.4 L1357.7,850.4 L1358.7,850.5 L1359.7,850.5 L1360.7,850.5 L1361.7,850.5 L1362.7,850.5 L1363.7,850.5 L1364.7,850.5 L1365.7,850.5 L1366.7,850.5 L1367.7,850.5 L1368.7,850.5 L1369.7,850.5 L1370.7,850.5 L1371.7,850.5 L1372.7,850.5 L1373.7,850.5 L1374.7,850.5 L1375.7,850.5 L1376.7,850.5 L1377.7,850.5 L1378.7,850.5 L1379.7,850.5 L1380.7,850.5 L1381.7,850.5 L1382.7,850.5 L1383.7,850.5 L1384.7,850.5 L1385.7,850.5 L1386.7,850.5 L1387.7,850.5 L1388.7,850.5 L1389.7,850.5 L1390.7,850.5 L1391.7,850.5 L1392.7,850.5 L1393.7,850.5 L1394.7,850.5 L1395.7,850.5 L1396.7,850.5 L1397.7,850.5 L1398.7,850.5 L1399.7,850.5 L1400.7,850.5 L1401.7,850.5 L1402.7,850.5 L1403.7,850.5 L1404.7,850.5 L1405.7,850.5 L1406.7,850.5 L1407.7,850.5 L1408.7,850.5 L1409.7,850.5 L1410.7,850.5 L1411.7,850.5 L1412.7,850.5 L1413.7,850.5 L1414.7,850.5 L1415.7,850.5 L1416.7,850.5 L1417.7,850.5 L1418.7,850.5 L1419.7,850.5 L1420.7,850.5 L1421.7,850.5 L1422.7,850.6 L1423.7,850.6 L1424.7,850.6 L1425.7,850.6 L1426.7,850.6 L1427.7,850.6 L1428.7,850.6 L1429.7,850.6 L1430.7,850.6 L1431.7,850.6 L1432.7,850.6 L1433.7,850.6 L1434.7,850.6 L1435.7,850.6 L1436.7,850.6 L1437.7,850.6 L1438.7,850.6 L1439.7,850.6 L1440.7,850.6 L1441.7,850.6 L1442.7,850.6 L1443.7,850.6 L1444.7,850.6 L1445.7,850.6 L1446.7,850.6 L1447.7,850.6 L1448.7,850.6 L1449.7,850.6 L1450.7,850.6 L1451.7,850.6 L1452.7,850.6 L1453.7,850.6 L1454.7,850.6 L1455.7,850.6 L1456.7,850.6 L1457.7,850.6 L1458.7,850.6 L1459.7,850.6 L1460.7,850.6 L1461.7,850.6 L1462.7,850.6 L1463.7,850.6 L1464.7,850.6 L1465.7,850.6 L1466.7,850.7 L1467.7,850.7 L1468.7,850.7 L1469.7,850.7 L1470.7,850.7 L1471.7,850.7 L1472.7,850.7 L1473.7,850.7 L1474.7,850.7 L1475.7,850.7 L1476.7,850.7 L1477.7,850.7 L1478.7,850.7 L1479.7,850.7 L1480.7,850.7 L1481.7,850.7 L1482.7,850.7 L1483.7,850.7 L1484.7,850.7 L1485.7,850.7 L1486.7,850.7 L1487.7,850.8 L1488.7,850.8 L1489.7,850.8 L1490.7,850.8 L1491.7,850.8 L1492.7,850.8 L1493.7,850.8 L1494.7,850.8 L1495.7,850.8 L1496.7,850.8 L1497.7,850.8 L1498.7,850.8 L1499.7,850.8 L1500.7,850.8 L1501.7,850.8 L1502.7,850.9 L1503.7,850.9 L1504.7,850.9 L1505.7,850.9 L1506.7,850.9 L1507.7,850.9 L1508.7,850.9 L1509.7,850.9 L1510.7,850.9 L1511.7,850.9 L1512.7,850.9 L1513.7,850.9 L1514.7,850.9 L1515.7,850.9 L1516.7,851.0 L1517.7,851.0 L1518.7,851.0 L1519.7,851.0 L1520.7,851.0 L1521.7,851.0 L1522.7,851.0 L1523.7,851.0 L1524.7,851.0 L1525.7,851.0 L1526.7,851.0 L1527.7,851.0 L1528.7,851.0 L1529.7,851.0 L1530.7,851.1 L1531.7,851.1 L1532.7,851.1 L1533.7,851.1 L1534.7,851.1 L1535.7,851.1 L1536.7,851.1 L1537.7,851.1 L1538.7,851.1 L1539.7,851.1 L1540.7,851.1 L1541.7,851.1 L1542.7,851.1 L1543.7,851.2 L1544.7,851.2 L1545.7,851.2 L1546.7,851.2 L1547.7,851.2 L1548.7,851.2 L1549.7,851.2 L1550.7,851.2 L1551.7,851.2 L1552.7,851.2 L1553.7,851.2 L1554.7,851.2 L1555.7,851.2 L1556.7,851.2 L1557.7,851.3 L1558.7,851.3 L1559.7,851.3 L1560.7,851.3 L1561.7,851.3 L1562.7,851.3 L1563.7,851.3 L1564.7,851.3 L1565.7,851.3 L1566.7,851.3 L1567.7,851.3 L1568.7,851.3 L1569.7,851.3 L1570.7,851.3 L1571.7,851.3 L1572.7,851.3 L1573.7,851.4 L1574.7,851.4 L1575.7,851.4 L1576.7,851.4 L1577.7,851.4 L1578.7,851.4 L1579.7,851.4 L1580.7,851.4 L1581.7,851.4 L1582.7,851.4 L1583.7,851.4 L1584.7,851.4 L1585.7,851.4 L1586.7,851.4 L1587.7,851.4 L1588.7,851.4 L1589.7,851.4 L1590.7,851.4 L1591.7,851.4 L1592.7,851.4 L1593.7,851.4 L1594.7,851.4 L1595.7,851.5 L1596.7,851.5 L1597.7,851.5 L1598.7,851.5 L1599.7,851.5 L1600.7,851.5 L1601.7,851.5 L1602.7,851.5 L1603.7,851.5 L1604.7,851.5 L1605.7,851.5 L1606.7,851.5 L1607.7,851.5 L1608.7,851.5 L1609.7,851.5 L1610.7,851.5 L1611.7,851.5 L1612.7,851.5 L1613.7,851.5 L1614.7,851.5 L1615.7,851.5 L1616.7,851.5 L1617.7,851.5 L1618.7,851.5 L1619.7,851.5 L1620.7,851.5 L1621.7,851.5 L1622.7,851.5 L1623.7,851.5 L1624.7,851.5 L1625.7,851.5 L1626.7,851.5 L1627.7,851.5 L1628.7,851.5 L1629.7,851.5 L1630.7,851.5 L1631.7,851.5 L1632.7,851.5 L1633.7,851.5 L1634.7,851.5 L1635.7,851.5 L1636.7,851.5 L1637.7,851.5 L1638.7,851.5 L1639.7,851.5 L1640.7,851.5 L1641.7,851.5 L1642.7,851.5 L1643.7,851.5 L1644.7,851.5 L1645.7,851.5 L1646.7,851.5 L1647.7,851.5 L1648.7,851.5 L1649.7,851.5 L1650.7,851.5 L1651.7,851.5 L1652.7,851.5 L1653.7,851.5 L1654.7,851.5 L1655.7,851.5 L1656.7,851.5 L1657.7,851.5 L1658.7,851.5 L1659.7,851.5 L1660.7,851.5 L1661.7,851.5 L1662.7,851.5 L1663.7,851.5 L1664.7,851.5 L1665.7,851.5 L1666.7,851.5 L1667.7,851.5 L1668.7,851.5 L1669.7,851.5 L1670.7,851.5 L1671.7,851.5 L1672.7,851.5 L1673.7,851.5 L1674.7,851.5 L1675.7,851.5 L1676.7,851.5 L1677.7,851.5 L1678.7,851.5 L1679.7,851.5 L1680.7,851.5 L1681.7,851.5 L1682.7,851.5 L1683.7,851.5 L1684.7,851.5 L1685.7,851.5 L1686.7,851.5 L1687.7,851.5 L1688.7,851.5 L1689.7,851.5 L1690.7,851.5 L1691.7,851.5 L1692.7,851.5 L1693.7,851.5 L1694.7,851.5 L1695.7,851.5 L1696.7,851.5 L1697.7,851.5 L1698.7,851.5 L1699.7,851.5 L1700.7,851.5 L1701.7,851.5 L1702.7,851.5 L1703.7,851.5 L1704.7,851.5 L1705.7,851.5 L1706.7,851.5 L1707.7,851.5 L1708.7,851.5 L1709.7,851.5 L1710.7,851.5 L1711.7,851.5 L1712.7,851.5 L1713.7,851.5 L1714.7,851.5 L1715.7,851.5 L1716.7,851.5 L1717.7,851.5 L1718.7,851.5 L1719.7,851.5 L1720.7,851.5 L1721.7,851.5 L1722.7,851.5 L1723.7,851.5 L1724.7,851.5 L1725.7,851.5 L1726.7,851.5 L1727.7,851.5 L1728.7,851.5 L1729.7,851.5 L1730.7,851.5 L1731.7,851.5 L1732.7,851.5 L1733.7,851.5 L1734.7,851.5 L1735.7,851.5 L1736.7,851.5 L1737.7,851.5 L1738.7,851.5 L1739.7,851.5 L1740.7,851.5 L1741.7,851.5 L1742.7,851.5 L1743.7,851.5 L1744.7,851.5 L1745.7,851.5 L1746.7,851.5 L1747.7,851.5 L1748.7,851.5 L1749.7,851.5 L1750.7,851.5 L1751.7,851.5 L1752.7,851.5 L1753.7,851.5 L1754.7,851.5 L1755.7,851.5 L1756.7,851.5 L1757.7,851.5 L1758.7,851.5 L1759.7,851.5 L1760.7,851.5 L1761.7,851.5 L1762.7,851.5 L1763.7,851.5 L1764.7,851.5 L1765.7,851.5 L1766.7,851.5 L1767.7,851.5 L1768.7,851.5 L1769.7,851.5 L1770.7,851.5 L1771.7,851.5 L1772.7,851.5 L1773.7,851.5 L1774.7,851.5 L1775.7,851.5 L1776.7,851.5 L1777.7,851.5 L1778.7,851.5 L1779.7,851.5 L1780.7,851.5 L1781.7,851.5 L1782.7,851.5 L1783.7,851.5 L1784.7,851.5 L1785.7,851.5 L1786.7,851.5 L1787.7,851.5 L1788.7,851.5 L1789.7,851.5 L1790.7,851.5 L1791.7,851.5 L1792.7,851.5 L1793.7,851.5 L1794.7,851.5 L1795.7,851.5 L1796.7,851.5 L1797.7,851.5 L1798.7,851.5 L1799.7,851.5 L1800.7,851.5 L1801.7,851.5 L1802.7,851.5 L1803.7,851.5 L1804.7,851.5 L1805.7,851.5"/>
<path class="c" stroke="#7600d4" stroke-width="8.8" d="M328.6,1049.8 L329.6,1049.8 L330.6,1049.7 L331.6,1049.6 L332.6,1049.6 L333.6,1049.5 L334.6,1049.4 L335.6,1049.3 L336.6,1049.3 L337.6,1049.2 L338.6,1049.1 L339.6,1049.0 L340.6,1048.9 L341.6,1048.8 L342.6,1048.7 L343.6,1048.6 L344.6,1048.5 L345.6,1048.4 L346.6,1048.4 L347.6,1048.3 L348.6,1048.2 L349.6,1048.1 L350.6,1048.0 L351.6,1047.9 L352.6,1047.8 L353.6,1047.7 L354.6,1047.6 L355.6,1047.6 L356.6,1047.5 L357.6,1047.4 L358.6,1047.3 L359.6,1047.2 L360.6,1047.1 L361.6,1047.1 L362.6,1047.0 L363.6,1046.9 L364.6,1046.8 L365.6,1046.7 L366.6,1046.7 L367.6,1046.6 L368.6,1046.5 L369.6,1046.4 L370.6,1046.4 L371.6,1046.3 L372.6,1046.2 L373.6,1046.1 L374.6,1046.1 L375.6,1046.0 L376.6,1045.9 L377.6,1045.9 L378.6,1045.8 L379.6,1045.7 L380.6,1045.7 L381.6,1045.6 L382.6,1045.6 L383.6,1045.5 L384.6,1045.4 L385.6,1045.4 L386.6,1045.3 L387.6,1045.3 L388.6,1045.2 L389.6,1045.2 L390.6,1045.1 L391.6,1045.1 L392.6,1045.0 L393.6,1045.0 L394.6,1044.9 L395.6,1044.9 L396.6,1044.9 L397.6,1044.8 L398.6,1044.8 L399.6,1044.8 L400.6,1044.7 L401.6,1044.7 L402.6,1044.6 L403.6,1044.6 L404.6,1044.6 L405.6,1044.5 L406.6,1044.5 L407.6,1044.5 L408.6,1044.4 L409.6,1044.4 L410.6,1044.4 L411.6,1044.3 L412.6,1044.3 L413.6,1044.3 L414.6,1044.3 L415.6,1044.2 L416.6,1044.2 L417.6,1044.2 L418.6,1044.1 L419.6,1044.1 L420.6,1044.1 L421.6,1044.0 L422.6,1044.0 L423.6,1044.0 L424.6,1043.9 L425.6,1043.9 L426.6,1043.9 L427.6,1043.9 L428.6,1043.8 L429.6,1043.8 L430.6,1043.8 L431.6,1043.7 L432.6,1043.7 L433.6,1043.7 L434.6,1043.7 L435.6,1043.6 L436.6,1043.6 L437.6,1043.6 L438.6,1043.5 L439.6,1043.5 L440.6,1043.5 L441.6,1043.5 L442.6,1043.4 L443.6,1043.4 L444.6,1043.4 L445.6,1043.4 L446.6,1043.3 L447.6,1043.3 L448.6,1043.3 L449.6,1043.3 L450.6,1043.2 L451.6,1043.2 L452.6,1043.2 L453.6,1043.1 L454.6,1043.1 L455.6,1043.1 L456.6,1043.1 L457.6,1043.1 L458.6,1043.0 L459.6,1043.0 L460.6,1043.0 L461.6,1043.0 L462.6,1042.9 L463.6,1042.9 L464.6,1042.9 L465.6,1042.9 L466.6,1042.8 L467.6,1042.8 L468.6,1042.8 L469.6,1042.8 L470.6,1042.7 L471.6,1042.7 L472.6,1042.7 L473.6,1042.7 L474.6,1042.7 L475.6,1042.6 L476.6,1042.6 L477.6,1042.6 L478.6,1042.6 L479.6,1042.5 L480.6,1042.5 L481.6,1042.5 L482.6,1042.5 L483.6,1042.5 L484.6,1042.4 L485.6,1042.4 L486.6,1042.4 L487.6,1042.4 L488.6,1042.4 L489.6,1042.3 L490.6,1042.3 L491.6,1042.3 L492.6,1042.3 L493.6,1042.3 L494.6,1042.2 L495.6,1042.2 L496.6,1042.2 L497.6,1042.2 L498.6,1042.2 L499.6,1042.1 L500.6,1042.1 L501.6,1042.1 L502.6,1042.1 L503.6,1042.1 L504.6,1042.1 L505.6,1042.0 L506.6,1042.0 L507.6,1042.0 L508.6,1042.0 L509.6,1042.0 L510.6,1041.9 L511.6,1041.9 L512.6,1041.9 L513.6,1041.9 L514.6,1041.9 L515.6,1041.9 L516.6,1041.8 L517.6,1041.8 L518.6,1041.8 L519.6,1041.8 L520.6,1041.8 L521.6,1041.8 L522.6,1041.7 L523.6,1041.7 L524.6,1041.7 L525.6,1041.7 L526.6,1041.7 L527.6,1041.7 L528.6,1041.6 L529.6,1041.6 L530.6,1041.6 L531.6,1041.6 L532.6,1041.6 L533.6,1041.6 L534.6,1041.6 L535.6,1041.5 L536.6,1041.5 L537.6,1041.5 L538.6,1041.5 L539.6,1041.5 L540.6,1041.5 L541.6,1041.4 L542.6,1041.4 L543.6,1041.4 L544.6,1041.4 L545.6,1041.4 L546.6,1041.4 L547.6,1041.4 L548.6,1041.3 L549.6,1041.3 L550.6,1041.3 L551.6,1041.3 L552.6,1041.3 L553.6,1041.3 L554.6,1041.3 L555.6,1041.2 L556.6,1041.2 L557.6,1041.2 L558.6,1041.2 L559.6,1041.2 L560.6,1041.2 L561.6,1041.1 L562.6,1041.1 L563.6,1041.1 L564.6,1041.1 L565.6,1041.1 L566.6,1041.1 L567.6,1041.1 L568.6,1041.0 L569.6,1041.0 L570.6,1041.0 L571.6,1041.0 L572.6,1041.0 L573.6,1041.0 L574.6,1041.0 L575.6,1040.9 L576.6,1040.9 L577.6,1040.9 L578.6,1040.9 L579.6,1040.9 L580.6,1040.9 L581.6,1040.9 L582.6,1040.8 L583.6,1040.8 L584.6,1040.8 L585.6,1040.8 L586.6,1040.8 L587.6,1040.8 L588.6,1040.7 L589.6,1040.7 L590.6,1040.7 L591.6,1040.7 L592.6,1040.7 L593.6,1040.7 L594.6,1040.7 L595.6,1040.6 L596.6,1040.6 L597.6,1040.6 L598.6,1040.6 L599.6,1040.6 L600.6,1040.6 L601.6,1040.5 L602.6,1040.5 L603.6,1040.5 L604.6,1040.5 L605.6,1040.5 L606.6,1040.5 L607.6,1040.4 L608.6,1040.4 L609.6,1040.4 L610.6,1040.4 L611.6,1040.4 L612.6,1040.4 L613.6,1040.3 L614.6,1040.3 L615.6,1040.3 L616.6,1040.3 L617.6,1040.3 L618.6,1040.2 L619.6,1040.2 L620.6,1040.2 L621.6,1040.2 L622.6,1040.2 L623.6,1040.2 L624.6,1040.1 L625.6,1040.1 L626.6,1040.1 L627.6,1040.1 L628.6,1040.1 L629.6,1040.0 L630.6,1040.0 L631.6,1040.0 L632.6,1040.0 L633.6,1039.9 L634.6,1039.9 L635.6,1039.9 L636.6,1039.9 L637.6,1039.9 L638.6,1039.8 L639.6,1039.8 L640.6,1039.8 L641.6,1039.8 L642.6,1039.7 L643.6,1039.7 L644.6,1039.7 L645.6,1039.7 L646.6,1039.6 L647.6,1039.6 L648.6,1039.6 L649.6,1039.6 L650.6,1039.5 L651.6,1039.5 L652.6,1039.5 L653.6,1039.4 L654.6,1039.4 L655.6,1039.4 L656.6,1039.3 L657.6,1039.3 L658.6,1039.3 L659.6,1039.2 L660.6,1039.2 L661.6,1039.2 L662.6,1039.1 L663.6,1039.1 L664.6,1039.0 L665.6,1039.0 L666.6,1038.9 L667.6,1038.9 L668.6,1038.8 L669.6,1038.8 L670.6,1038.7 L671.6,1038.7 L672.6,1038.6 L673.6,1038.5 L674.6,1038.4 L675.6,1038.4 L676.6,1038.3 L677.6,1038.2 L678.6,1038.1 L679.6,1038.0 L680.6,1037.9 L681.6,1037.8 L682.6,1037.7 L683.6,1037.6 L684.6,1037.4 L685.6,1037.3 L686.6,1037.2 L687.6,1037.1 L688.6,1036.9 L689.6,1036.8 L690.6,1036.7 L691.6,1036.5 L692.6,1036.4 L693.6,1036.2 L694.6,1036.0 L695.6,1035.9 L696.6,1035.7 L697.6,1035.5 L698.6,1035.3 L699.6,1035.2 L700.6,1035.0 L701.6,1034.8 L702.6,1034.6 L703.6,1034.4 L704.6,1034.2 L705.6,1033.9 L706.6,1033.7 L707.6,1033.5 L708.6,1033.2 L709.6,1033.0 L710.6,1032.7 L711.6,1032.5 L712.6,1032.2 L713.6,1031.9 L714.6,1031.5 L715.6,1031.1 L716.6,1030.7 L717.6,1030.3 L718.6,1029.8 L719.6,1029.2 L720.6,1028.5 L721.6,1027.7 L722.6,1026.8 L723.6,1025.8 L724.6,1024.6 L725.6,1023.2 L726.6,1021.6 L727.6,1019.7 L728.6,1017.6 L729.6,1015.2 L730.6,1012.5 L731.6,1009.5 L732.6,1006.2 L733.6,1002.5 L734.6,998.5 L735.6,994.3 L736.6,989.7 L737.6,984.9 L738.6,979.9 L739.6,974.7 L740.6,969.3 L741.6,963.8 L742.6,958.3 L743.6,952.7 L744.6,947.2 L745.6,941.8 L746.6,936.5 L747.6,931.4 L748.6,926.5 L749.6,921.8 L750.6,917.4 L751.6,913.3 L752.6,909.5 L753.6,906.0 L754.6,902.8 L755.6,900.0 L756.6,897.4 L757.6,895.2 L758.6,893.3 L759.6,891.7 L760.6,890.3 L761.6,889.3 L762.6,888.4 L763.6,887.8 L764.6,887.4 L765.6,887.2 L766.6,887.2 L767.6,887.4 L768.6,888.1 L769.6,889.2 L770.6,890.9 L771.6,893.2 L772.6,896.1 L773.6,899.6 L774.6,903.8 L775.6,908.7 L776.6,914.2 L777.6,920.4 L778.6,927.1 L779.6,934.2 L780.6,941.7 L781.6,949.5 L782.6,957.3 L783.6,965.1 L784.6,972.7 L785.6,980.0 L786.6,986.8 L787.6,993.1 L788.6,998.8 L789.6,1003.8 L790.6,1008.1 L791.6,1011.8 L792.6,1014.9 L793.6,1017.5 L794.6,1019.5 L795.6,1021.1 L796.6,1022.4 L797.6,1023.4 L798.6,1024.2 L799.6,1024.9 L800.6,1025.4 L801.6,1025.8 L802.6,1026.2 L803.6,1026.5 L804.6,1026.8 L805.6,1027.0 L806.6,1027.3 L807.6,1027.5 L808.6,1027.7 L809.6,1027.9 L810.6,1028.1 L811.6,1028.2 L812.6,1028.4 L813.6,1028.5 L814.6,1028.7 L815.6,1028.8 L816.6,1029.0 L817.6,1029.1 L818.6,1029.2 L819.6,1029.4 L820.6,1029.5 L821.6,1029.6 L822.6,1029.8 L823.6,1029.9 L824.6,1030.0 L825.6,1030.1 L826.6,1030.3 L827.6,1030.4 L828.6,1030.6 L829.6,1030.7 L830.6,1030.9 L831.6,1031.0 L832.6,1031.2 L833.6,1031.3 L834.6,1031.5 L835.6,1031.6 L836.6,1031.8 L837.6,1032.0 L838.6,1032.1 L839.6,1032.3 L840.6,1032.4 L841.6,1032.6 L842.6,1032.7 L843.6,1032.9 L844.6,1033.0 L845.6,1033.2 L846.6,1033.4 L847.6,1033.5 L848.6,1033.7 L849.6,1033.8 L850.6,1034.0 L851.6,1034.2 L852.6,1034.3 L853.6,1034.5 L854.6,1034.6 L855.6,1034.8 L856.6,1035.0 L857.6,1035.1 L858.6,1035.3 L859.6,1035.4 L860.6,1035.6 L861.6,1035.7 L862.6,1035.8 L863.6,1035.9 L864.6,1036.0 L865.6,1036.1 L866.6,1036.2 L867.6,1036.3 L868.6,1036.3 L869.6,1036.4 L870.6,1036.4 L871.6,1036.5 L872.6,1036.5 L873.6,1036.5 L874.6,1036.6 L875.6,1036.6 L876.6,1036.6 L877.6,1036.6 L878.6,1036.6 L879.6,1036.6 L880.6,1036.6 L881.6,1036.7 L882.6,1036.7 L883.6,1036.7 L884.6,1036.7 L885.6,1036.7 L886.6,1036.7 L887.6,1036.7 L888.6,1036.7 L889.6,1036.7 L890.6,1036.7 L891.6,1036.7 L892.6,1036.7 L893.6,1036.7 L894.6,1036.7 L895.6,1036.7 L896.6,1036.7 L897.6,1036.7 L898.6,1036.7 L899.6,1036.7 L900.6,1036.7 L901.6,1036.7 L902.6,1036.7 L903.6,1036.7 L904.6,1036.7 L905.6,1036.7 L906.6,1036.7 L907.6,1036.7 L908.6,1036.7 L909.6,1036.7 L910.6,1036.7 L911.6,1036.7 L912.6,1036.7 L913.6,1036.7 L914.6,1036.7 L915.6,1036.7 L916.6,1036.7 L917.6,1036.7 L918.6,1036.6 L919.6,1036.6 L920.6,1036.6 L921.6,1036.6 L922.6,1036.6 L923.6,1036.6 L924.6,1036.6 L925.6,1036.6 L926.6,1036.6 L927.6,1036.6 L928.6,1036.6 L929.6,1036.6 L930.6,1036.5 L931.6,1036.5 L932.6,1036.5 L933.6,1036.5 L934.6,1036.5 L935.6,1036.5 L936.6,1036.5 L937.6,1036.5 L938.6,1036.5 L939.6,1036.4 L940.6,1036.4 L941.6,1036.4 L942.6,1036.4 L943.6,1036.4 L944.6,1036.4 L945.6,1036.4 L946.6,1036.4 L947.6,1036.4 L948.6,1036.3 L949.6,1036.3 L950.6,1036.3 L951.6,1036.3 L952.6,1036.3 L953.6,1036.3 L954.6,1036.3 L955.6,1036.3 L956.6,1036.2 L957.6,1036.2 L958.6,1036.2 L959.6,1036.2 L960.6,1036.2 L961.6,1036.2 L962.6,1036.2 L963.6,1036.2 L964.6,1036.2 L965.6,1036.1 L966.6,1036.1 L967.6,1036.1 L968.6,1036.1 L969.6,1036.1 L970.6,1036.1 L971.6,1036.1 L972.6,1036.1 L973.6,1036.0 L974.6,1036.0 L975.6,1036.0 L976.6,1036.0 L977.6,1036.0 L978.6,1036.0 L979.6,1036.0 L980.6,1036.0 L981.6,1036.0 L982.6,1036.0 L983.6,1035.9 L984.6,1035.9 L985.6,1035.9 L986.6,1035.9 L987.6,1035.9 L988.6,1035.9 L989.6,1035.9 L990.6,1035.9 L991.6,1035.9 L992.6,1035.8 L993.6,1035.8 L994.6,1035.8 L995.6,1035.8 L996.6,1035.8 L997.6,1035.8 L998.6,1035.8 L999.6,1035.8 L1000.6,1035.8 L1001.6,1035.7 L1002.6,1035.7 L1003.6,1035.7 L1004.6,1035.7 L1005.6,1035.7 L1006.6,1035.7 L1007.6,1035.7 L1008.6,1035.7 L1009.6,1035.6 L1010.6,1035.6 L1011.6,1035.6 L1012.6,1035.6 L1013.6,1035.6 L1014.6,1035.6 L1015.6,1035.6 L1016.6,1035.6 L1017.6,1035.6 L1018.6,1035.5 L1019.6,1035.5 L1020.6,1035.5 L1021.6,1035.5 L1022.6,1035.5 L1023.6,1035.5 L1024.6,1035.5 L1025.6,1035.5 L1026.6,1035.4 L1027.6,1035.4 L1028.6,1035.4 L1029.6,1035.4 L1030.6,1035.4 L1031.6,1035.4 L1032.6,1035.4 L1033.6,1035.4 L1034.6,1035.3 L1035.6,1035.3 L1036.6,1035.3 L1037.6,1035.3 L1038.6,1035.3 L1039.6,1035.3 L1040.6,1035.3 L1041.6,1035.3 L1042.6,1035.2 L1043.6,1035.2 L1044.6,1035.2 L1045.6,1035.2 L1046.6,1035.2 L1047.6,1035.2 L1048.6,1035.2 L1049.6,1035.2 L1050.6,1035.1 L1051.6,1035.1 L1052.6,1035.1 L1053.6,1035.1 L1054.6,1035.1 L1055.6,1035.1 L1056.6,1035.1 L1057.6,1035.0 L1058.6,1035.0 L1059.6,1035.0 L1060.6,1035.0 L1061.6,1035.0 L1062.6,1035.0 L1063.6,1035.0 L1064.6,1035.0 L1065.6,1034.9 L1066.6,1034.9 L1067.7,1034.9 L1068.7,1034.9 L1069.7,1034.9 L1070.7,1034.9 L1071.7,1034.9 L1072.7,1034.8 L1073.7,1034.8 L1074.7,1034.8 L1075.7,1034.8 L1076.7,1034.8 L1077.7,1034.8 L1078.7,1034.8 L1079.7,1034.8 L1080.7,1034.7 L1081.7,1034.7 L1082.7,1034.7 L1083.7,1034.7 L1084.7,1034.7 L1085.7,1034.7 L1086.7,1034.7 L1087.7,1034.6 L1088.7,1034.6 L1089.7,1034.6 L1090.7,1034.6 L1091.7,1034.6 L1092.7,1034.6 L1093.7,1034.6 L1094.7,1034.5 L1095.7,1034.5 L1096.7,1034.5 L1097.7,1034.5 L1098.7,1034.5 L1099.7,1034.5 L1100.7,1034.5 L1101.7,1034.5 L1102.7,1034.4 L1103.7,1034.4 L1104.7,1034.4 L1105.7,1034.4 L1106.7,1034.4 L1107.7,1034.4 L1108.7,1034.4 L1109.7,1034.3 L1110.7,1034.3 L1111.7,1034.3 L1112.7,1034.3 L1113.7,1034.3 L1114.7,1034.3 L1115.7,1034.3 L1116.7,1034.2 L1117.7,1034.2 L1118.7,1034.2 L1119.7,1034.2 L1120.7,1034.2 L1121.7,1034.2 L1122.7,1034.2 L1123.7,1034.1 L1124.7,1034.1 L1125.7,1034.1 L1126.7,1034.1 L1127.7,1034.1 L1128.7,1034.1 L1129.7,1034.1 L1130.7,1034.0 L1131.7,1034.0 L1132.7,1034.0 L1133.7,1034.0 L1134.7,1034.0 L1135.7,1034.0 L1136.7,1034.0 L1137.7,1033.9 L1138.7,1033.9 L1139.7,1033.9 L1140.7,1033.9 L1141.7,1033.9 L1142.7,1033.9 L1143.7,1033.9 L1144.7,1033.8 L1145.7,1033.8 L1146.7,1033.8 L1147.7,1033.8 L1148.7,1033.8 L1149.7,1033.8 L1150.7,1033.8 L1151.7,1033.7 L1152.7,1033.7 L1153.7,1033.7 L1154.7,1033.7 L1155.7,1033.7 L1156.7,1033.7 L1157.7,1033.7 L1158.7,1033.6 L1159.7,1033.6 L1160.7,1033.6 L1161.7,1033.6 L1162.7,1033.6 L1163.7,1033.6 L1164.7,1033.6 L1165.7,1033.5 L1166.7,1033.5 L1167.7,1033.5 L1168.7,1033.5 L1169.7,1033.5 L1170.7,1033.5 L1171.7,1033.5 L1172.7,1033.4 L1173.7,1033.4 L1174.7,1033.4 L1175.7,1033.4 L1176.7,1033.4 L1177.7,1033.4 L1178.7,1033.3 L1179.7,1033.3 L1180.7,1033.3 L1181.7,1033.3 L1182.7,1033.3 L1183.7,1033.3 L1184.7,1033.3 L1185.7,1033.2 L1186.7,1033.2 L1187.7,1033.2 L1188.7,1033.2 L1189.7,1033.2 L1190.7,1033.2 L1191.7,1033.2 L1192.7,1033.1 L1193.7,1033.1 L1194.7,1033.1 L1195.7,1033.1 L1196.7,1033.1 L1197.7,1033.1 L1198.7,1033.1 L1199.7,1033.0 L1200.7,1033.0 L1201.7,1033.0 L1202.7,1033.0 L1203.7,1033.0 L1204.7,1033.0 L1205.7,1033.0 L1206.7,1032.9 L1207.7,1032.9 L1208.7,1032.9 L1209.7,1032.9 L1210.7,1032.9 L1211.7,1032.9 L1212.7,1032.9 L1213.7,1032.8 L1214.7,1032.8 L1215.7,1032.8 L1216.7,1032.8 L1217.7,1032.8 L1218.7,1032.8 L1219.7,1032.8 L1220.7,1032.7 L1221.7,1032.7 L1222.7,1032.7 L1223.7,1032.7 L1224.7,1032.7 L1225.7,1032.7 L1226.7,1032.6 L1227.7,1032.6 L1228.7,1032.6 L1229.7,1032.6 L1230.7,1032.6 L1231.7,1032.6 L1232.7,1032.6 L1233.7,1032.5 L1234.7,1032.5 L1235.7,1032.5 L1236.7,1032.5 L1237.7,1032.5 L1238.7,1032.5 L1239.7,1032.5 L1240.7,1032.4 L1241.7,1032.4 L1242.7,1032.4 L1243.7,1032.4 L1244.7,1032.4 L1245.7,1032.4 L1246.7,1032.3 L1247.7,1032.3 L1248.7,1032.3 L1249.7,1032.3 L1250.7,1032.3 L1251.7,1032.3 L1252.7,1032.3 L1253.7,1032.2 L1254.7,1032.2 L1255.7,1032.2 L1256.7,1032.2 L1257.7,1032.2 L1258.7,1032.2 L1259.7,1032.1 L1260.7,1032.1 L1261.7,1032.1 L1262.7,1032.1 L1263.7,1032.1 L1264.7,1032.1 L1265.7,1032.1 L1266.7,1032.0 L1267.7,1032.0 L1268.7,1032.0 L1269.7,1032.0 L1270.7,1032.0 L1271.7,1032.0 L1272.7,1031.9 L1273.7,1031.9 L1274.7,1031.9 L1275.7,1031.9 L1276.7,1031.9 L1277.7,1031.9 L1278.7,1031.8 L1279.7,1031.8 L1280.7,1031.8 L1281.7,1031.8 L1282.7,1031.8 L1283.7,1031.8 L1284.7,1031.7 L1285.7,1031.7 L1286.7,1031.7 L1287.7,1031.7 L1288.7,1031.7 L1289.7,1031.7 L1290.7,1031.6 L1291.7,1031.6 L1292.7,1031.6 L1293.7,1031.6 L1294.7,1031.6 L1295.7,1031.6 L1296.7,1031.5 L1297.7,1031.5 L1298.7,1031.5 L1299.7,1031.5 L1300.7,1031.5 L1301.7,1031.5 L1302.7,1031.4 L1303.7,1031.4 L1304.7,1031.4 L1305.7,1031.4 L1306.7,1031.4 L1307.7,1031.4 L1308.7,1031.3 L1309.7,1031.3 L1310.7,1031.3 L1311.7,1031.3 L1312.7,1031.3 L1313.7,1031.3 L1314.7,1031.2 L1315.7,1031.2 L1316.7,1031.2 L1317.7,1031.2 L1318.7,1031.2 L1319.7,1031.2 L1320.7,1031.1 L1321.7,1031.1 L1322.7,1031.1 L1323.7,1031.1 L1324.7,1031.1 L1325.7,1031.1 L1326.7,1031.0 L1327.7,1031.0 L1328.7,1031.0 L1329.7,1031.0 L1330.7,1031.0 L1331.7,1031.0 L1332.7,1030.9 L1333.7,1030.9 L1334.7,1030.9 L1335.7,1030.9 L1336.7,1030.9 L1337.7,1030.9 L1338.7,1030.8 L1339.7,1030.8 L1340.7,1030.8 L1341.7,1030.8 L1342.7,1030.8 L1343.7,1030.8 L1344.7,1030.7 L1345.7,1030.7 L1346.7,1030.7 L1347.7,1030.7 L1348.7,1030.7 L1349.7,1030.7 L1350.7,1030.6 L1351.7,1030.6 L1352.7,1030.6 L1353.7,1030.6 L1354.7,1030.6 L1355.7,1030.6 L1356.7,1030.5 L1357.7,1030.5 L1358.7,1030.5 L1359.7,1030.5 L1360.7,1030.5 L1361.7,1030.5 L1362.7,1030.5 L1363.7,1030.4 L1364.7,1030.4 L1365.7,1030.4 L1366.7,1030.4 L1367.7,1030.4 L1368.7,1030.4 L1369.7,1030.3 L1370.7,1030.3 L1371.7,1030.3 L1372.7,1030.3 L1373.7,1030.3 L1374.7,1030.3 L1375.7,1030.2 L1376.7,1030.2 L1377.7,1030.2 L1378.7,1030.2 L1379.7,1030.2 L1380.7,1030.2 L1381.7,1030.2 L1382.7,1030.1 L1383.7,1030.1 L1384.7,1030.1 L1385.7,1030.1 L1386.7,1030.1 L1387.7,1030.1 L1388.7,1030.1 L1389.7,1030.0 L1390.7,1030.0 L1391.7,1030.0 L1392.7,1030.0 L1393.7,1030.0 L1394.7,1030.0 L1395.7,1030.0 L1396.7,1029.9 L1397.7,1029.9 L1398.7,1029.9 L1399.7,1029.9 L1400.7,1029.9 L1401.7,1029.9 L1402.7,1029.9 L1403.7,1029.8 L1404.7,1029.8 L1405.7,1029.8 L1406.7,1029.8 L1407.7,1029.8 L1408.7,1029.8 L1409.7,1029.8 L1410.7,1029.7 L1411.7,1029.7 L1412.7,1029.7 L1413.7,1029.7 L1414.7,1029.7 L1415.7,1029.7 L1416.7,1029.7 L1417.7,1029.7 L1418.7,1029.6 L1419.7,1029.6 L1420.7,1029.6 L1421.7,1029.6 L1422.7,1029.6 L1423.7,1029.6 L1424.7,1029.6 L1425.7,1029.6 L1426.7,1029.5 L1427.7,1029.5 L1428.7,1029.5 L1429.7,1029.5 L1430.7,1029.5 L1431.7,1029.5 L1432.7,1029.5 L1433.7,1029.5 L1434.7,1029.4 L1435.7,1029.4 L1436.7,1029.4 L1437.7,1029.4 L1438.7,1029.4 L1439.7,1029.4 L1440.7,1029.4 L1441.7,1029.4 L1442.7,1029.4 L1443.7,1029.3 L1444.7,1029.3 L1445.7,1029.3 L1446.7,1029.3 L1447.7,1029.3 L1448.7,1029.3 L1449.7,1029.3 L1450.7,1029.3 L1451.7,1029.3 L1452.7,1029.2 L1453.7,1029.2 L1454.7,1029.2 L1455.7,1029.2 L1456.7,1029.2 L1457.7,1029.2 L1458.7,1029.2 L1459.7,1029.2 L1460.7,1029.2 L1461.7,1029.2 L1462.7,1029.1 L1463.7,1029.1 L1464.7,1029.1 L1465.7,1029.1 L1466.7,1029.1 L1467.7,1029.1 L1468.7,1029.1 L1469.7,1029.1 L1470.7,1029.1 L1471.7,1029.1 L1472.7,1029.0 L1473.7,1029.0 L1474.7,1029.0 L1475.7,1029.0 L1476.7,1029.0 L1477.7,1029.0 L1478.7,1029.0 L1479.7,1029.0 L1480.7,1029.0 L1481.7,1029.0 L1482.7,1028.9 L1483.7,1028.9 L1484.7,1028.9 L1485.7,1028.9 L1486.7,1028.9 L1487.7,1028.9 L1488.7,1028.9 L1489.7,1028.9 L1490.7,1028.9 L1491.7,1028.9 L1492.7,1028.8 L1493.7,1028.8 L1494.7,1028.8 L1495.7,1028.8 L1496.7,1028.8 L1497.7,1028.8 L1498.7,1028.8 L1499.7,1028.8 L1500.7,1028.8 L1501.7,1028.8 L1502.7,1028.7 L1503.7,1028.7 L1504.7,1028.7 L1505.7,1028.7 L1506.7,1028.7 L1507.7,1028.7 L1508.7,1028.7 L1509.7,1028.7 L1510.7,1028.7 L1511.7,1028.7 L1512.7,1028.6 L1513.7,1028.6 L1514.7,1028.6 L1515.7,1028.6 L1516.7,1028.6 L1517.7,1028.6 L1518.7,1028.6 L1519.7,1028.6 L1520.7,1028.6 L1521.7,1028.6 L1522.7,1028.5 L1523.7,1028.5 L1524.7,1028.5 L1525.7,1028.5 L1526.7,1028.5 L1527.7,1028.5 L1528.7,1028.5 L1529.7,1028.5 L1530.7,1028.5 L1531.7,1028.5 L1532.7,1028.4 L1533.7,1028.4 L1534.7,1028.4 L1535.7,1028.4 L1536.7,1028.4 L1537.7,1028.4 L1538.7,1028.4 L1539.7,1028.4 L1540.7,1028.4 L1541.7,1028.4 L1542.7,1028.4 L1543.7,1028.3 L1544.7,1028.3 L1545.7,1028.3 L1546.7,1028.3 L1547.7,1028.3 L1548.7,1028.3 L1549.7,1028.3 L1550.7,1028.3 L1551.7,1028.3 L1552.7,1028.3 L1553.7,1028.2 L1554.7,1028.2 L1555.7,1028.2 L1556.7,1028.2 L1557.7,1028.2 L1558.7,1028.2 L1559.7,1028.2 L1560.7,1028.2 L1561.7,1028.2 L1562.7,1028.2 L1563.7,1028.2 L1564.7,1028.1 L1565.7,1028.1 L1566.7,1028.1 L1567.7,1028.1 L1568.7,1028.1 L1569.7,1028.1 L1570.7,1028.1 L1571.7,1028.1 L1572.7,1028.1 L1573.7,1028.1 L1574.7,1028.1 L1575.7,1028.0 L1576.7,1028.0 L1577.7,1028.0 L1578.7,1028.0 L1579.7,1028.0 L1580.7,1028.0 L1581.7,1028.0 L1582.7,1028.0 L1583.7,1028.0 L1584.7,1028.0 L1585.7,1028.0 L1586.7,1027.9 L1587.7,1027.9 L1588.7,1027.9 L1589.7,1027.9 L1590.7,1027.9 L1591.7,1027.9 L1592.7,1027.9 L1593.7,1027.9 L1594.7,1027.9 L1595.7,1027.9 L1596.7,1027.9 L1597.7,1027.9 L1598.7,1027.8 L1599.7,1027.8 L1600.7,1027.8 L1601.7,1027.8 L1602.7,1027.8 L1603.7,1027.8 L1604.7,1027.8 L1605.7,1027.8 L1606.7,1027.8 L1607.7,1027.8 L1608.7,1027.8 L1609.7,1027.8 L1610.7,1027.7 L1611.7,1027.7 L1612.7,1027.7 L1613.7,1027.7 L1614.7,1027.7 L1615.7,1027.7 L1616.7,1027.7 L1617.7,1027.7 L1618.7,1027.7 L1619.7,1027.7 L1620.7,1027.7 L1621.7,1027.7 L1622.7,1027.6 L1623.7,1027.6 L1624.7,1027.6 L1625.7,1027.6 L1626.7,1027.6 L1627.7,1027.6 L1628.7,1027.6 L1629.7,1027.6 L1630.7,1027.6 L1631.7,1027.6 L1632.7,1027.6 L1633.7,1027.6 L1634.7,1027.5 L1635.7,1027.5 L1636.7,1027.5 L1637.7,1027.5 L1638.7,1027.5 L1639.7,1027.5 L1640.7,1027.5 L1641.7,1027.5 L1642.7,1027.5 L1643.7,1027.5 L1644.7,1027.5 L1645.7,1027.5 L1646.7,1027.5 L1647.7,1027.4 L1648.7,1027.4 L1649.7,1027.4 L1650.7,1027.4 L1651.7,1027.4 L1652.7,1027.4 L1653.7,1027.4 L1654.7,1027.4 L1655.7,1027.4 L1656.7,1027.4 L1657.7,1027.4 L1658.7,1027.4 L1659.7,1027.4 L1660.7,1027.4 L1661.7,1027.3 L1662.7,1027.3 L1663.7,1027.3 L1664.7,1027.3 L1665.7,1027.3 L1666.7,1027.3 L1667.7,1027.3 L1668.7,1027.3 L1669.7,1027.3 L1670.7,1027.3 L1671.7,1027.3 L1672.7,1027.3 L1673.7,1027.3 L1674.7,1027.3 L1675.7,1027.2 L1676.7,1027.2 L1677.7,1027.2 L1678.7,1027.2 L1679.7,1027.2 L1680.7,1027.2 L1681.7,1027.2 L1682.7,1027.2 L1683.7,1027.2 L1684.7,1027.2 L1685.7,1027.2 L1686.7,1027.2 L1687.7,1027.2 L1688.7,1027.2 L1689.7,1027.2 L1690.7,1027.1 L1691.7,1027.1 L1692.7,1027.1 L1693.7,1027.1 L1694.7,1027.1 L1695.7,1027.1 L1696.7,1027.1 L1697.7,1027.1 L1698.7,1027.1 L1699.7,1027.1 L1700.7,1027.1 L1701.7,1027.1 L1702.7,1027.1 L1703.7,1027.1 L1704.7,1027.1 L1705.7,1027.1 L1706.7,1027.0 L1707.7,1027.0 L1708.7,1027.0 L1709.7,1027.0 L1710.7,1027.0 L1711.7,1027.0 L1712.7,1027.0 L1713.7,1027.0 L1714.7,1027.0 L1715.7,1027.0 L1716.7,1027.0 L1717.7,1027.0 L1718.7,1027.0 L1719.7,1027.0 L1720.7,1027.0 L1721.7,1027.0 L1722.7,1027.0 L1723.7,1026.9 L1724.7,1026.9 L1725.7,1026.9 L1726.7,1026.9 L1727.7,1026.9 L1728.7,1026.9 L1729.7,1026.9 L1730.7,1026.9 L1731.7,1026.9 L1732.7,1026.9 L1733.7,1026.9 L1734.7,1026.9 L1735.7,1026.9 L1736.7,1026.9 L1737.7,1026.9 L1738.7,1026.9 L1739.7,1026.9 L1740.7,1026.9 L1741.7,1026.9 L1742.7,1026.8 L1743.7,1026.8 L1744.7,1026.8 L1745.7,1026.8 L1746.7,1026.8 L1747.7,1026.8 L1748.7,1026.8 L1749.7,1026.8 L1750.7,1026.8 L1751.7,1026.8 L1752.7,1026.8 L1753.7,1026.8 L1754.7,1026.8 L1755.7,1026.8 L1756.7,1026.8 L1757.7,1026.8 L1758.7,1026.8 L1759.7,1026.8 L1760.7,1026.8 L1761.7,1026.8 L1762.7,1026.8 L1763.7,1026.7 L1764.7,1026.7 L1765.7,1026.7 L1766.7,1026.7 L1767.7,1026.7 L1768.7,1026.7 L1769.7,1026.7 L1770.7,1026.7 L1771.7,1026.7 L1772.7,1026.7 L1773.7,1026.7 L1774.7,1026.7 L1775.7,1026.7 L1776.7,1026.7 L1777.7,1026.7 L1778.7,1026.7 L1779.7,1026.7 L1780.7,1026.7 L1781.7,1026.7 L1782.7,1026.7 L1783.7,1026.7 L1784.7,1026.7 L1785.7,1026.7 L1786.7,1026.7 L1787.7,1026.7 L1788.7,1026.7 L1789.7,1026.6 L1790.7,1026.6 L1791.7,1026.6 L1792.7,1026.6 L1793.7,1026.6 L1794.7,1026.6 L1795.7,1026.6 L1796.7,1026.6 L1797.7,1026.6 L1798.7,1026.6 L1799.7,1026.6 L1800.7,1026.6 L1801.7,1026.6 L1802.7,1026.6 L1803.7,1026.6 L1804.7,1026.6 L1805.7,1026.6"/>
<path class="c" stroke="#e08b00" stroke-width="8.4" d="M328.6,1249.8 L329.6,1249.7 L330.6,1249.5 L331.6,1249.4 L332.6,1249.3 L333.6,1249.1 L334.6,1248.9 L335.6,1248.8 L336.6,1248.6 L337.6,1248.4 L338.6,1248.3 L339.6,1248.1 L340.6,1247.9 L341.6,1247.8 L342.6,1247.6 L343.6,1247.4 L344.6,1247.3 L345.6,1247.1 L346.6,1247.0 L347.6,1246.9 L348.6,1246.7 L349.6,1246.6 L350.6,1246.5 L351.6,1246.3 L352.6,1246.2 L353.6,1246.1 L354.6,1246.0 L355.6,1245.8 L356.6,1245.7 L357.6,1245.6 L358.6,1245.5 L359.6,1245.4 L360.6,1245.3 L361.6,1245.2 L362.6,1245.1 L363.6,1245.0 L364.6,1244.8 L365.6,1244.7 L366.6,1244.7 L367.6,1244.6 L368.6,1244.5 L369.6,1244.4 L370.6,1244.3 L371.6,1244.2 L372.6,1244.1 L373.6,1244.1 L374.6,1244.0 L375.6,1243.9 L376.6,1243.9 L377.6,1243.8 L378.6,1243.8 L379.6,1243.8 L380.6,1243.7 L381.6,1243.7 L382.6,1243.7 L383.6,1243.7 L384.6,1243.6 L385.6,1243.6 L386.6,1243.6 L387.6,1243.6 L388.6,1243.6 L389.6,1243.6 L390.6,1243.6 L391.6,1243.6 L392.6,1243.6 L393.6,1243.6 L394.6,1243.6 L395.6,1243.6 L396.6,1243.6 L397.6,1243.6 L398.6,1243.6 L399.6,1243.6 L400.6,1243.6 L401.6,1243.6 L402.6,1243.6 L403.6,1243.6 L404.6,1243.6 L405.6,1243.6 L406.6,1243.6 L407.6,1243.6 L408.6,1243.6 L409.6,1243.6 L410.6,1243.6 L411.6,1243.6 L412.6,1243.6 L413.6,1243.7 L414.6,1243.7 L415.6,1243.7 L416.6,1243.7 L417.6,1243.7 L418.6,1243.7 L419.6,1243.7 L420.6,1243.7 L421.6,1243.7 L422.6,1243.7 L423.6,1243.7 L424.6,1243.7 L425.6,1243.7 L426.6,1243.7 L427.6,1243.7 L428.6,1243.7 L429.6,1243.7 L430.6,1243.7 L431.6,1243.7 L432.6,1243.7 L433.6,1243.8 L434.6,1243.8 L435.6,1243.8 L436.6,1243.8 L437.6,1243.8 L438.6,1243.8 L439.6,1243.8 L440.6,1243.8 L441.6,1243.8 L442.6,1243.8 L443.6,1243.8 L444.6,1243.8 L445.6,1243.8 L446.6,1243.8 L447.6,1243.8 L448.6,1243.8 L449.6,1243.9 L450.6,1243.9 L451.6,1243.9 L452.6,1243.9 L453.6,1243.9 L454.6,1243.9 L455.6,1243.9 L456.6,1243.9 L457.6,1243.9 L458.6,1243.9 L459.6,1243.9 L460.6,1243.9 L461.6,1243.9 L462.6,1243.9 L463.6,1243.9 L464.6,1244.0 L465.6,1244.0 L466.6,1244.0 L467.6,1244.0 L468.6,1244.0 L469.6,1244.0 L470.6,1244.0 L471.6,1244.0 L472.6,1244.0 L473.6,1244.0 L474.6,1244.0 L475.6,1244.0 L476.6,1244.0 L477.6,1244.0 L478.6,1244.0 L479.6,1244.0 L480.6,1244.1 L481.6,1244.1 L482.6,1244.1 L483.6,1244.1 L484.6,1244.1 L485.6,1244.1 L486.6,1244.1 L487.6,1244.1 L488.6,1244.1 L489.6,1244.1 L490.6,1244.1 L491.6,1244.1 L492.6,1244.1 L493.6,1244.1 L494.6,1244.1 L495.6,1244.1 L496.6,1244.1 L497.6,1244.1 L498.6,1244.1 L499.6,1244.1 L500.6,1244.2 L501.6,1244.2 L502.6,1244.2 L503.6,1244.2 L504.6,1244.2 L505.6,1244.2 L506.6,1244.2 L507.6,1244.2 L508.6,1244.2 L509.6,1244.2 L510.6,1244.2 L511.6,1244.2 L512.6,1244.2 L513.6,1244.2 L514.6,1244.2 L515.6,1244.2 L516.6,1244.2 L517.6,1244.2 L518.6,1244.2 L519.6,1244.2 L520.6,1244.2 L521.6,1244.2 L522.6,1244.2 L523.6,1244.2 L524.6,1244.2 L525.6,1244.2 L526.6,1244.2 L527.6,1244.2 L528.6,1244.2 L529.6,1244.2 L530.6,1244.2 L531.6,1244.2 L532.6,1244.2 L533.6,1244.2 L534.6,1244.2 L535.6,1244.2 L536.6,1244.2 L537.6,1244.2 L538.6,1244.2 L539.6,1244.2 L540.6,1244.2 L541.6,1244.2 L542.6,1244.2 L543.6,1244.2 L544.6,1244.2 L545.6,1244.2 L546.6,1244.2 L547.6,1244.2 L548.6,1244.2 L549.6,1244.2 L550.6,1244.2 L551.6,1244.2 L552.6,1244.2 L553.6,1244.2 L554.6,1244.1 L555.6,1244.1 L556.6,1244.1 L557.6,1244.1 L558.6,1244.1 L559.6,1244.1 L560.6,1244.1 L561.6,1244.1 L562.6,1244.1 L563.6,1244.1 L564.6,1244.1 L565.6,1244.1 L566.6,1244.1 L567.6,1244.1 L568.6,1244.1 L569.6,1244.1 L570.6,1244.1 L571.6,1244.1 L572.6,1244.1 L573.6,1244.1 L574.6,1244.1 L575.6,1244.1 L576.6,1244.1 L577.6,1244.0 L578.6,1244.0 L579.6,1244.0 L580.6,1244.0 L581.6,1244.0 L582.6,1244.0 L583.6,1244.0 L584.6,1244.0 L585.6,1244.0 L586.6,1244.0 L587.6,1244.0 L588.6,1244.0 L589.6,1244.0 L590.6,1244.0 L591.6,1244.0 L592.6,1243.9 L593.6,1243.9 L594.6,1243.9 L595.6,1243.9 L596.6,1243.9 L597.6,1243.9 L598.6,1243.9 L599.6,1243.9 L600.6,1243.9 L601.6,1243.9 L602.6,1243.8 L603.6,1243.8 L604.6,1243.8 L605.6,1243.8 L606.6,1243.8 L607.6,1243.8 L608.6,1243.8 L609.6,1243.8 L610.6,1243.8 L611.6,1243.7 L612.6,1243.7 L613.6,1243.7 L614.6,1243.7 L615.6,1243.7 L616.6,1243.7 L617.6,1243.7 L618.6,1243.6 L619.6,1243.6 L620.6,1243.6 L621.6,1243.6 L622.6,1243.6 L623.6,1243.6 L624.6,1243.5 L625.6,1243.5 L626.6,1243.5 L627.6,1243.5 L628.6,1243.5 L629.6,1243.4 L630.6,1243.4 L631.6,1243.4 L632.6,1243.4 L633.6,1243.4 L634.6,1243.3 L635.6,1243.3 L636.6,1243.3 L637.6,1243.3 L638.6,1243.2 L639.6,1243.2 L640.6,1243.2 L641.6,1243.2 L642.6,1243.1 L643.6,1243.1 L644.6,1243.1 L645.6,1243.0 L646.6,1243.0 L647.6,1243.0 L648.6,1242.9 L649.6,1242.9 L650.6,1242.8 L651.6,1242.8 L652.6,1242.8 L653.6,1242.7 L654.6,1242.7 L655.6,1242.6 L656.6,1242.6 L657.6,1242.5 L658.6,1242.5 L659.6,1242.4 L660.6,1242.4 L661.6,1242.3 L662.6,1242.3 L663.6,1242.2 L664.6,1242.1 L665.6,1242.1 L666.6,1242.0 L667.6,1242.0 L668.6,1241.9 L669.6,1241.8 L670.6,1241.7 L671.6,1241.6 L672.6,1241.6 L673.6,1241.5 L674.6,1241.4 L675.6,1241.3 L676.6,1241.2 L677.6,1241.1 L678.6,1241.0 L679.6,1240.8 L680.6,1240.7 L681.6,1240.6 L682.6,1240.5 L683.6,1240.3 L684.6,1240.2 L685.6,1240.1 L686.6,1239.9 L687.6,1239.8 L688.6,1239.6 L689.6,1239.5 L690.6,1239.3 L691.6,1239.2 L692.6,1239.0 L693.6,1238.8 L694.6,1238.7 L695.6,1238.5 L696.6,1238.3 L697.6,1238.1 L698.6,1237.9 L699.6,1237.7 L700.6,1237.5 L701.6,1237.3 L702.6,1237.0 L703.6,1236.8 L704.6,1236.6 L705.6,1236.3 L706.6,1236.0 L707.6,1235.7 L708.6,1235.4 L709.6,1235.1 L710.6,1234.7 L711.6,1234.4 L712.6,1234.0 L713.6,1233.6 L714.6,1233.2 L715.6,1232.7 L716.6,1232.3 L717.6,1231.8 L718.6,1231.3 L719.6,1230.7 L720.6,1230.1 L721.6,1229.5 L722.6,1228.8 L723.6,1228.1 L724.6,1227.3 L725.6,1226.5 L726.6,1225.6 L727.6,1224.7 L728.6,1223.7 L729.6,1222.6 L730.6,1221.5 L731.6,1220.2 L732.6,1218.9 L733.6,1217.5 L734.6,1215.9 L735.6,1214.2 L736.6,1212.4 L737.6,1210.4 L738.6,1208.3 L739.6,1205.9 L740.6,1203.4 L741.6,1200.7 L742.6,1197.7 L743.6,1194.6 L744.6,1191.1 L745.6,1187.4 L746.6,1183.5 L747.6,1179.2 L748.6,1174.7 L749.6,1170.0 L750.6,1165.1 L751.6,1160.1 L752.6,1155.1 L753.6,1150.1 L754.6,1145.3 L755.6,1140.8 L756.6,1136.9 L757.6,1133.7 L758.6,1131.3 L759.6,1129.8 L760.6,1129.4 L761.6,1129.9 L762.6,1131.0 L763.6,1132.7 L764.6,1135.1 L765.6,1137.9 L766.6,1141.1 L767.6,1144.7 L768.6,1148.5 L769.6,1152.4 L770.6,1156.5 L771.6,1160.5 L772.6,1164.6 L773.6,1168.5 L774.6,1172.4 L775.6,1176.0 L776.6,1179.6 L777.6,1183.0 L778.6,1186.2 L779.6,1189.2 L780.6,1192.0 L781.6,1194.7 L782.6,1197.3 L783.6,1199.6 L784.6,1201.9 L785.6,1203.9 L786.6,1205.9 L787.6,1207.7 L788.6,1209.4 L789.6,1211.0 L790.6,1212.5 L791.6,1214.0 L792.6,1215.3 L793.6,1216.5 L794.6,1217.7 L795.6,1218.8 L796.6,1219.8 L797.6,1220.8 L798.6,1221.7 L799.6,1222.5 L800.6,1223.3 L801.6,1224.1 L802.6,1224.8 L803.6,1225.5 L804.6,1226.1 L805.6,1226.7 L806.6,1227.3 L807.6,1227.9 L808.6,1228.4 L809.6,1228.9 L810.6,1229.3 L811.6,1229.8 L812.6,1230.2 L813.6,1230.6 L814.6,1231.0 L815.6,1231.3 L816.6,1231.7 L817.6,1232.0 L818.6,1232.3 L819.6,1232.6 L820.6,1232.9 L821.6,1233.2 L822.6,1233.5 L823.6,1233.7 L824.6,1234.0 L825.6,1234.2 L826.6,1234.4 L827.6,1234.6 L828.6,1234.8 L829.6,1235.0 L830.6,1235.2 L831.6,1235.4 L832.6,1235.6 L833.6,1235.8 L834.6,1235.9 L835.6,1236.1 L836.6,1236.2 L837.6,1236.4 L838.6,1236.5 L839.6,1236.7 L840.6,1236.8 L841.6,1236.9 L842.6,1237.1 L843.6,1237.2 L844.6,1237.3 L845.6,1237.5 L846.6,1237.6 L847.6,1237.8 L848.6,1237.9 L849.6,1238.1 L850.6,1238.2 L851.6,1238.4 L852.6,1238.6 L853.6,1238.8 L854.6,1239.0 L855.6,1239.2 L856.6,1239.4 L857.6,1239.6 L858.6,1239.8 L859.6,1240.0 L860.6,1240.2 L861.6,1240.3 L862.6,1240.5 L863.6,1240.7 L864.6,1240.9 L865.6,1241.1 L866.6,1241.2 L867.6,1241.4 L868.6,1241.5 L869.6,1241.7 L870.6,1241.8 L871.6,1241.9 L872.6,1242.0 L873.6,1242.2 L874.6,1242.3 L875.6,1242.4 L876.6,1242.5 L877.6,1242.6 L878.6,1242.7 L879.6,1242.8 L880.6,1242.9 L881.6,1243.0 L882.6,1243.1 L883.6,1243.2 L884.6,1243.2 L885.6,1243.3 L886.6,1243.4 L887.6,1243.5 L888.6,1243.6 L889.6,1243.7 L890.6,1243.7 L891.6,1243.8 L892.6,1243.9 L893.6,1244.0 L894.6,1244.1 L895.6,1244.1 L896.6,1244.2 L897.6,1244.3 L898.6,1244.3 L899.6,1244.4 L900.6,1244.5 L901.6,1244.6 L902.6,1244.6 L903.6,1244.7 L904.6,1244.7 L905.6,1244.8 L906.6,1244.9 L907.6,1244.9 L908.6,1245.0 L909.6,1245.0 L910.6,1245.1 L911.6,1245.1 L912.6,1245.2 L913.6,1245.2 L914.6,1245.3 L915.6,1245.3 L916.6,1245.4 L917.6,1245.4 L918.6,1245.5 L919.6,1245.5 L920.6,1245.6 L921.6,1245.6 L922.6,1245.6 L923.6,1245.7 L924.6,1245.7 L925.6,1245.8 L926.6,1245.8 L927.6,1245.8 L928.6,1245.8 L929.6,1245.9 L930.6,1245.9 L931.6,1245.9 L932.6,1246.0 L933.6,1246.0 L934.6,1246.0 L935.6,1246.0 L936.6,1246.0 L937.6,1246.1 L938.6,1246.1 L939.6,1246.1 L940.6,1246.1 L941.6,1246.1 L942.6,1246.1 L943.6,1246.1 L944.6,1246.2 L945.6,1246.2 L946.6,1246.2 L947.6,1246.2 L948.6,1246.2 L949.6,1246.2 L950.6,1246.2 L951.6,1246.2 L952.6,1246.2 L953.6,1246.2 L954.6,1246.3 L955.6,1246.3 L956.6,1246.3 L957.6,1246.3 L958.6,1246.3 L959.6,1246.3 L960.6,1246.3 L961.6,1246.3 L962.6,1246.3 L963.6,1246.3 L964.6,1246.3 L965.6,1246.3 L966.6,1246.3 L967.6,1246.4 L968.6,1246.4 L969.6,1246.4 L970.6,1246.4 L971.6,1246.4 L972.6,1246.4 L973.6,1246.4 L974.6,1246.4 L975.6,1246.4 L976.6,1246.4 L977.6,1246.4 L978.6,1246.4 L979.6,1246.4 L980.6,1246.4 L981.6,1246.4 L982.6,1246.4 L983.6,1246.4 L984.6,1246.4 L985.6,1246.4 L986.6,1246.4 L987.6,1246.4 L988.6,1246.5 L989.6,1246.5 L990.6,1246.5 L991.6,1246.5 L992.6,1246.5 L993.6,1246.5 L994.6,1246.5 L995.6,1246.5 L996.6,1246.5 L997.6,1246.5 L998.6,1246.5 L999.6,1246.5 L1000.6,1246.5 L1001.6,1246.5 L1002.6,1246.5 L1003.6,1246.5 L1004.6,1246.5 L1005.6,1246.5 L1006.6,1246.5 L1007.6,1246.5 L1008.6,1246.5 L1009.6,1246.5 L1010.6,1246.5 L1011.6,1246.5 L1012.6,1246.5 L1013.6,1246.5 L1014.6,1246.5 L1015.6,1246.5 L1016.6,1246.5 L1017.6,1246.5 L1018.6,1246.5 L1019.6,1246.5 L1020.6,1246.5 L1021.6,1246.5 L1022.6,1246.5 L1023.6,1246.5 L1024.6,1246.5 L1025.6,1246.5 L1026.6,1246.5 L1027.6,1246.5 L1028.6,1246.5 L1029.6,1246.5 L1030.6,1246.5 L1031.6,1246.5 L1032.6,1246.5 L1033.6,1246.5 L1034.6,1246.5 L1035.6,1246.5 L1036.6,1246.5 L1037.6,1246.5 L1038.6,1246.5 L1039.6,1246.5 L1040.6,1246.5 L1041.6,1246.5 L1042.6,1246.5 L1043.6,1246.5 L1044.6,1246.5 L1045.6,1246.5 L1046.6,1246.5 L1047.6,1246.4 L1048.6,1246.4 L1049.6,1246.4 L1050.6,1246.4 L1051.6,1246.4 L1052.6,1246.4 L1053.6,1246.4 L1054.6,1246.4 L1055.6,1246.4 L1056.6,1246.4 L1057.6,1246.4 L1058.6,1246.4 L1059.6,1246.4 L1060.6,1246.4 L1061.6,1246.4 L1062.6,1246.4 L1063.6,1246.4 L1064.6,1246.4 L1065.6,1246.4 L1066.6,1246.4 L1067.7,1246.4 L1068.7,1246.4 L1069.7,1246.4 L1070.7,1246.4 L1071.7,1246.4 L1072.7,1246.4 L1073.7,1246.4 L1074.7,1246.4 L1075.7,1246.4 L1076.7,1246.4 L1077.7,1246.3 L1078.7,1246.3 L1079.7,1246.3 L1080.7,1246.3 L1081.7,1246.3 L1082.7,1246.3 L1083.7,1246.3 L1084.7,1246.3 L1085.7,1246.3 L1086.7,1246.3 L1087.7,1246.3 L1088.7,1246.3 L1089.7,1246.3 L1090.7,1246.3 L1091.7,1246.3 L1092.7,1246.3 L1093.7,1246.3 L1094.7,1246.3 L1095.7,1246.3 L1096.7,1246.3 L1097.7,1246.3 L1098.7,1246.3 L1099.7,1246.2 L1100.7,1246.2 L1101.7,1246.2 L1102.7,1246.2 L1103.7,1246.2 L1104.7,1246.2 L1105.7,1246.2 L1106.7,1246.2 L1107.7,1246.2 L1108.7,1246.2 L1109.7,1246.2 L1110.7,1246.2 L1111.7,1246.2 L1112.7,1246.2 L1113.7,1246.2 L1114.7,1246.2 L1115.7,1246.2 L1116.7,1246.2 L1117.7,1246.2 L1118.7,1246.2 L1119.7,1246.1 L1120.7,1246.1 L1121.7,1246.1 L1122.7,1246.1 L1123.7,1246.1 L1124.7,1246.1 L1125.7,1246.1 L1126.7,1246.1 L1127.7,1246.1 L1128.7,1246.1 L1129.7,1246.1 L1130.7,1246.1 L1131.7,1246.1 L1132.7,1246.1 L1133.7,1246.1 L1134.7,1246.1 L1135.7,1246.1 L1136.7,1246.1 L1137.7,1246.0 L1138.7,1246.0 L1139.7,1246.0 L1140.7,1246.0 L1141.7,1246.0 L1142.7,1246.0 L1143.7,1246.0 L1144.7,1246.0 L1145.7,1246.0 L1146.7,1246.0 L1147.7,1246.0 L1148.7,1246.0 L1149.7,1246.0 L1150.7,1246.0 L1151.7,1246.0 L1152.7,1246.0 L1153.7,1246.0 L1154.7,1246.0 L1155.7,1245.9 L1156.7,1245.9 L1157.7,1245.9 L1158.7,1245.9 L1159.7,1245.9 L1160.7,1245.9 L1161.7,1245.9 L1162.7,1245.9 L1163.7,1245.9 L1164.7,1245.9 L1165.7,1245.9 L1166.7,1245.9 L1167.7,1245.9 L1168.7,1245.9 L1169.7,1245.9 L1170.7,1245.9 L1171.7,1245.9 L1172.7,1245.8 L1173.7,1245.8 L1174.7,1245.8 L1175.7,1245.8 L1176.7,1245.8 L1177.7,1245.8 L1178.7,1245.8 L1179.7,1245.8 L1180.7,1245.8 L1181.7,1245.8 L1182.7,1245.8 L1183.7,1245.8 L1184.7,1245.8 L1185.7,1245.8 L1186.7,1245.8 L1187.7,1245.8 L1188.7,1245.8 L1189.7,1245.8 L1190.7,1245.7 L1191.7,1245.7 L1192.7,1245.7 L1193.7,1245.7 L1194.7,1245.7 L1195.7,1245.7 L1196.7,1245.7 L1197.7,1245.7 L1198.7,1245.7 L1199.7,1245.7 L1200.7,1245.7 L1201.7,1245.7 L1202.7,1245.7 L1203.7,1245.7 L1204.7,1245.7 L1205.7,1245.7 L1206.7,1245.7 L1207.7,1245.7 L1208.7,1245.6 L1209.7,1245.6 L1210.7,1245.6 L1211.7,1245.6 L1212.7,1245.6 L1213.7,1245.6 L1214.7,1245.6 L1215.7,1245.6 L1216.7,1245.6 L1217.7,1245.6 L1218.7,1245.6 L1219.7,1245.6 L1220.7,1245.6 L1221.7,1245.6 L1222.7,1245.6 L1223.7,1245.5 L1224.7,1245.5 L1225.7,1245.5 L1226.7,1245.5 L1227.7,1245.5 L1228.7,1245.5 L1229.7,1245.5 L1230.7,1245.5 L1231.7,1245.5 L1232.7,1245.5 L1233.7,1245.5 L1234.7,1245.5 L1235.7,1245.5 L1236.7,1245.4 L1237.7,1245.4 L1238.7,1245.4 L1239.7,1245.4 L1240.7,1245.4 L1241.7,1245.4 L1242.7,1245.4 L1243.7,1245.4 L1244.7,1245.4 L1245.7,1245.4 L1246.7,1245.4 L1247.7,1245.4 L1248.7,1245.3 L1249.7,1245.3 L1250.7,1245.3 L1251.7,1245.3 L1252.7,1245.3 L1253.7,1245.3 L1254.7,1245.3 L1255.7,1245.3 L1256.7,1245.3 L1257.7,1245.3 L1258.7,1245.3 L1259.7,1245.3 L1260.7,1245.2 L1261.7,1245.2 L1262.7,1245.2 L1263.7,1245.2 L1264.7,1245.2 L1265.7,1245.2 L1266.7,1245.2 L1267.7,1245.2 L1268.7,1245.2 L1269.7,1245.2 L1270.7,1245.2 L1271.7,1245.1 L1272.7,1245.1 L1273.7,1245.1 L1274.7,1245.1 L1275.7,1245.1 L1276.7,1245.1 L1277.7,1245.1 L1278.7,1245.1 L1279.7,1245.1 L1280.7,1245.1 L1281.7,1245.0 L1282.7,1245.0 L1283.7,1245.0 L1284.7,1245.0 L1285.7,1245.0 L1286.7,1245.0 L1287.7,1245.0 L1288.7,1245.0 L1289.7,1245.0 L1290.7,1245.0 L1291.7,1245.0 L1292.7,1244.9 L1293.7,1244.9 L1294.7,1244.9 L1295.7,1244.9 L1296.7,1244.9 L1297.7,1244.9 L1298.7,1244.9 L1299.7,1244.9 L1300.7,1244.9 L1301.7,1244.9 L1302.7,1244.9 L1303.7,1244.9 L1304.7,1244.8 L1305.7,1244.8 L1306.7,1244.8 L1307.7,1244.8 L1308.7,1244.8 L1309.7,1244.8 L1310.7,1244.8 L1311.7,1244.8 L1312.7,1244.8 L1313.7,1244.8 L1314.7,1244.8 L1315.7,1244.8 L1316.7,1244.7 L1317.7,1244.7 L1318.7,1244.7 L1319.7,1244.7 L1320.7,1244.7 L1321.7,1244.7 L1322.7,1244.7 L1323.7,1244.7 L1324.7,1244.7 L1325.7,1244.7 L1326.7,1244.7 L1327.7,1244.7 L1328.7,1244.7 L1329.7,1244.6 L1330.7,1244.6 L1331.7,1244.6 L1332.7,1244.6 L1333.7,1244.6 L1334.7,1244.6 L1335.7,1244.6 L1336.7,1244.6 L1337.7,1244.6 L1338.7,1244.6 L1339.7,1244.6 L1340.7,1244.6 L1341.7,1244.6 L1342.7,1244.6 L1343.7,1244.6 L1344.7,1244.5 L1345.7,1244.5 L1346.7,1244.5 L1347.7,1244.5 L1348.7,1244.5 L1349.7,1244.5 L1350.7,1244.5 L1351.7,1244.5 L1352.7,1244.5 L1353.7,1244.5 L1354.7,1244.5 L1355.7,1244.5 L1356.7,1244.5 L1357.7,1244.5 L1358.7,1244.5 L1359.7,1244.5 L1360.7,1244.5 L1361.7,1244.5 L1362.7,1244.5 L1363.7,1244.5 L1364.7,1244.5 L1365.7,1244.4 L1366.7,1244.4 L1367.7,1244.4 L1368.7,1244.4 L1369.7,1244.4 L1370.7,1244.4 L1371.7,1244.4 L1372.7,1244.4 L1373.7,1244.4 L1374.7,1244.4 L1375.7,1244.4 L1376.7,1244.4 L1377.7,1244.4 L1378.7,1244.4 L1379.7,1244.4 L1380.7,1244.4 L1381.7,1244.4 L1382.7,1244.4 L1383.7,1244.4 L1384.7,1244.4 L1385.7,1244.4 L1386.7,1244.4 L1387.7,1244.4 L1388.7,1244.4 L1389.7,1244.4 L1390.7,1244.4 L1391.7,1244.4 L1392.7,1244.4 L1393.7,1244.4 L1394.7,1244.4 L1395.7,1244.4 L1396.7,1244.4 L1397.7,1244.4 L1398.7,1244.4 L1399.7,1244.4 L1400.7,1244.4 L1401.7,1244.4 L1402.7,1244.4 L1403.7,1244.4 L1404.7,1244.4 L1405.7,1244.4 L1406.7,1244.4 L1407.7,1244.4 L1408.7,1244.4 L1409.7,1244.4 L1410.7,1244.4 L1411.7,1244.4 L1412.7,1244.4 L1413.7,1244.4 L1414.7,1244.5 L1415.7,1244.5 L1416.7,1244.5 L1417.7,1244.5 L1418.7,1244.5 L1419.7,1244.5 L1420.7,1244.5 L1421.7,1244.5 L1422.7,1244.5 L1423.7,1244.5 L1424.7,1244.5 L1425.7,1244.5 L1426.7,1244.5 L1427.7,1244.5 L1428.7,1244.5 L1429.7,1244.5 L1430.7,1244.5 L1431.7,1244.5 L1432.7,1244.6 L1433.7,1244.6 L1434.7,1244.6 L1435.7,1244.6 L1436.7,1244.6 L1437.7,1244.6 L1438.7,1244.6 L1439.7,1244.6 L1440.7,1244.6 L1441.7,1244.6 L1442.7,1244.6 L1443.7,1244.6 L1444.7,1244.7 L1445.7,1244.7 L1446.7,1244.7 L1447.7,1244.7 L1448.7,1244.7 L1449.7,1244.7 L1450.7,1244.7 L1451.7,1244.7 L1452.7,1244.7 L1453.7,1244.7 L1454.7,1244.7 L1455.7,1244.8 L1456.7,1244.8 L1457.7,1244.8 L1458.7,1244.8 L1459.7,1244.8 L1460.7,1244.8 L1461.7,1244.8 L1462.7,1244.8 L1463.7,1244.8 L1464.7,1244.8 L1465.7,1244.9 L1466.7,1244.9 L1467.7,1244.9 L1468.7,1244.9 L1469.7,1244.9 L1470.7,1244.9 L1471.7,1244.9 L1472.7,1244.9 L1473.7,1244.9 L1474.7,1245.0 L1475.7,1245.0 L1476.7,1245.0 L1477.7,1245.0 L1478.7,1245.0 L1479.7,1245.0 L1480.7,1245.0 L1481.7,1245.0 L1482.7,1245.1 L1483.7,1245.1 L1484.7,1245.1 L1485.7,1245.1 L1486.7,1245.1 L1487.7,1245.1 L1488.7,1245.1 L1489.7,1245.1 L1490.7,1245.2 L1491.7,1245.2 L1492.7,1245.2 L1493.7,1245.2 L1494.7,1245.2 L1495.7,1245.2 L1496.7,1245.2 L1497.7,1245.2 L1498.7,1245.3 L1499.7,1245.3 L1500.7,1245.3 L1501.7,1245.3 L1502.7,1245.3 L1503.7,1245.3 L1504.7,1245.3 L1505.7,1245.3 L1506.7,1245.4 L1507.7,1245.4 L1508.7,1245.4 L1509.7,1245.4 L1510.7,1245.4 L1511.7,1245.4 L1512.7,1245.4 L1513.7,1245.4 L1514.7,1245.5 L1515.7,1245.5 L1516.7,1245.5 L1517.7,1245.5 L1518.7,1245.5 L1519.7,1245.5 L1520.7,1245.5 L1521.7,1245.6 L1522.7,1245.6 L1523.7,1245.6 L1524.7,1245.6 L1525.7,1245.6 L1526.7,1245.6 L1527.7,1245.6 L1528.7,1245.7 L1529.7,1245.7 L1530.7,1245.7 L1531.7,1245.7 L1532.7,1245.7 L1533.7,1245.7 L1534.7,1245.7 L1535.7,1245.7 L1536.7,1245.8 L1537.7,1245.8 L1538.7,1245.8 L1539.7,1245.8 L1540.7,1245.8 L1541.7,1245.8 L1542.7,1245.8 L1543.7,1245.9 L1544.7,1245.9 L1545.7,1245.9 L1546.7,1245.9 L1547.7,1245.9 L1548.7,1245.9 L1549.7,1245.9 L1550.7,1245.9 L1551.7,1246.0 L1552.7,1246.0 L1553.7,1246.0 L1554.7,1246.0 L1555.7,1246.0 L1556.7,1246.0 L1557.7,1246.0 L1558.7,1246.0 L1559.7,1246.1 L1560.7,1246.1 L1561.7,1246.1 L1562.7,1246.1 L1563.7,1246.1 L1564.7,1246.1 L1565.7,1246.1 L1566.7,1246.1 L1567.7,1246.2 L1568.7,1246.2 L1569.7,1246.2 L1570.7,1246.2 L1571.7,1246.2 L1572.7,1246.2 L1573.7,1246.2 L1574.7,1246.2 L1575.7,1246.2 L1576.7,1246.3 L1577.7,1246.3 L1578.7,1246.3 L1579.7,1246.3 L1580.7,1246.3 L1581.7,1246.3 L1582.7,1246.3 L1583.7,1246.3 L1584.7,1246.3 L1585.7,1246.4 L1586.7,1246.4 L1587.7,1246.4 L1588.7,1246.4 L1589.7,1246.4 L1590.7,1246.4 L1591.7,1246.4 L1592.7,1246.4 L1593.7,1246.4 L1594.7,1246.4 L1595.7,1246.5 L1596.7,1246.5 L1597.7,1246.5 L1598.7,1246.5 L1599.7,1246.5 L1600.7,1246.5 L1601.7,1246.5 L1602.7,1246.5 L1603.7,1246.5 L1604.7,1246.5 L1605.7,1246.6 L1606.7,1246.6 L1607.7,1246.6 L1608.7,1246.6 L1609.7,1246.6 L1610.7,1246.6 L1611.7,1246.6 L1612.7,1246.6 L1613.7,1246.6 L1614.7,1246.6 L1615.7,1246.6 L1616.7,1246.7 L1617.7,1246.7 L1618.7,1246.7 L1619.7,1246.7 L1620.7,1246.7 L1621.7,1246.7 L1622.7,1246.7 L1623.7,1246.7 L1624.7,1246.7 L1625.7,1246.7 L1626.7,1246.7 L1627.7,1246.7 L1628.7,1246.8 L1629.7,1246.8 L1630.7,1246.8 L1631.7,1246.8 L1632.7,1246.8 L1633.7,1246.8 L1634.7,1246.8 L1635.7,1246.8 L1636.7,1246.8 L1637.7,1246.8 L1638.7,1246.8 L1639.7,1246.9 L1640.7,1246.9 L1641.7,1246.9 L1642.7,1246.9 L1643.7,1246.9 L1644.7,1246.9 L1645.7,1246.9 L1646.7,1246.9 L1647.7,1246.9 L1648.7,1246.9 L1649.7,1246.9 L1650.7,1247.0 L1651.7,1247.0 L1652.7,1247.0 L1653.7,1247.0 L1654.7,1247.0 L1655.7,1247.0 L1656.7,1247.0 L1657.7,1247.0 L1658.7,1247.0 L1659.7,1247.0 L1660.7,1247.0 L1661.7,1247.0 L1662.7,1247.1 L1663.7,1247.1 L1664.7,1247.1 L1665.7,1247.1 L1666.7,1247.1 L1667.7,1247.1 L1668.7,1247.1 L1669.7,1247.1 L1670.7,1247.1 L1671.7,1247.1 L1672.7,1247.1 L1673.7,1247.1 L1674.7,1247.2 L1675.7,1247.2 L1676.7,1247.2 L1677.7,1247.2 L1678.7,1247.2 L1679.7,1247.2 L1680.7,1247.2 L1681.7,1247.2 L1682.7,1247.2 L1683.7,1247.2 L1684.7,1247.2 L1685.7,1247.3 L1686.7,1247.3 L1687.7,1247.3 L1688.7,1247.3 L1689.7,1247.3 L1690.7,1247.3 L1691.7,1247.3 L1692.7,1247.3 L1693.7,1247.3 L1694.7,1247.3 L1695.7,1247.3 L1696.7,1247.3 L1697.7,1247.4 L1698.7,1247.4 L1699.7,1247.4 L1700.7,1247.4 L1701.7,1247.4 L1702.7,1247.4 L1703.7,1247.4 L1704.7,1247.4 L1705.7,1247.4 L1706.7,1247.4 L1707.7,1247.4 L1708.7,1247.4 L1709.7,1247.5 L1710.7,1247.5 L1711.7,1247.5 L1712.7,1247.5 L1713.7,1247.5 L1714.7,1247.5 L1715.7,1247.5 L1716.7,1247.5 L1717.7,1247.5 L1718.7,1247.5 L1719.7,1247.5 L1720.7,1247.5 L1721.7,1247.5 L1722.7,1247.6 L1723.7,1247.6 L1724.7,1247.6 L1725.7,1247.6 L1726.7,1247.6 L1727.7,1247.6 L1728.7,1247.6 L1729.7,1247.6 L1730.7,1247.6 L1731.7,1247.6 L1732.7,1247.6 L1733.7,1247.6 L1734.7,1247.7 L1735.7,1247.7 L1736.7,1247.7 L1737.7,1247.7 L1738.7,1247.7 L1739.7,1247.7 L1740.7,1247.7 L1741.7,1247.7 L1742.7,1247.7 L1743.7,1247.7 L1744.7,1247.7 L1745.7,1247.7 L1746.7,1247.7 L1747.7,1247.8 L1748.7,1247.8 L1749.7,1247.8 L1750.7,1247.8 L1751.7,1247.8 L1752.7,1247.8 L1753.7,1247.8 L1754.7,1247.8 L1755.7,1247.8 L1756.7,1247.8 L1757.7,1247.8 L1758.7,1247.8 L1759.7,1247.9 L1760.7,1247.9 L1761.7,1247.9 L1762.7,1247.9 L1763.7,1247.9 L1764.7,1247.9 L1765.7,1247.9 L1766.7,1247.9 L1767.7,1247.9 L1768.7,1247.9 L1769.7,1247.9 L1770.7,1247.9 L1771.7,1247.9 L1772.7,1248.0 L1773.7,1248.0 L1774.7,1248.0 L1775.7,1248.0 L1776.7,1248.0 L1777.7,1248.0 L1778.7,1248.0 L1779.7,1248.0 L1780.7,1248.0 L1781.7,1248.0 L1782.7,1248.0 L1783.7,1248.0 L1784.7,1248.0 L1785.7,1248.1 L1786.7,1248.1 L1787.7,1248.1 L1788.7,1248.1 L1789.7,1248.1 L1790.7,1248.1 L1791.7,1248.1 L1792.7,1248.1 L1793.7,1248.1 L1794.7,1248.1 L1795.7,1248.1 L1796.7,1248.1 L1797.7,1248.1 L1798.7,1248.1 L1799.7,1248.2 L1800.7,1248.2 L1801.7,1248.2 L1802.7,1248.2 L1803.7,1248.2 L1804.7,1248.2 L1805.7,1248.2"/>
<g fill="#000">
<path d="M390.8,160.1 h26.4 l-13.2,28.0 z"/>
<path d="M384.1,348.5 h26.4 l-13.2,28.0 z"/>
<path d="M930.8,308.2 h26.4 l-13.2,28.0 z"/>
<path d="M1186.8,308.0 h26.4 l-13.2,28.0 z"/>
<path d="M1443.8,319.0 h26.4 l-13.2,28.0 z"/>
<path d="M930.8,496.1 h26.4 l-13.2,28.0 z"/>
<path d="M1186.8,485.1 h26.4 l-13.2,28.0 z"/>
<path d="M1443.8,496.2 h26.4 l-13.2,28.0 z"/>
<path d="M384.3,643.0 h26.4 l-13.2,28.0 z"/>
<path d="M926.0,609.0 h26.4 l-13.2,28.0 z"/>
<path d="M1187.0,609.0 h26.4 l-13.2,28.0 z"/>
<path d="M1444.0,609.0 h26.4 l-13.2,28.0 z"/>
<path d="M384.3,792.0 h26.4 l-13.2,28.0 z"/>
<path d="M926.0,757.9 h26.4 l-13.2,28.0 z"/>
<path d="M1187.0,757.9 h26.4 l-13.2,28.0 z"/>
<path d="M1438.8,757.9 h26.4 l-13.2,28.0 z"/>
<path d="M384.3,930.7 h26.4 l-13.2,28.0 z"/>
<path d="M1190.8,930.7 h26.4 l-13.2,28.0 z"/>
<path d="M1444.1,885.6 h26.4 l-13.2,28.0 z"/>
</g>
<g fill="#000">
<rect x="310" y="27" width="12" height="1251"/>
<rect x="309" y="1266" width="1515" height="12"/>
<rect x="310" y="27" width="1514" height="12"/>
<rect x="1811.5" y="27" width="12.3" height="1251"/>
<rect x="1811.5" y="27" width="15.3" height="171"/>
<rect x="273" y="1254.0" width="38" height="12"/>
<rect x="273" y="1079.5" width="38" height="12"/>
<rect x="273" y="905.0" width="38" height="12"/>
<rect x="273" y="730.5" width="38" height="12"/>
<rect x="273" y="556.0" width="38" height="12"/>
<rect x="273" y="381.5" width="38" height="12"/>
<rect x="273" y="207.0" width="38" height="12"/>
<rect x="322.1" y="1277" width="11.8" height="38"/>
<rect x="533.2" y="1277" width="11.8" height="38"/>
<rect x="744.4" y="1277" width="11.8" height="38"/>
<rect x="955.5" y="1277" width="11.8" height="38"/>
<rect x="1166.7" y="1277" width="11.8" height="38"/>
<rect x="1377.8" y="1277" width="11.8" height="38"/>
<rect x="1588.9" y="1277" width="11.8" height="38"/>
<rect x="1800.1" y="1277" width="11.8" height="38"/>
</g>
<rect x="1336.2" y="36" width="478" height="158.7" fill="none" stroke="#000" stroke-width="6.4" stroke-linejoin="round"/>
<path d="M1823,32 H2263 V1269 H1823" fill="none" stroke="#000" stroke-width="9.2" stroke-linejoin="round"/>
<path fill="#000" d="M1372,67 h37 l-18.5,39 z"/>
<path fill="#fcab82" d="M1390,125 l17,25.5 l-17,25.5 l-17,-25.5 z"/>
<rect x="1840" y="380.1" width="95" height="19.8" rx="1.5" fill="#000000"/>
<rect x="1840" y="550.9" width="95" height="19.8" rx="1.5" fill="#00e6e6"/>
<rect x="1840" y="687.2" width="95" height="19.8" rx="1.5" fill="#0a00c8"/>
<rect x="1840" y="841.0" width="95" height="19.8" rx="1.5" fill="#00cc00"/>
<rect x="1840" y="1011.9" width="95" height="19.8" rx="1.5" fill="#7000c8"/>
<rect x="1840" y="1234.2" width="95" height="19.8" rx="1.5" fill="#ffa050"/>
<text class="ab" font-size="60.3" transform="translate(220.40 1282.10) scale(1.0000 1.0400)" >0</text>
<text class="ab" font-size="60.3" transform="translate(186.90 1107.60) scale(1.0000 1.0400)" >50</text>
<text class="ab" font-size="60.3" transform="translate(153.40 933.10) scale(1.0000 1.0400)" >100</text>
<text class="ab" font-size="60.3" transform="translate(153.40 758.60) scale(1.0000 1.0400)" >150</text>
<text class="ab" font-size="60.3" transform="translate(153.40 584.10) scale(1.0000 1.0400)" >200</text>
<text class="ab" font-size="60.3" transform="translate(153.40 409.60) scale(1.0000 1.0400)" >250</text>
<text class="ab" font-size="60.3" transform="translate(29.31 248.20) scale(0.9924 1.0429)" >300x10</text>
<text class="ab" font-size="39.5" transform="translate(231.88 204.99) scale(1.0154 1.0107)" >3</text>
<text class="ab" font-size="60.3" transform="translate(276.60 1395.70) scale(1.0000 1.0400)" >100</text>
<text class="ab" font-size="60.3" transform="translate(488.74 1395.70) scale(1.0000 1.0400)" >200</text>
<text class="ab" font-size="60.3" transform="translate(700.13 1395.70) scale(1.0000 1.0400)" >300</text>
<text class="ab" font-size="60.3" transform="translate(911.52 1395.70) scale(1.0000 1.0400)" >400</text>
<text class="ab" font-size="60.3" transform="translate(1122.16 1395.70) scale(1.0000 1.0400)" >500</text>
<text class="ab" font-size="60.3" transform="translate(1333.30 1395.70) scale(1.0000 1.0400)" >600</text>
<text class="ab" font-size="60.3" transform="translate(1544.19 1395.70) scale(1.0000 1.0400)" >700</text>
<text class="ab" font-size="60.3" transform="translate(1755.58 1395.70) scale(1.0000 1.0400)" >800</text>
<text class="ab" font-size="61.5" transform="translate(795.26 1501.70) scale(0.9860 0.9820)" >Raman shift (cm</text>
<text class="ab" font-size="41" transform="translate(1266.62 1459.70) scale(0.9227 1.0536)" >−1</text>
<text class="ab" font-size="61.5" transform="translate(1316.80 1501.92) scale(0.8286 0.9825)" >)</text>
<text class="ab" font-size="59.5" transform="translate(84.70 770.14) rotate(-90) scale(1.0108 0.9907)" >Intensity</text>
<text class="ab" font-size="51.3" transform="translate(438.00 228.10) scale(1.0000 1.0500)" >E</text>
<text class="ab" font-size="37.5" transform="translate(471.50 238.80) scale(1.0000 1.0000)" >g</text>
<text class="ab" font-size="51.3" transform="translate(967.50 343.70) scale(1.0000 1.0500)" >B</text>
<text class="ab" font-size="37.5" transform="translate(1004.10 355.80) scale(1.0000 1.0000)" >1g</text>
<text class="ab" font-size="51.3" transform="translate(1234.50 331.90) scale(1.0000 1.0500)" >A</text>
<text class="ab" font-size="37.5" transform="translate(1271.00 345.00) scale(1.0000 1.0000)" >1g</text>
<text class="ab" font-size="51.3" transform="translate(1497.20 336.80) scale(1.0000 1.0500)" >E</text>
<text class="ab" font-size="37.5" transform="translate(1530.80 348.00) scale(1.0000 1.0000)" >g</text>
<text class="ab" font-size="51.3" transform="translate(805.70 1133.70) scale(1.0000 1.0500)" >A</text>
<text class="ab" font-size="37.5" transform="translate(842.20 1145.90) scale(1.0000 1.0000)" >1g</text>
<text class="ai" font-size="41.7" transform="translate(885.99 250.30) scale(0.9950 1.0300)" >x10</text>
<text class="ai" font-size="41.7" transform="translate(886.99 483.70) scale(0.9950 1.0300)" >x10</text>
<text class="ai" font-size="41.7" transform="translate(1708.49 677.80) scale(0.9950 1.0300)" >x10</text>
<text class="ai" font-size="41.7" transform="translate(1717.79 831.30) scale(0.9950 1.0300)" >x10</text>
<text class="ai" font-size="41.7" transform="translate(531.99 954.50) scale(0.9950 1.0300)" >x10</text>
<text class="ai" font-size="41.7" transform="translate(1724.99 944.00) scale(0.9950 1.0300)" >x10</text>
<text class="blk" font-size="49.5" transform="translate(1449.64 95.60) scale(1.0877 0.9351)" >TiO</text>
<text class="s2" font-size="46" transform="translate(1538.75 93.99) scale(0.9758 0.9543)" >₂</text>
<text class="blk" font-size="49.5" transform="translate(1576.30 95.90) scale(1.0996 0.9324)" >Peaks</text>
<text class="blk" font-size="49.5" transform="translate(1454.88 168.62) scale(1.0379 0.9838)" >SnS</text>
<text class="s2" font-size="46" transform="translate(1554.85 166.86) scale(0.9758 0.9200)" >₂</text>
<text class="blk" font-size="49.5" transform="translate(1588.09 168.90) scale(1.1053 0.9324)" >Peaks</text>
<text class="blk" font-size="53" transform="translate(1914.78 89.33) scale(1.0365 0.9772)" >SnS</text>
<text class="s2" font-size="48" transform="translate(2021.18 87.96) scale(0.9086 0.9722)" >₂</text>
<text class="ar" font-size="53" transform="translate(2041.12 89.82) scale(0.8323 0.9772)" >/</text>
<text class="blk" font-size="53" transform="translate(2056.53 89.39) scale(1.0621 0.9415)" >TiO</text>
<text class="s2" font-size="48" transform="translate(2148.95 87.96) scale(0.9771 0.9722)" >₂</text>
<text class="ar" font-size="53" transform="translate(1952.17 169.78) scale(1.0864 1.0427)" >%</text>
<text class="blk" font-size="53" transform="translate(2005.99 168.82) scale(1.0187 0.9899)" >SnS</text>
<text class="s2" font-size="48" transform="translate(2110.48 167.20) scale(0.9086 0.9500)" >₂</text>
<rect x="1913.2" y="94.5" width="255.7" height="2.8" fill="#000"/>
<rect x="1952" y="174.3" width="177.1" height="2.6" fill="#000"/>
<text class="blk" font-size="56" transform="translate(1962.77 407.61) scale(1.1345 0.9904)" >0</text>
<text class="blk" font-size="56" transform="translate(2018.85 407.52) scale(0.8324 0.9523)" >(</text>
<text class="blk" font-size="56" transform="translate(2039.44 407.67) scale(1.0798 0.9558)" >TiO</text>
<text class="s2" font-size="60" transform="translate(2139.86 405.16) scale(0.9767 1.1378)" >₂</text>
<text class="blk" font-size="56" transform="translate(2168.18 407.52) scale(0.8833 0.9523)" >)</text>
<text class="blk" font-size="56" transform="translate(1963.76 578.62) scale(1.1390 0.9855)" >9</text>
<text class="blk" font-size="56" transform="translate(1957.82 707.20) scale(1.1554 0.9976)" >20</text>
<text class="blk" font-size="56" transform="translate(1956.20 868.74) scale(1.1366 0.9810)" >33</text>
<text class="blk" font-size="56" transform="translate(1959.07 1043.99) scale(1.1344 1.0049)" >75</text>
<text class="blk" font-size="56" transform="translate(1946.45 1256.81) scale(1.1400 0.9928)" >100</text>
<text class="blk" font-size="56" transform="translate(2073.69 1256.12) scale(0.8054 0.9523)" >(</text>
<text class="blk" font-size="56" transform="translate(2094.47 1257.08) scale(1.0502 1.0120)" >SnS</text>
<text class="s2" font-size="56" transform="translate(2207.59 1254.60) scale(1.0050 1.0381)" >₂</text>
<text class="blk" font-size="56" transform="translate(2236.18 1256.12) scale(0.7833 0.9523)" >)</text>
</svg></body></html>
